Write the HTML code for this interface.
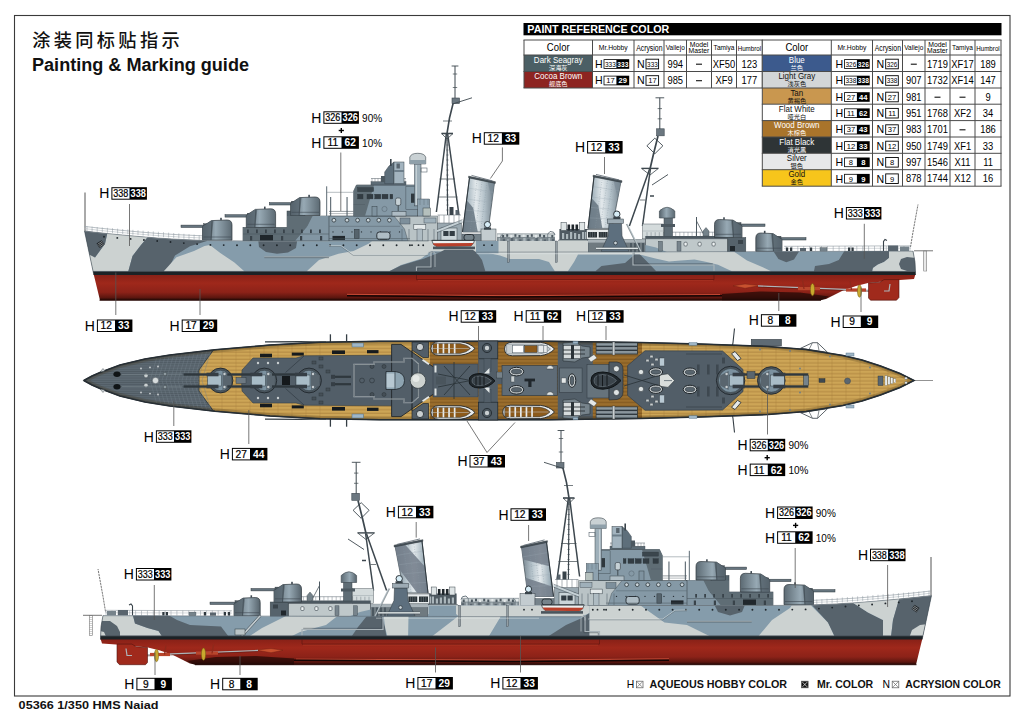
<!DOCTYPE html>
<html lang="zh"><head><meta charset="utf-8"><title>05366 1/350 HMS Naiad - Painting &amp; Marking guide</title>
<style>html,body{margin:0;padding:0;background:#fff;}svg{display:block;}</style></head>
<body>
<svg width="1024" height="719" viewBox="0 0 1024 719" font-family='"Liberation Sans", "Noto Sans CJK SC", sans-serif'>
<defs>
<linearGradient id="red" x1="0" y1="0" x2="0" y2="1"><stop offset="0" stop-color="#862017"/><stop offset="0.35" stop-color="#9f281b"/><stop offset="0.7" stop-color="#8c2218"/><stop offset="0.9" stop-color="#5c160f"/><stop offset="1" stop-color="#1f0805"/></linearGradient>
<linearGradient id="tur" x1="0" y1="0" x2="1" y2="0"><stop offset="0" stop-color="#56636c"/><stop offset="0.45" stop-color="#97a9b4"/><stop offset="1" stop-color="#5c6a73"/></linearGradient>
<linearGradient id="fun" x1="0" y1="0" x2="1" y2="0"><stop offset="0" stop-color="#5f6d77"/><stop offset="0.12" stop-color="#9fb0ba"/><stop offset="0.42" stop-color="#e3e9ec"/><stop offset="0.68" stop-color="#b4c2ca"/><stop offset="1" stop-color="#717f89"/></linearGradient>
<pattern id="plank" width="6" height="3.6" patternUnits="userSpaceOnUse"><rect width="6" height="3.6" fill="#cda556"/><rect y="2.3" width="6" height="1.3" fill="#b88f47"/></pattern>
<pattern id="plank2" width="6" height="3.6" patternUnits="userSpaceOnUse"><rect width="6" height="3.6" fill="#9b6e2d"/><rect y="2.3" width="6" height="1.3" fill="#845b22"/></pattern>
<pattern id="gplank" width="6" height="2.2" patternUnits="userSpaceOnUse"><rect width="6" height="2.2" fill="#5c6871"/><rect y="1.6" width="6" height="0.6" fill="#4d5860"/></pattern>
</defs>
<rect x="0.0" y="0.0" width="1024.0" height="719.0" fill="#fff" />
<rect x="14.5" y="15.5" width="995.5" height="680.5" fill="none" stroke="#3a3a3a" stroke-width="1.1" />
<text x="32.20" y="46.60" font-size="18.20" fill="#111" font-weight="500" text-anchor="start" letter-spacing="3.35">涂装同标贴指示</text>
<text x="32.00" y="70.60" font-size="18.90" fill="#111" font-weight="bold" text-anchor="start" textLength="217" lengthAdjust="spacingAndGlyphs">Painting &amp; Marking guide</text>
<text x="18.60" y="708.50" font-size="11.60" fill="#111" font-weight="bold" text-anchor="start" textLength="140" lengthAdjust="spacingAndGlyphs">05366 1/350 HMS Naiad</text>
<rect x="523.5" y="23.0" width="478.0" height="12.3" fill="#000" />
<text x="527.30" y="33.10" font-size="10.60" fill="#fff" font-weight="bold" text-anchor="start" textLength="142" lengthAdjust="spacingAndGlyphs">PAINT  REFERENCE COLOR</text>
<rect x="524.0" y="40.0" width="238.3" height="48.0" fill="#fff" />
<rect x="524.0" y="55.0" width="68.5" height="16.5" fill="#4b5f65" />
<rect x="524.0" y="71.5" width="68.5" height="16.5" fill="#8d2421" />
<line x1="524.0" y1="40.0" x2="524.0" y2="88.0" stroke="#4a4a4a" stroke-width="1" />
<line x1="592.5" y1="40.0" x2="592.5" y2="88.0" stroke="#4a4a4a" stroke-width="1" />
<line x1="634.0" y1="40.0" x2="634.0" y2="88.0" stroke="#4a4a4a" stroke-width="1" />
<line x1="664.0" y1="40.0" x2="664.0" y2="88.0" stroke="#4a4a4a" stroke-width="1" />
<line x1="686.5" y1="40.0" x2="686.5" y2="88.0" stroke="#4a4a4a" stroke-width="1" />
<line x1="711.5" y1="40.0" x2="711.5" y2="88.0" stroke="#4a4a4a" stroke-width="1" />
<line x1="736.5" y1="40.0" x2="736.5" y2="88.0" stroke="#4a4a4a" stroke-width="1" />
<line x1="762.3" y1="40.0" x2="762.3" y2="88.0" stroke="#4a4a4a" stroke-width="1" />
<line x1="523.5" y1="40.0" x2="762.8" y2="40.0" stroke="#4a4a4a" stroke-width="1" />
<line x1="523.5" y1="55.0" x2="762.8" y2="55.0" stroke="#4a4a4a" stroke-width="1" />
<line x1="523.5" y1="71.5" x2="762.8" y2="71.5" stroke="#4a4a4a" stroke-width="1" />
<line x1="523.5" y1="88.0" x2="762.8" y2="88.0" stroke="#4a4a4a" stroke-width="1" />
<text transform="translate(558.25,51.30) scale(0.900,1)" font-size="10.60" fill="#000" font-weight="normal" text-anchor="middle">Color</text>
<text transform="translate(613.25,50.00) scale(0.970,1)" font-size="7.00" fill="#000" font-weight="normal" text-anchor="middle">Mr.Hobby</text>
<text transform="translate(649.30,51.20) scale(0.800,1)" font-size="8.60" fill="#000" font-weight="normal" text-anchor="middle">Acrysion</text>
<text transform="translate(675.25,50.20) scale(0.970,1)" font-size="6.70" fill="#000" font-weight="normal" text-anchor="middle">Vallejo</text>
<text transform="translate(699.00,46.90) scale(1.000,1)" font-size="6.80" fill="#000" font-weight="normal" text-anchor="middle">Model</text>
<text transform="translate(699.00,52.90) scale(1.000,1)" font-size="6.80" fill="#000" font-weight="normal" text-anchor="middle">Master</text>
<text transform="translate(724.00,50.00) scale(0.980,1)" font-size="6.70" fill="#000" font-weight="normal" text-anchor="middle">Tamiya</text>
<text transform="translate(749.40,50.50) scale(0.900,1)" font-size="6.90" fill="#000" font-weight="normal" text-anchor="middle">Humbrol</text>
<text transform="translate(558.25,62.60) scale(0.950,1)" font-size="8.40" fill="#fff" font-weight="normal" text-anchor="middle">Dark Seagray</text>
<text transform="translate(558.25,69.60) scale(1.000,1)" font-size="6.20" fill="#fff" font-weight="normal" text-anchor="middle">深海灰</text>
<text x="594.90" y="67.80" font-size="10.60" fill="#000" font-weight="normal" text-anchor="start" >H</text>
<rect x="603.6" y="59.2" width="25.6" height="9.6" fill="#000" />
<rect x="604.4" y="60.0" width="12.0" height="8.0" fill="#fff" />
<text x="610.40" y="66.80" font-size="7.60" fill="#000" font-weight="normal" text-anchor="middle" textLength="10.8" lengthAdjust="spacingAndGlyphs">333</text>
<text x="622.80" y="66.80" font-size="7.60" fill="#fff" font-weight="bold" text-anchor="middle" textLength="11.0" lengthAdjust="spacingAndGlyphs">333</text>
<text x="636.90" y="67.80" font-size="10.60" fill="#000" font-weight="normal" text-anchor="start" >N</text>
<rect x="646.0" y="59.2" width="12.6" height="9.6" fill="#fff" stroke="#000" stroke-width="0.9" />
<text x="652.40" y="66.80" font-size="7.60" fill="#000" font-weight="normal" text-anchor="middle" textLength="10.6" lengthAdjust="spacingAndGlyphs">333</text>
<text transform="translate(675.25,67.60) scale(0.920,1)" font-size="10.20" fill="#000" font-weight="normal" text-anchor="middle">994</text>
<line x1="696.0" y1="64.2" x2="702.0" y2="64.2" stroke="#111" stroke-width="1.1" />
<text transform="translate(724.00,67.60) scale(0.920,1)" font-size="10.20" fill="#000" font-weight="normal" text-anchor="middle">XF50</text>
<text transform="translate(749.40,67.60) scale(0.920,1)" font-size="10.20" fill="#000" font-weight="normal" text-anchor="middle">123</text>
<text transform="translate(558.25,79.10) scale(0.950,1)" font-size="8.40" fill="#fff" font-weight="normal" text-anchor="middle">Cocoa Brown</text>
<text transform="translate(558.25,86.10) scale(1.000,1)" font-size="6.20" fill="#fff" font-weight="normal" text-anchor="middle">舰底色</text>
<text x="594.90" y="84.30" font-size="10.60" fill="#000" font-weight="normal" text-anchor="start" >H</text>
<rect x="603.6" y="75.7" width="25.6" height="9.6" fill="#000" />
<rect x="604.4" y="76.5" width="12.0" height="8.0" fill="#fff" />
<text x="610.40" y="83.30" font-size="7.60" fill="#000" font-weight="normal" text-anchor="middle" >17</text>
<text x="622.80" y="83.30" font-size="7.60" fill="#fff" font-weight="bold" text-anchor="middle" >29</text>
<text x="636.90" y="84.30" font-size="10.60" fill="#000" font-weight="normal" text-anchor="start" >N</text>
<rect x="646.0" y="75.7" width="12.6" height="9.6" fill="#fff" stroke="#000" stroke-width="0.9" />
<text x="652.40" y="83.30" font-size="7.60" fill="#000" font-weight="normal" text-anchor="middle" >17</text>
<text transform="translate(675.25,84.10) scale(0.920,1)" font-size="10.20" fill="#000" font-weight="normal" text-anchor="middle">985</text>
<line x1="696.0" y1="80.7" x2="702.0" y2="80.7" stroke="#111" stroke-width="1.1" />
<text transform="translate(724.00,84.10) scale(0.920,1)" font-size="10.20" fill="#000" font-weight="normal" text-anchor="middle">XF9</text>
<text transform="translate(749.40,84.10) scale(0.920,1)" font-size="10.20" fill="#000" font-weight="normal" text-anchor="middle">177</text>
<rect x="762.3" y="40.0" width="238.7" height="146.2" fill="#fff" />
<rect x="762.3" y="55.0" width="69.0" height="16.5" fill="#3c5a8d" />
<rect x="762.3" y="71.5" width="69.0" height="16.5" fill="#d3d6d8" />
<rect x="762.3" y="88.0" width="69.0" height="16.2" fill="#c9974f" />
<rect x="762.3" y="104.2" width="69.0" height="16.4" fill="#ffffff" />
<rect x="762.3" y="120.6" width="69.0" height="16.4" fill="#a9742b" />
<rect x="762.3" y="137.0" width="69.0" height="16.3" fill="#2e3436" />
<rect x="762.3" y="153.3" width="69.0" height="16.4" fill="#e7e8e9" />
<rect x="762.3" y="169.7" width="69.0" height="16.5" fill="#f7c51b" />
<line x1="762.3" y1="40.0" x2="762.3" y2="186.2" stroke="#4a4a4a" stroke-width="1" />
<line x1="831.3" y1="40.0" x2="831.3" y2="186.2" stroke="#4a4a4a" stroke-width="1" />
<line x1="872.5" y1="40.0" x2="872.5" y2="186.2" stroke="#4a4a4a" stroke-width="1" />
<line x1="902.5" y1="40.0" x2="902.5" y2="186.2" stroke="#4a4a4a" stroke-width="1" />
<line x1="925.0" y1="40.0" x2="925.0" y2="186.2" stroke="#4a4a4a" stroke-width="1" />
<line x1="950.0" y1="40.0" x2="950.0" y2="186.2" stroke="#4a4a4a" stroke-width="1" />
<line x1="975.0" y1="40.0" x2="975.0" y2="186.2" stroke="#4a4a4a" stroke-width="1" />
<line x1="1001.0" y1="40.0" x2="1001.0" y2="186.2" stroke="#4a4a4a" stroke-width="1" />
<line x1="761.8" y1="40.0" x2="1001.5" y2="40.0" stroke="#4a4a4a" stroke-width="1" />
<line x1="761.8" y1="55.0" x2="1001.5" y2="55.0" stroke="#4a4a4a" stroke-width="1" />
<line x1="761.8" y1="71.5" x2="1001.5" y2="71.5" stroke="#4a4a4a" stroke-width="1" />
<line x1="761.8" y1="88.0" x2="1001.5" y2="88.0" stroke="#4a4a4a" stroke-width="1" />
<line x1="761.8" y1="104.2" x2="1001.5" y2="104.2" stroke="#4a4a4a" stroke-width="1" />
<line x1="761.8" y1="120.6" x2="1001.5" y2="120.6" stroke="#4a4a4a" stroke-width="1" />
<line x1="761.8" y1="137.0" x2="1001.5" y2="137.0" stroke="#4a4a4a" stroke-width="1" />
<line x1="761.8" y1="153.3" x2="1001.5" y2="153.3" stroke="#4a4a4a" stroke-width="1" />
<line x1="761.8" y1="169.7" x2="1001.5" y2="169.7" stroke="#4a4a4a" stroke-width="1" />
<line x1="761.8" y1="186.2" x2="1001.5" y2="186.2" stroke="#4a4a4a" stroke-width="1" />
<text transform="translate(796.80,51.30) scale(0.900,1)" font-size="10.60" fill="#000" font-weight="normal" text-anchor="middle">Color</text>
<text transform="translate(851.90,50.00) scale(0.970,1)" font-size="7.00" fill="#000" font-weight="normal" text-anchor="middle">Mr.Hobby</text>
<text transform="translate(887.80,51.20) scale(0.800,1)" font-size="8.60" fill="#000" font-weight="normal" text-anchor="middle">Acrysion</text>
<text transform="translate(913.75,50.20) scale(0.970,1)" font-size="6.70" fill="#000" font-weight="normal" text-anchor="middle">Vallejo</text>
<text transform="translate(937.50,46.90) scale(1.000,1)" font-size="6.80" fill="#000" font-weight="normal" text-anchor="middle">Model</text>
<text transform="translate(937.50,52.90) scale(1.000,1)" font-size="6.80" fill="#000" font-weight="normal" text-anchor="middle">Master</text>
<text transform="translate(962.50,50.00) scale(0.980,1)" font-size="6.70" fill="#000" font-weight="normal" text-anchor="middle">Tamiya</text>
<text transform="translate(988.00,50.50) scale(0.900,1)" font-size="6.90" fill="#000" font-weight="normal" text-anchor="middle">Humbrol</text>
<text transform="translate(796.80,62.60) scale(0.950,1)" font-size="8.40" fill="#fff" font-weight="normal" text-anchor="middle">Blue</text>
<text transform="translate(796.80,69.60) scale(1.000,1)" font-size="6.20" fill="#fff" font-weight="normal" text-anchor="middle">兰色</text>
<text x="835.40" y="67.80" font-size="10.60" fill="#000" font-weight="normal" text-anchor="start" >H</text>
<rect x="844.1" y="59.2" width="25.6" height="9.6" fill="#000" />
<rect x="844.9" y="60.0" width="12.0" height="8.0" fill="#fff" />
<text x="850.90" y="66.80" font-size="7.60" fill="#000" font-weight="normal" text-anchor="middle" textLength="10.8" lengthAdjust="spacingAndGlyphs">326</text>
<text x="863.30" y="66.80" font-size="7.60" fill="#fff" font-weight="bold" text-anchor="middle" textLength="11.0" lengthAdjust="spacingAndGlyphs">326</text>
<text x="876.60" y="67.80" font-size="10.60" fill="#000" font-weight="normal" text-anchor="start" >N</text>
<rect x="885.7" y="59.2" width="12.6" height="9.6" fill="#fff" stroke="#000" stroke-width="0.9" />
<text x="892.10" y="66.80" font-size="7.60" fill="#000" font-weight="normal" text-anchor="middle" textLength="10.6" lengthAdjust="spacingAndGlyphs">326</text>
<line x1="910.8" y1="64.2" x2="916.8" y2="64.2" stroke="#111" stroke-width="1.1" />
<text transform="translate(937.50,67.60) scale(0.920,1)" font-size="10.20" fill="#000" font-weight="normal" text-anchor="middle">1719</text>
<text transform="translate(962.50,67.60) scale(0.920,1)" font-size="10.20" fill="#000" font-weight="normal" text-anchor="middle">XF17</text>
<text transform="translate(988.00,67.60) scale(0.920,1)" font-size="10.20" fill="#000" font-weight="normal" text-anchor="middle">189</text>
<text transform="translate(796.80,79.10) scale(0.950,1)" font-size="8.40" fill="#111" font-weight="normal" text-anchor="middle">Light Gray</text>
<text transform="translate(796.80,86.10) scale(1.000,1)" font-size="6.20" fill="#111" font-weight="normal" text-anchor="middle">浅灰色</text>
<text x="835.40" y="84.30" font-size="10.60" fill="#000" font-weight="normal" text-anchor="start" >H</text>
<rect x="844.1" y="75.7" width="25.6" height="9.6" fill="#000" />
<rect x="844.9" y="76.5" width="12.0" height="8.0" fill="#fff" />
<text x="850.90" y="83.30" font-size="7.60" fill="#000" font-weight="normal" text-anchor="middle" textLength="10.8" lengthAdjust="spacingAndGlyphs">338</text>
<text x="863.30" y="83.30" font-size="7.60" fill="#fff" font-weight="bold" text-anchor="middle" textLength="11.0" lengthAdjust="spacingAndGlyphs">338</text>
<text x="876.60" y="84.30" font-size="10.60" fill="#000" font-weight="normal" text-anchor="start" >N</text>
<rect x="885.7" y="75.7" width="12.6" height="9.6" fill="#fff" stroke="#000" stroke-width="0.9" />
<text x="892.10" y="83.30" font-size="7.60" fill="#000" font-weight="normal" text-anchor="middle" textLength="10.6" lengthAdjust="spacingAndGlyphs">338</text>
<text transform="translate(913.75,84.10) scale(0.920,1)" font-size="10.20" fill="#000" font-weight="normal" text-anchor="middle">907</text>
<text transform="translate(937.50,84.10) scale(0.920,1)" font-size="10.20" fill="#000" font-weight="normal" text-anchor="middle">1732</text>
<text transform="translate(962.50,84.10) scale(0.920,1)" font-size="10.20" fill="#000" font-weight="normal" text-anchor="middle">XF14</text>
<text transform="translate(988.00,84.10) scale(0.920,1)" font-size="10.20" fill="#000" font-weight="normal" text-anchor="middle">147</text>
<text transform="translate(796.80,95.60) scale(0.950,1)" font-size="8.40" fill="#111" font-weight="normal" text-anchor="middle">Tan</text>
<text transform="translate(796.80,102.60) scale(1.000,1)" font-size="6.20" fill="#111" font-weight="normal" text-anchor="middle">黄褐色</text>
<text x="835.40" y="100.80" font-size="10.60" fill="#000" font-weight="normal" text-anchor="start" >H</text>
<rect x="844.1" y="92.2" width="25.6" height="9.6" fill="#000" />
<rect x="844.9" y="93.0" width="12.0" height="8.0" fill="#fff" />
<text x="850.90" y="99.80" font-size="7.60" fill="#000" font-weight="normal" text-anchor="middle" >27</text>
<text x="863.30" y="99.80" font-size="7.60" fill="#fff" font-weight="bold" text-anchor="middle" >44</text>
<text x="876.60" y="100.80" font-size="10.60" fill="#000" font-weight="normal" text-anchor="start" >N</text>
<rect x="885.7" y="92.2" width="12.6" height="9.6" fill="#fff" stroke="#000" stroke-width="0.9" />
<text x="892.10" y="99.80" font-size="7.60" fill="#000" font-weight="normal" text-anchor="middle" >27</text>
<text transform="translate(913.75,100.60) scale(0.920,1)" font-size="10.20" fill="#000" font-weight="normal" text-anchor="middle">981</text>
<line x1="934.5" y1="97.2" x2="940.5" y2="97.2" stroke="#111" stroke-width="1.1" />
<line x1="959.5" y1="97.2" x2="965.5" y2="97.2" stroke="#111" stroke-width="1.1" />
<text transform="translate(988.00,100.60) scale(0.920,1)" font-size="10.20" fill="#000" font-weight="normal" text-anchor="middle">9</text>
<text transform="translate(796.80,111.80) scale(0.950,1)" font-size="8.40" fill="#111" font-weight="normal" text-anchor="middle">Flat White</text>
<text transform="translate(796.80,118.80) scale(1.000,1)" font-size="6.20" fill="#111" font-weight="normal" text-anchor="middle">哑光白</text>
<text x="835.40" y="117.00" font-size="10.60" fill="#000" font-weight="normal" text-anchor="start" >H</text>
<rect x="844.1" y="108.4" width="25.6" height="9.6" fill="#000" />
<rect x="844.9" y="109.2" width="12.0" height="8.0" fill="#fff" />
<text x="850.90" y="116.00" font-size="7.60" fill="#000" font-weight="normal" text-anchor="middle" >11</text>
<text x="863.30" y="116.00" font-size="7.60" fill="#fff" font-weight="bold" text-anchor="middle" >62</text>
<text x="876.60" y="117.00" font-size="10.60" fill="#000" font-weight="normal" text-anchor="start" >N</text>
<rect x="885.7" y="108.4" width="12.6" height="9.6" fill="#fff" stroke="#000" stroke-width="0.9" />
<text x="892.10" y="116.00" font-size="7.60" fill="#000" font-weight="normal" text-anchor="middle" >11</text>
<text transform="translate(913.75,116.80) scale(0.920,1)" font-size="10.20" fill="#000" font-weight="normal" text-anchor="middle">951</text>
<text transform="translate(937.50,116.80) scale(0.920,1)" font-size="10.20" fill="#000" font-weight="normal" text-anchor="middle">1768</text>
<text transform="translate(962.50,116.80) scale(0.920,1)" font-size="10.20" fill="#000" font-weight="normal" text-anchor="middle">XF2</text>
<text transform="translate(988.00,116.80) scale(0.920,1)" font-size="10.20" fill="#000" font-weight="normal" text-anchor="middle">34</text>
<text transform="translate(796.80,128.20) scale(0.950,1)" font-size="8.40" fill="#fff" font-weight="normal" text-anchor="middle">Wood Brown</text>
<text transform="translate(796.80,135.20) scale(1.000,1)" font-size="6.20" fill="#fff" font-weight="normal" text-anchor="middle">木棕色</text>
<text x="835.40" y="133.40" font-size="10.60" fill="#000" font-weight="normal" text-anchor="start" >H</text>
<rect x="844.1" y="124.8" width="25.6" height="9.6" fill="#000" />
<rect x="844.9" y="125.6" width="12.0" height="8.0" fill="#fff" />
<text x="850.90" y="132.40" font-size="7.60" fill="#000" font-weight="normal" text-anchor="middle" >37</text>
<text x="863.30" y="132.40" font-size="7.60" fill="#fff" font-weight="bold" text-anchor="middle" >43</text>
<text x="876.60" y="133.40" font-size="10.60" fill="#000" font-weight="normal" text-anchor="start" >N</text>
<rect x="885.7" y="124.8" width="12.6" height="9.6" fill="#fff" stroke="#000" stroke-width="0.9" />
<text x="892.10" y="132.40" font-size="7.60" fill="#000" font-weight="normal" text-anchor="middle" >37</text>
<text transform="translate(913.75,133.20) scale(0.920,1)" font-size="10.20" fill="#000" font-weight="normal" text-anchor="middle">983</text>
<text transform="translate(937.50,133.20) scale(0.920,1)" font-size="10.20" fill="#000" font-weight="normal" text-anchor="middle">1701</text>
<line x1="959.5" y1="129.8" x2="965.5" y2="129.8" stroke="#111" stroke-width="1.1" />
<text transform="translate(988.00,133.20) scale(0.920,1)" font-size="10.20" fill="#000" font-weight="normal" text-anchor="middle">186</text>
<text transform="translate(796.80,144.60) scale(0.950,1)" font-size="8.40" fill="#fff" font-weight="normal" text-anchor="middle">Flat Black</text>
<text transform="translate(796.80,151.60) scale(1.000,1)" font-size="6.20" fill="#fff" font-weight="normal" text-anchor="middle">消光黑</text>
<text x="835.40" y="149.80" font-size="10.60" fill="#000" font-weight="normal" text-anchor="start" >H</text>
<rect x="844.1" y="141.2" width="25.6" height="9.6" fill="#000" />
<rect x="844.9" y="142.0" width="12.0" height="8.0" fill="#fff" />
<text x="850.90" y="148.80" font-size="7.60" fill="#000" font-weight="normal" text-anchor="middle" >12</text>
<text x="863.30" y="148.80" font-size="7.60" fill="#fff" font-weight="bold" text-anchor="middle" >33</text>
<text x="876.60" y="149.80" font-size="10.60" fill="#000" font-weight="normal" text-anchor="start" >N</text>
<rect x="885.7" y="141.2" width="12.6" height="9.6" fill="#fff" stroke="#000" stroke-width="0.9" />
<text x="892.10" y="148.80" font-size="7.60" fill="#000" font-weight="normal" text-anchor="middle" >12</text>
<text transform="translate(913.75,149.60) scale(0.920,1)" font-size="10.20" fill="#000" font-weight="normal" text-anchor="middle">950</text>
<text transform="translate(937.50,149.60) scale(0.920,1)" font-size="10.20" fill="#000" font-weight="normal" text-anchor="middle">1749</text>
<text transform="translate(962.50,149.60) scale(0.920,1)" font-size="10.20" fill="#000" font-weight="normal" text-anchor="middle">XF1</text>
<text transform="translate(988.00,149.60) scale(0.920,1)" font-size="10.20" fill="#000" font-weight="normal" text-anchor="middle">33</text>
<text transform="translate(796.80,160.90) scale(0.950,1)" font-size="8.40" fill="#111" font-weight="normal" text-anchor="middle">Silver</text>
<text transform="translate(796.80,167.90) scale(1.000,1)" font-size="6.20" fill="#111" font-weight="normal" text-anchor="middle">银色</text>
<text x="835.40" y="166.10" font-size="10.60" fill="#000" font-weight="normal" text-anchor="start" >H</text>
<rect x="844.1" y="157.5" width="25.6" height="9.6" fill="#000" />
<rect x="844.9" y="158.3" width="12.0" height="8.0" fill="#fff" />
<text x="850.90" y="165.10" font-size="7.60" fill="#000" font-weight="normal" text-anchor="middle" >8</text>
<text x="863.30" y="165.10" font-size="7.60" fill="#fff" font-weight="bold" text-anchor="middle" >8</text>
<text x="876.60" y="166.10" font-size="10.60" fill="#000" font-weight="normal" text-anchor="start" >N</text>
<rect x="885.7" y="157.5" width="12.6" height="9.6" fill="#fff" stroke="#000" stroke-width="0.9" />
<text x="892.10" y="165.10" font-size="7.60" fill="#000" font-weight="normal" text-anchor="middle" >8</text>
<text transform="translate(913.75,165.90) scale(0.920,1)" font-size="10.20" fill="#000" font-weight="normal" text-anchor="middle">997</text>
<text transform="translate(937.50,165.90) scale(0.920,1)" font-size="10.20" fill="#000" font-weight="normal" text-anchor="middle">1546</text>
<text transform="translate(962.50,165.90) scale(0.920,1)" font-size="10.20" fill="#000" font-weight="normal" text-anchor="middle">X11</text>
<text transform="translate(988.00,165.90) scale(0.920,1)" font-size="10.20" fill="#000" font-weight="normal" text-anchor="middle">11</text>
<text transform="translate(796.80,177.30) scale(0.950,1)" font-size="8.40" fill="#111" font-weight="normal" text-anchor="middle">Gold</text>
<text transform="translate(796.80,184.30) scale(1.000,1)" font-size="6.20" fill="#111" font-weight="normal" text-anchor="middle">金色</text>
<text x="835.40" y="182.50" font-size="10.60" fill="#000" font-weight="normal" text-anchor="start" >H</text>
<rect x="844.1" y="173.9" width="25.6" height="9.6" fill="#000" />
<rect x="844.9" y="174.7" width="12.0" height="8.0" fill="#fff" />
<text x="850.90" y="181.50" font-size="7.60" fill="#000" font-weight="normal" text-anchor="middle" >9</text>
<text x="863.30" y="181.50" font-size="7.60" fill="#fff" font-weight="bold" text-anchor="middle" >9</text>
<text x="876.60" y="182.50" font-size="10.60" fill="#000" font-weight="normal" text-anchor="start" >N</text>
<rect x="885.7" y="173.9" width="12.6" height="9.6" fill="#fff" stroke="#000" stroke-width="0.9" />
<text x="892.10" y="181.50" font-size="7.60" fill="#000" font-weight="normal" text-anchor="middle" >9</text>
<text transform="translate(913.75,182.30) scale(0.920,1)" font-size="10.20" fill="#000" font-weight="normal" text-anchor="middle">878</text>
<text transform="translate(937.50,182.30) scale(0.920,1)" font-size="10.20" fill="#000" font-weight="normal" text-anchor="middle">1744</text>
<text transform="translate(962.50,182.30) scale(0.920,1)" font-size="10.20" fill="#000" font-weight="normal" text-anchor="middle">X12</text>
<text transform="translate(988.00,182.30) scale(0.920,1)" font-size="10.20" fill="#000" font-weight="normal" text-anchor="middle">16</text>
<g>
<line x1="85.0" y1="192.5" x2="85.0" y2="231.0" stroke="#555" stroke-width="1" />
<polyline points="910.5,247.0 913.0,232.0 918.0,204.5" fill="none" stroke="#666" stroke-width="0.9" stroke-dasharray="2.2 0.8"/>
<line x1="914.0" y1="250.8" x2="933.0" y2="250.8" stroke="#666" stroke-width="0.9" />
<rect x="923.7" y="251.0" width="3.0" height="20.0" fill="none" stroke="#777" stroke-width="0.6" />
<line x1="923.7" y1="253.0" x2="926.7" y2="253.0" stroke="#888" stroke-width="0.4" />
<line x1="923.7" y1="255.0" x2="926.7" y2="255.0" stroke="#888" stroke-width="0.4" />
<line x1="923.7" y1="257.0" x2="926.7" y2="257.0" stroke="#888" stroke-width="0.4" />
<line x1="923.7" y1="259.0" x2="926.7" y2="259.0" stroke="#888" stroke-width="0.4" />
<line x1="923.7" y1="261.0" x2="926.7" y2="261.0" stroke="#888" stroke-width="0.4" />
<line x1="923.7" y1="263.0" x2="926.7" y2="263.0" stroke="#888" stroke-width="0.4" />
<line x1="923.7" y1="265.0" x2="926.7" y2="265.0" stroke="#888" stroke-width="0.4" />
<line x1="923.7" y1="267.0" x2="926.7" y2="267.0" stroke="#888" stroke-width="0.4" />
<line x1="923.7" y1="269.0" x2="926.7" y2="269.0" stroke="#888" stroke-width="0.4" />
<polyline points="84.5,226.4 100.0,228.2 120.0,230.2 140.0,232.0 160.0,233.6 180.0,234.8 207.0,236.0" fill="none" stroke="#9aa4ab" stroke-width="0.7" />
<polyline points="84.5,228.6 100.0,230.4 120.0,232.4 140.0,234.2 160.0,235.8 180.0,237.0 207.0,238.2" fill="none" stroke="#b4bcc1" stroke-width="0.6" />
<line x1="87.0" y1="226.2" x2="87.0" y2="231.2" stroke="#8d979e" stroke-width="0.5" />
<line x1="92.1" y1="226.6" x2="92.1" y2="231.6" stroke="#8d979e" stroke-width="0.5" />
<line x1="97.2" y1="227.0" x2="97.2" y2="232.0" stroke="#8d979e" stroke-width="0.5" />
<line x1="102.3" y1="227.4" x2="102.3" y2="232.4" stroke="#8d979e" stroke-width="0.5" />
<line x1="107.4" y1="227.8" x2="107.4" y2="232.8" stroke="#8d979e" stroke-width="0.5" />
<line x1="112.5" y1="228.2" x2="112.5" y2="233.2" stroke="#8d979e" stroke-width="0.5" />
<line x1="117.6" y1="228.6" x2="117.6" y2="233.6" stroke="#8d979e" stroke-width="0.5" />
<line x1="122.7" y1="229.0" x2="122.7" y2="234.0" stroke="#8d979e" stroke-width="0.5" />
<line x1="127.8" y1="229.4" x2="127.8" y2="234.4" stroke="#8d979e" stroke-width="0.5" />
<line x1="132.9" y1="229.8" x2="132.9" y2="234.8" stroke="#8d979e" stroke-width="0.5" />
<line x1="138.0" y1="230.2" x2="138.0" y2="235.2" stroke="#8d979e" stroke-width="0.5" />
<line x1="143.1" y1="230.6" x2="143.1" y2="235.6" stroke="#8d979e" stroke-width="0.5" />
<line x1="148.2" y1="231.0" x2="148.2" y2="236.0" stroke="#8d979e" stroke-width="0.5" />
<line x1="153.3" y1="231.4" x2="153.3" y2="236.4" stroke="#8d979e" stroke-width="0.5" />
<line x1="158.4" y1="231.8" x2="158.4" y2="236.8" stroke="#8d979e" stroke-width="0.5" />
<line x1="163.5" y1="232.2" x2="163.5" y2="237.2" stroke="#8d979e" stroke-width="0.5" />
<line x1="168.6" y1="232.6" x2="168.6" y2="237.6" stroke="#8d979e" stroke-width="0.5" />
<line x1="173.7" y1="233.0" x2="173.7" y2="238.0" stroke="#8d979e" stroke-width="0.5" />
<line x1="178.8" y1="233.4" x2="178.8" y2="238.4" stroke="#8d979e" stroke-width="0.5" />
<line x1="183.9" y1="233.8" x2="183.9" y2="238.8" stroke="#8d979e" stroke-width="0.5" />
<line x1="189.0" y1="234.2" x2="189.0" y2="239.2" stroke="#8d979e" stroke-width="0.5" />
<line x1="194.1" y1="234.6" x2="194.1" y2="239.6" stroke="#8d979e" stroke-width="0.5" />
<line x1="199.2" y1="235.0" x2="199.2" y2="240.0" stroke="#8d979e" stroke-width="0.5" />
<line x1="204.3" y1="235.4" x2="204.3" y2="240.4" stroke="#8d979e" stroke-width="0.5" />
<line x1="784.0" y1="246.3" x2="911.0" y2="245.8" stroke="#8d979e" stroke-width="0.6" />
<line x1="784.0" y1="248.6" x2="911.0" y2="248.2" stroke="#aab3b9" stroke-width="0.5" />
<line x1="786.0" y1="246.0" x2="786.0" y2="251.0" stroke="#8d979e" stroke-width="0.5" />
<line x1="791.9" y1="246.0" x2="791.9" y2="251.0" stroke="#8d979e" stroke-width="0.5" />
<line x1="797.8" y1="246.0" x2="797.8" y2="251.0" stroke="#8d979e" stroke-width="0.5" />
<line x1="803.7" y1="246.0" x2="803.7" y2="251.0" stroke="#8d979e" stroke-width="0.5" />
<line x1="809.6" y1="246.0" x2="809.6" y2="251.0" stroke="#8d979e" stroke-width="0.5" />
<line x1="815.5" y1="246.0" x2="815.5" y2="251.0" stroke="#8d979e" stroke-width="0.5" />
<line x1="821.4" y1="246.0" x2="821.4" y2="251.0" stroke="#8d979e" stroke-width="0.5" />
<line x1="827.3" y1="246.0" x2="827.3" y2="251.0" stroke="#8d979e" stroke-width="0.5" />
<line x1="833.2" y1="246.0" x2="833.2" y2="251.0" stroke="#8d979e" stroke-width="0.5" />
<line x1="839.1" y1="246.0" x2="839.1" y2="251.0" stroke="#8d979e" stroke-width="0.5" />
<line x1="845.0" y1="246.0" x2="845.0" y2="251.0" stroke="#8d979e" stroke-width="0.5" />
<line x1="850.9" y1="246.0" x2="850.9" y2="251.0" stroke="#8d979e" stroke-width="0.5" />
<line x1="856.8" y1="246.0" x2="856.8" y2="251.0" stroke="#8d979e" stroke-width="0.5" />
<line x1="862.7" y1="246.0" x2="862.7" y2="251.0" stroke="#8d979e" stroke-width="0.5" />
<line x1="868.6" y1="246.0" x2="868.6" y2="251.0" stroke="#8d979e" stroke-width="0.5" />
<line x1="874.5" y1="246.0" x2="874.5" y2="251.0" stroke="#8d979e" stroke-width="0.5" />
<line x1="880.4" y1="246.0" x2="880.4" y2="251.0" stroke="#8d979e" stroke-width="0.5" />
<line x1="886.3" y1="246.0" x2="886.3" y2="251.0" stroke="#8d979e" stroke-width="0.5" />
<line x1="892.2" y1="246.0" x2="892.2" y2="251.0" stroke="#8d979e" stroke-width="0.5" />
<line x1="898.1" y1="246.0" x2="898.1" y2="251.0" stroke="#8d979e" stroke-width="0.5" />
<line x1="904.0" y1="246.0" x2="904.0" y2="251.0" stroke="#8d979e" stroke-width="0.5" />
<line x1="909.9" y1="246.0" x2="909.9" y2="251.0" stroke="#8d979e" stroke-width="0.5" />
<line x1="436.4" y1="212.0" x2="446.4" y2="133.5" stroke="#3d474e" stroke-width="1.5" />
<line x1="459.0" y1="215.0" x2="447.6" y2="133.5" stroke="#3d474e" stroke-width="1.5" />
<line x1="447.0" y1="133.5" x2="447.6" y2="215.0" stroke="#3d474e" stroke-width="1.2" />
<line x1="446.2" y1="140.0" x2="448.6" y2="140.0" stroke="#3d474e" stroke-width="0.5" />
<line x1="446.2" y1="145.0" x2="448.6" y2="145.0" stroke="#3d474e" stroke-width="0.5" />
<line x1="446.2" y1="150.0" x2="448.6" y2="150.0" stroke="#3d474e" stroke-width="0.5" />
<line x1="446.2" y1="155.0" x2="448.6" y2="155.0" stroke="#3d474e" stroke-width="0.5" />
<line x1="446.2" y1="160.0" x2="448.6" y2="160.0" stroke="#3d474e" stroke-width="0.5" />
<line x1="446.2" y1="165.0" x2="448.6" y2="165.0" stroke="#3d474e" stroke-width="0.5" />
<line x1="446.2" y1="170.0" x2="448.6" y2="170.0" stroke="#3d474e" stroke-width="0.5" />
<line x1="446.2" y1="175.0" x2="448.6" y2="175.0" stroke="#3d474e" stroke-width="0.5" />
<line x1="446.2" y1="180.0" x2="448.6" y2="180.0" stroke="#3d474e" stroke-width="0.5" />
<line x1="446.2" y1="185.0" x2="448.6" y2="185.0" stroke="#3d474e" stroke-width="0.5" />
<line x1="446.2" y1="190.0" x2="448.6" y2="190.0" stroke="#3d474e" stroke-width="0.5" />
<line x1="446.2" y1="195.0" x2="448.6" y2="195.0" stroke="#3d474e" stroke-width="0.5" />
<line x1="446.2" y1="200.0" x2="448.6" y2="200.0" stroke="#3d474e" stroke-width="0.5" />
<line x1="446.2" y1="205.0" x2="448.6" y2="205.0" stroke="#3d474e" stroke-width="0.5" />
<line x1="446.2" y1="210.0" x2="448.6" y2="210.0" stroke="#3d474e" stroke-width="0.5" />
<line x1="441.5" y1="133.5" x2="453.0" y2="133.5" stroke="#3d474e" stroke-width="1.6" />
<polyline points="441.5,133.5 447.0,139.0 453.0,133.5" fill="none" stroke="#3d474e" stroke-width="0.8" />
<line x1="439.5" y1="179.0" x2="455.0" y2="179.0" stroke="#3d474e" stroke-width="0.7" />
<line x1="438.0" y1="197.0" x2="457.5" y2="197.0" stroke="#3d474e" stroke-width="0.7" />
<polyline points="447.0,133.5 449.5,118.0 453.2,103.0" fill="none" stroke="#3d474e" stroke-width="1.6" />
<rect x="452.0" y="98.0" width="7.5" height="5.5" fill="#6b7780" stroke="#3d474e" stroke-width="0.6" />
<line x1="455.0" y1="66.0" x2="455.0" y2="98.0" stroke="#3d474e" stroke-width="1.0" />
<line x1="451.6" y1="66.0" x2="458.4" y2="66.0" stroke="#3d474e" stroke-width="0.9" />
<line x1="452.8" y1="74.0" x2="457.2" y2="74.0" stroke="#3d474e" stroke-width="0.7" />
<line x1="452.8" y1="87.5" x2="457.2" y2="87.5" stroke="#3d474e" stroke-width="0.7" />
<line x1="452.5" y1="104.0" x2="472.0" y2="97.8" stroke="#3d474e" stroke-width="0.9" />
<line x1="443.0" y1="121.0" x2="452.0" y2="121.0" stroke="#3d474e" stroke-width="0.7" />
<line x1="629.4" y1="226.0" x2="649.6" y2="169.0" stroke="#3d474e" stroke-width="1.5" />
<line x1="642.5" y1="226.0" x2="650.4" y2="169.0" stroke="#3d474e" stroke-width="1.5" />
<line x1="640.0" y1="200.0" x2="645.5" y2="200.0" stroke="#3d474e" stroke-width="0.7" />
<line x1="641.5" y1="168.4" x2="658.4" y2="168.4" stroke="#3d474e" stroke-width="1.4" />
<polyline points="641.5,168.4 650.0,175.0 658.4,168.4" fill="none" stroke="#3d474e" stroke-width="0.8" />
<polyline points="650.0,169.0 653.5,154.0 658.0,136.0" fill="none" stroke="#3d474e" stroke-width="1.7" />
<line x1="652.0" y1="185.0" x2="668.0" y2="174.5" stroke="#3d474e" stroke-width="0.9" />
<line x1="650.0" y1="196.0" x2="654.0" y2="196.0" stroke="#3d474e" stroke-width="1.5" />
<polygon points="654.8,138.2 662.9,145.8 654.8,153.8 646.9,145.8" fill="none" stroke="#3d474e" stroke-width="0.9" />
<rect x="656.6" y="128.8" width="7.6" height="7.0" fill="#6b7780" stroke="#3d474e" stroke-width="0.6" />
<line x1="659.8" y1="97.8" x2="659.8" y2="129.0" stroke="#3d474e" stroke-width="1.0" />
<line x1="655.5" y1="97.8" x2="664.2" y2="97.8" stroke="#3d474e" stroke-width="0.9" />
<line x1="657.6" y1="108.6" x2="662.0" y2="108.6" stroke="#3d474e" stroke-width="0.7" />
<line x1="657.6" y1="118.8" x2="662.0" y2="118.8" stroke="#3d474e" stroke-width="0.7" />
<polygon points="469.5,177.0 494.5,182.5 488.0,232.0 462.5,232.0" fill="url(#fun)" stroke="#3f4a52" stroke-width="0.7" />
<polygon points="466.6,200.1 473.2,208.0 477.8,232.0 462.5,232.0" fill="#6a7984" opacity="0.9"/>
<polygon points="487.5,181.0 494.5,182.5 492.2,200.3" fill="#7b8a95" opacity="0.7"/>
<line x1="477.0" y1="180.7" x2="470.1" y2="232.0" stroke="#8796a0" stroke-width="0.5" stroke-dasharray="0.8 1.6"/>
<line x1="482.0" y1="181.8" x2="475.2" y2="232.0" stroke="#8796a0" stroke-width="0.5" stroke-dasharray="0.8 1.6"/>
<line x1="487.0" y1="182.8" x2="480.4" y2="232.0" stroke="#8796a0" stroke-width="0.5" stroke-dasharray="0.8 1.6"/>
<line x1="468.1" y1="188.0" x2="493.2" y2="192.4" stroke="#9aa8b1" stroke-width="0.3" />
<line x1="466.7" y1="199.0" x2="491.9" y2="202.3" stroke="#9aa8b1" stroke-width="0.3" />
<line x1="465.3" y1="210.0" x2="490.6" y2="212.2" stroke="#9aa8b1" stroke-width="0.3" />
<line x1="463.9" y1="221.0" x2="489.3" y2="222.1" stroke="#9aa8b1" stroke-width="0.3" />
<polygon points="468.6,176.2 495.4,181.7 495.3,183.4 468.7,177.9" fill="#4a555d" stroke="#2a3237" stroke-width="0.5" />
<line x1="471.5" y1="175.4" x2="492.5" y2="180.9" stroke="#59656e" stroke-width="0.8" />
<line x1="469.5" y1="178.0" x2="462.5" y2="232.0" stroke="#2f383e" stroke-width="1.0" />
<polygon points="594.0,176.0 621.0,181.5 612.0,228.4 588.0,228.4" fill="url(#fun)" stroke="#3f4a52" stroke-width="0.7" />
<polygon points="591.5,198.0 598.3,205.6 602.4,228.4 588.0,228.4" fill="#6a7984" opacity="0.9"/>
<polygon points="613.4,180.0 621.0,181.5 617.8,198.4" fill="#7b8a95" opacity="0.7"/>
<line x1="602.1" y1="179.7" x2="595.2" y2="228.4" stroke="#8796a0" stroke-width="0.5" stroke-dasharray="0.8 1.6"/>
<line x1="607.5" y1="180.8" x2="600.0" y2="228.4" stroke="#8796a0" stroke-width="0.5" stroke-dasharray="0.8 1.6"/>
<line x1="612.9" y1="181.8" x2="604.8" y2="228.4" stroke="#8796a0" stroke-width="0.5" stroke-dasharray="0.8 1.6"/>
<line x1="592.8" y1="186.5" x2="619.2" y2="190.9" stroke="#9aa8b1" stroke-width="0.3" />
<line x1="591.6" y1="197.0" x2="617.4" y2="200.3" stroke="#9aa8b1" stroke-width="0.3" />
<line x1="590.4" y1="207.4" x2="615.6" y2="209.6" stroke="#9aa8b1" stroke-width="0.3" />
<line x1="589.2" y1="217.9" x2="613.8" y2="219.0" stroke="#9aa8b1" stroke-width="0.3" />
<polygon points="593.1,175.2 621.9,180.7 621.8,182.4 593.2,176.9" fill="#4a555d" stroke="#2a3237" stroke-width="0.5" />
<line x1="596.0" y1="174.4" x2="619.0" y2="179.9" stroke="#59656e" stroke-width="0.8" />
<line x1="594.0" y1="177.0" x2="588.0" y2="228.4" stroke="#2f383e" stroke-width="1.0" />
<rect x="243.0" y="227.5" width="86.0" height="13.3" fill="#637480" stroke="#39434a" stroke-width="0.6" />
<rect x="287.0" y="211.0" width="18.0" height="16.5" fill="#55636c" stroke="#39434a" stroke-width="0.5" />
<rect x="305.0" y="216.0" width="24.5" height="11.7" fill="#8296a3" stroke="#39434a" stroke-width="0.5" />
<polygon points="295.0,240.8 307.5,226.0 312.5,216.0 329.0,216.0 329.0,240.8" fill="#8296a3" />
<rect x="329.0" y="216.0" width="93.0" height="25.0" fill="#8599a6" stroke="#39434a" stroke-width="0.6" />
<polygon points="243.0,240.8 243.0,228.0 287.0,228.0 287.0,216.0 300.0,216.0 312.5,216.0 307.5,226.0 295.0,240.8" fill="#5f6d75" />
<polygon points="394.0,216.0 404.5,229.0 408.0,241.0 437.5,241.0 437.5,216.0" fill="#b9c3c6" stroke="#39434a" stroke-width="0.4" />
<line x1="243.0" y1="234.0" x2="329.0" y2="234.0" stroke="#46525a" stroke-width="0.5" />
<rect x="260.0" y="235.0" width="13.0" height="5.4" fill="#20272c" />
<rect x="247.0" y="229.5" width="1.8" height="3.6" fill="#39434a" />
<rect x="256.0" y="229.5" width="1.8" height="3.6" fill="#39434a" />
<rect x="265.0" y="229.5" width="1.8" height="3.6" fill="#39434a" />
<rect x="274.0" y="229.5" width="1.8" height="3.6" fill="#39434a" />
<rect x="283.0" y="229.5" width="1.8" height="3.6" fill="#39434a" />
<rect x="292.0" y="229.5" width="1.8" height="3.6" fill="#39434a" />
<rect x="301.0" y="229.5" width="1.8" height="3.6" fill="#39434a" />
<rect x="310.0" y="229.5" width="1.8" height="3.6" fill="#39434a" />
<rect x="319.0" y="229.5" width="1.8" height="3.6" fill="#39434a" />
<rect x="250.0" y="236.0" width="2.2" height="4.5" fill="#39434a" />
<rect x="281.0" y="236.0" width="2.2" height="4.5" fill="#39434a" />
<rect x="300.0" y="236.0" width="2.2" height="4.5" fill="#39434a" />
<rect x="320.0" y="236.0" width="2.2" height="4.5" fill="#39434a" />
<circle cx="333.9" cy="220.2" r="1.9" fill="#c9d3d8" stroke="#2f383e" stroke-width="0.8"/>
<circle cx="347.0" cy="220.2" r="1.9" fill="#c9d3d8" stroke="#2f383e" stroke-width="0.8"/>
<circle cx="357.6" cy="220.2" r="1.9" fill="#c9d3d8" stroke="#2f383e" stroke-width="0.8"/>
<circle cx="368.2" cy="220.2" r="1.9" fill="#c9d3d8" stroke="#2f383e" stroke-width="0.8"/>
<circle cx="378.8" cy="220.2" r="1.9" fill="#c9d3d8" stroke="#2f383e" stroke-width="0.8"/>
<circle cx="389.4" cy="220.2" r="1.9" fill="#c9d3d8" stroke="#2f383e" stroke-width="0.8"/>
<circle cx="333.0" cy="231.9" r="0.7" fill="#2b3339"/>
<circle cx="342.5" cy="231.9" r="0.7" fill="#2b3339"/>
<circle cx="352.0" cy="231.9" r="0.7" fill="#2b3339"/>
<circle cx="361.5" cy="231.9" r="0.7" fill="#2b3339"/>
<circle cx="371.0" cy="231.9" r="0.7" fill="#2b3339"/>
<circle cx="380.5" cy="231.9" r="0.7" fill="#2b3339"/>
<circle cx="390.0" cy="231.9" r="0.7" fill="#2b3339"/>
<circle cx="399.5" cy="231.9" r="0.7" fill="#2b3339"/>
<line x1="329.0" y1="226.3" x2="400.0" y2="226.3" stroke="#5d6c76" stroke-width="0.6" />
<rect x="354.3" y="229.3" width="4.8" height="9.4" fill="#55636c" stroke="#2f383e" stroke-width="0.5" />
<rect x="332.5" y="235.9" width="12.5" height="4.0" fill="#20272c" />
<rect x="376.8" y="232" width="13.2" height="7.6" rx="2.5" fill="#aebcc4" stroke="#20272c" stroke-width="0.9"/>
<line x1="329.0" y1="238.6" x2="410.0" y2="238.6" stroke="#46525a" stroke-width="0.5" />
<rect x="413.8" y="224.6" width="12.0" height="4.7" fill="#e4e9ea" stroke="#39434a" stroke-width="0.5" />
<rect x="417.0" y="229.0" width="5.5" height="12.0" fill="#aebbc2" stroke="#39434a" stroke-width="0.4" />
<rect x="400.0" y="218.0" width="10.0" height="6.0" fill="#7d8f9b" stroke="#39434a" stroke-width="0.4" />
<rect x="424.0" y="218.0" width="12.0" height="5.0" fill="#9fb0ba" stroke="#39434a" stroke-width="0.4" />
<line x1="402.0" y1="229.0" x2="402.0" y2="241.0" stroke="#59656e" stroke-width="0.6" />
<line x1="409.0" y1="229.0" x2="409.0" y2="241.0" stroke="#59656e" stroke-width="0.6" />
<line x1="428.0" y1="229.0" x2="428.0" y2="241.0" stroke="#59656e" stroke-width="0.6" />
<line x1="434.0" y1="229.0" x2="434.0" y2="241.0" stroke="#59656e" stroke-width="0.6" />
<polygon points="353.7,216.0 353.7,191.0 356.5,185.0 417.8,185.0 417.8,216.0" fill="#8599a6" stroke="#39434a" stroke-width="0.6" />
<polygon points="353.7,216.0 353.7,191.0 356.5,185.0 374.0,185.0 365.0,216.0" fill="#5f6d75" />
<rect x="405.9" y="186.3" width="12.5" height="23.0" fill="#8499a6" stroke="#39434a" stroke-width="0.4" />
<rect x="411.0" y="193.6" width="4.8" height="9.2" fill="#2f383e" />
<rect x="357.6" y="187.6" width="16.0" height="4.0" fill="#3b464d" stroke="#2f383e" stroke-width="0.4" />
<rect x="357.6" y="194.2" width="5.4" height="4.7" fill="#323c43" stroke="#2f383e" stroke-width="0.4" />
<rect x="367.0" y="194.2" width="6.0" height="4.7" fill="#323c43" stroke="#2f383e" stroke-width="0.4" />
<rect x="374.8" y="194.2" width="6.0" height="4.7" fill="#323c43" stroke="#2f383e" stroke-width="0.4" />
<rect x="382.0" y="194.2" width="6.0" height="4.7" fill="#323c43" stroke="#2f383e" stroke-width="0.4" />
<rect x="390.0" y="194.2" width="2.8" height="4.7" fill="#323c43" stroke="#2f383e" stroke-width="0.4" />
<rect x="372.0" y="206.5" width="5.0" height="9.5" fill="#7f93a0" stroke="#39434a" stroke-width="0.5" />
<circle cx="384.5" cy="209" r="2.6" fill="none" stroke="#5d6c76" stroke-width="0.6"/>
<rect x="395.6" y="198" width="5.2" height="7.4" rx="1.6" fill="#c5d0d5" stroke="#2f383e" stroke-width="0.6"/>
<line x1="398.2" y1="205.4" x2="398.2" y2="211.0" stroke="#2f383e" stroke-width="0.8" />
<rect x="392.0" y="211.5" width="14.0" height="4.5" fill="#aebcc4" stroke="#39434a" stroke-width="0.5" />
<line x1="353.7" y1="204.5" x2="365.0" y2="204.5" stroke="#4c5860" stroke-width="0.4" />
<rect x="371.0" y="181.7" width="35.0" height="3.3" fill="#5d6c76" stroke="#39434a" stroke-width="0.4" />
<line x1="372.0" y1="178.5" x2="372.0" y2="181.7" stroke="#4c5860" stroke-width="0.4" />
<line x1="375.0" y1="178.5" x2="375.0" y2="181.7" stroke="#4c5860" stroke-width="0.4" />
<line x1="378.0" y1="178.5" x2="378.0" y2="181.7" stroke="#4c5860" stroke-width="0.4" />
<line x1="381.0" y1="178.5" x2="381.0" y2="181.7" stroke="#4c5860" stroke-width="0.4" />
<line x1="384.0" y1="178.5" x2="384.0" y2="181.7" stroke="#4c5860" stroke-width="0.4" />
<line x1="387.0" y1="178.5" x2="387.0" y2="181.7" stroke="#4c5860" stroke-width="0.4" />
<line x1="390.0" y1="178.5" x2="390.0" y2="181.7" stroke="#4c5860" stroke-width="0.4" />
<line x1="393.0" y1="178.5" x2="393.0" y2="181.7" stroke="#4c5860" stroke-width="0.4" />
<line x1="396.0" y1="178.5" x2="396.0" y2="181.7" stroke="#4c5860" stroke-width="0.4" />
<line x1="399.0" y1="178.5" x2="399.0" y2="181.7" stroke="#4c5860" stroke-width="0.4" />
<line x1="402.0" y1="178.5" x2="402.0" y2="181.7" stroke="#4c5860" stroke-width="0.4" />
<line x1="405.0" y1="178.5" x2="405.0" y2="181.7" stroke="#4c5860" stroke-width="0.4" />
<line x1="371.0" y1="178.5" x2="406.0" y2="178.5" stroke="#4c5860" stroke-width="0.5" />
<polygon points="384.7,183.7 384.7,172.0 389.0,166.0 394.0,162.0 394.0,183.7" fill="#5e6f7b" stroke="#39434a" stroke-width="0.5" />
<rect x="394.0" y="162.0" width="10.0" height="21.7" fill="#a3b4bf" stroke="#39434a" stroke-width="0.5" />
<rect x="394.0" y="170.0" width="10.0" height="2.0" fill="#6d7e8a" />
<rect x="396.5" y="163.5" width="3.4" height="5.0" fill="#59656e" />
<rect x="390.0" y="159.0" width="1.6" height="7.0" fill="#39434a" />
<rect x="381.0" y="176.0" width="4.0" height="6.0" fill="#4c5860" />
<rect x="414.5" y="163.9" width="6.5" height="42.0" fill="#9fb0ba" stroke="#39434a" stroke-width="0.5" />
<line x1="416.3" y1="165.0" x2="416.3" y2="205.0" stroke="#d5dde0" stroke-width="0.9" />
<path d="M409.8,163.9 L409.8,157.2 Q411,153.3 417.7,153.3 Q424.5,153.3 425.7,157.2 L425.7,163.9 Z" fill="#c9d1d4" stroke="#39434a" stroke-width="0.6"/>
<rect x="409.8" y="160.0" width="15.9" height="3.9" fill="#8fa0aa" />
<rect x="421.0" y="168.0" width="6.0" height="4.0" fill="none" stroke="#59656e" stroke-width="0.6" />
<rect x="417.8" y="199.0" width="12.0" height="17.0" fill="#8ea2af" stroke="#39434a" stroke-width="0.4" />
<rect x="423.0" y="208.0" width="7.3" height="8.0" fill="#b5c0bd" stroke="#39434a" stroke-width="0.5" />
<line x1="420.0" y1="199.0" x2="420.0" y2="205.0" stroke="#59656e" stroke-width="0.4" />
<line x1="424.0" y1="199.0" x2="424.0" y2="205.0" stroke="#59656e" stroke-width="0.4" />
<line x1="428.0" y1="199.0" x2="428.0" y2="205.0" stroke="#59656e" stroke-width="0.4" />
<rect x="326.1" y="186.3" width="1.1" height="29.7" fill="#6c7880" />
<rect x="330.1" y="197.0" width="1.1" height="19.0" fill="#59656e" />
<rect x="346.5" y="197.0" width="1.1" height="19.0" fill="#59656e" />
<line x1="326.6" y1="192.3" x2="353.5" y2="192.3" stroke="#6c7880" stroke-width="0.5" />
<line x1="329.0" y1="211.4" x2="353.5" y2="211.4" stroke="#4c5860" stroke-width="0.6" />
<line x1="329.0" y1="213.6" x2="353.5" y2="213.6" stroke="#4c5860" stroke-width="0.4" />
<rect x="437.5" y="223.0" width="24.0" height="18.0" fill="#9aa8b0" stroke="#39434a" stroke-width="0.4" />
<rect x="441.0" y="228.0" width="16.0" height="12.4" fill="#cbd5d9" stroke="#39434a" stroke-width="0.5" />
<rect x="443.3" y="231.0" width="5.2" height="5.0" fill="#323c43" />
<rect x="449.6" y="231.0" width="5.2" height="5.0" fill="#323c43" />
<line x1="437.0" y1="231.0" x2="462.5" y2="221.0" stroke="#c5d0d5" stroke-width="2.0" />
<line x1="437.0" y1="232.6" x2="462.5" y2="222.6" stroke="#4c5860" stroke-width="0.5" />
<line x1="437.0" y1="229.6" x2="462.5" y2="219.6" stroke="#4c5860" stroke-width="0.5" />
<line x1="439.0" y1="215.0" x2="439.0" y2="223.0" stroke="#59656e" stroke-width="0.5" />
<line x1="444.0" y1="215.0" x2="444.0" y2="223.0" stroke="#59656e" stroke-width="0.5" />
<line x1="449.0" y1="215.0" x2="449.0" y2="223.0" stroke="#59656e" stroke-width="0.5" />
<line x1="454.0" y1="215.0" x2="454.0" y2="223.0" stroke="#59656e" stroke-width="0.5" />
<line x1="459.0" y1="215.0" x2="459.0" y2="223.0" stroke="#59656e" stroke-width="0.5" />
<line x1="437.5" y1="215.0" x2="461.0" y2="215.0" stroke="#59656e" stroke-width="0.5" />
<rect x="449.5" y="207.0" width="4.0" height="8.0" fill="#39434a" />
<rect x="455.5" y="210.0" width="3.0" height="5.0" fill="#59656e" />
<rect x="481.0" y="229.0" width="15.0" height="12.0" fill="#c3ccd0" stroke="#39434a" stroke-width="0.5" />
<circle cx="487.5" cy="224.6" r="3.1" fill="#d6ecf6" stroke="#20272c" stroke-width="0.9"/>
<rect x="484.0" y="227.5" width="7.0" height="2.2" fill="#39434a" />
<rect x="462.0" y="234.0" width="19.0" height="7.0" fill="#76838b" stroke="#39434a" stroke-width="0.4" />
<rect x="464" y="234.5" width="10" height="6" rx="2.4" fill="none" stroke="#20272c" stroke-width="0.9"/>
<rect x="497.0" y="233.8" width="58.0" height="3.4" fill="#c9d1d3" />
<rect x="497.0" y="237.0" width="58.0" height="8.0" fill="#7f8a90" />
<rect x="498.0" y="234.2" width="2.0" height="2.6" fill="#e4e9ea" />
<rect x="498.6" y="238.0" width="2.4" height="5.0" fill="#aab5ba" />
<rect x="502.1" y="235.0" width="2.0" height="2.6" fill="#4c5860" />
<rect x="502.7" y="238.7" width="2.4" height="5.0" fill="#59656e" />
<rect x="506.2" y="234.2" width="2.0" height="2.6" fill="#4c5860" />
<rect x="506.8" y="239.4" width="2.4" height="5.0" fill="#aab5ba" />
<rect x="510.3" y="235.0" width="2.0" height="2.6" fill="#e4e9ea" />
<rect x="510.9" y="238.0" width="2.4" height="5.0" fill="#59656e" />
<rect x="514.4" y="234.2" width="2.0" height="2.6" fill="#4c5860" />
<rect x="515.0" y="238.7" width="2.4" height="5.0" fill="#aab5ba" />
<rect x="518.5" y="235.0" width="2.0" height="2.6" fill="#4c5860" />
<rect x="519.1" y="239.4" width="2.4" height="5.0" fill="#59656e" />
<rect x="522.6" y="234.2" width="2.0" height="2.6" fill="#e4e9ea" />
<rect x="523.2" y="238.0" width="2.4" height="5.0" fill="#aab5ba" />
<rect x="526.7" y="235.0" width="2.0" height="2.6" fill="#4c5860" />
<rect x="527.3" y="238.7" width="2.4" height="5.0" fill="#59656e" />
<rect x="530.8" y="234.2" width="2.0" height="2.6" fill="#4c5860" />
<rect x="531.4" y="239.4" width="2.4" height="5.0" fill="#aab5ba" />
<rect x="534.9" y="235.0" width="2.0" height="2.6" fill="#e4e9ea" />
<rect x="535.5" y="238.0" width="2.4" height="5.0" fill="#59656e" />
<rect x="539.0" y="234.2" width="2.0" height="2.6" fill="#4c5860" />
<rect x="539.6" y="238.7" width="2.4" height="5.0" fill="#aab5ba" />
<rect x="543.1" y="235.0" width="2.0" height="2.6" fill="#4c5860" />
<rect x="543.7" y="239.4" width="2.4" height="5.0" fill="#59656e" />
<rect x="547.2" y="234.2" width="2.0" height="2.6" fill="#e4e9ea" />
<rect x="547.8" y="238.0" width="2.4" height="5.0" fill="#aab5ba" />
<rect x="551.3" y="235.0" width="2.0" height="2.6" fill="#4c5860" />
<rect x="551.9" y="238.7" width="2.4" height="5.0" fill="#59656e" />
<line x1="497.0" y1="233.8" x2="555.0" y2="233.8" stroke="#59656e" stroke-width="0.5" />
<line x1="497.0" y1="245.0" x2="586.0" y2="245.0" stroke="#6c7880" stroke-width="0.6" />
<polyline points="547.8,245.0 547.8,234.0 550.0,231.5 553.5,232.2 555.0,235.0" fill="none" stroke="#6c7880" stroke-width="1.0" />
<polyline points="500.8,245.0 500.8,236.0 503.0,233.6" fill="none" stroke="#6c7880" stroke-width="0.9" />
<rect x="558.8" y="240.0" width="29.4" height="12.2" fill="#bfc8ca" stroke="#39434a" stroke-width="0.5" />
<rect x="559.4" y="229.0" width="29.0" height="11.0" fill="#4f5a62" />
<rect x="561.0" y="222.5" width="5.4" height="8.0" fill="#dfe5e6" stroke="#39434a" stroke-width="0.5" />
<rect x="579.4" y="222.5" width="5.4" height="8.0" fill="#dfe5e6" stroke="#39434a" stroke-width="0.5" />
<rect x="567.5" y="224.5" width="2.6" height="6.0" fill="#20272c" />
<rect x="571.5" y="224.5" width="2.6" height="6.0" fill="#20272c" />
<rect x="575.5" y="224.5" width="2.6" height="6.0" fill="#20272c" />
<rect x="562.0" y="233.0" width="2.2" height="6.0" fill="#aab5ba" />
<rect x="566.0" y="234.0" width="2.2" height="5.0" fill="#aab5ba" />
<rect x="570.0" y="232.0" width="2.2" height="7.0" fill="#aab5ba" />
<rect x="574.0" y="233.0" width="2.2" height="6.0" fill="#aab5ba" />
<rect x="578.0" y="234.0" width="2.2" height="5.0" fill="#aab5ba" />
<rect x="582.0" y="232.0" width="2.2" height="7.0" fill="#aab5ba" />
<rect x="585.0" y="232.0" width="2.2" height="7.0" fill="#aab5ba" />
<rect x="586.3" y="229.4" width="23.2" height="10.0" fill="#e6eaeb" stroke="#39434a" stroke-width="0.6" />
<rect x="588.0" y="232.0" width="9.0" height="5.5" fill="#2a3237" />
<rect x="598.8" y="232.0" width="8.8" height="5.5" fill="#2a3237" />
<line x1="590.2" y1="232.0" x2="590.2" y2="237.5" stroke="#8d999f" stroke-width="0.4" />
<line x1="592.5" y1="232.0" x2="592.5" y2="237.5" stroke="#8d999f" stroke-width="0.4" />
<line x1="594.8" y1="232.0" x2="594.8" y2="237.5" stroke="#8d999f" stroke-width="0.4" />
<line x1="601.0" y1="232.0" x2="601.0" y2="237.5" stroke="#8d999f" stroke-width="0.4" />
<line x1="603.3" y1="232.0" x2="603.3" y2="237.5" stroke="#8d999f" stroke-width="0.4" />
<line x1="605.6" y1="232.0" x2="605.6" y2="237.5" stroke="#8d999f" stroke-width="0.4" />
<rect x="588.0" y="239.6" width="57.3" height="12.8" fill="#6f7a80" stroke="#39434a" stroke-width="0.4" />
<rect x="588.0" y="239.6" width="57.3" height="3.0" fill="#a9b3b8" />
<rect x="630.0" y="243.0" width="2.0" height="9.0" fill="#4c5860" />
<rect x="634.0" y="243.0" width="2.0" height="9.0" fill="#4c5860" />
<rect x="638.0" y="243.0" width="2.0" height="9.0" fill="#4c5860" />
<rect x="642.0" y="243.0" width="2.0" height="9.0" fill="#4c5860" />
<polygon points="601.0,251.5 608.0,236.0 609.0,223.5 621.5,223.5 622.0,236.0 629.0,251.5" fill="#5d6f7e" stroke="#39434a" stroke-width="0.6" />
<rect x="607.5" y="219.0" width="16.0" height="4.5" fill="#9dabb4" stroke="#39434a" stroke-width="0.5" />
<circle cx="616.8" cy="214.2" r="3.2" fill="#d6ecf6" stroke="#20272c" stroke-width="0.9"/>
<rect x="613.5" y="216.8" width="7.0" height="2.2" fill="#39434a" />
<circle cx="615.5" cy="243" r="1.8" fill="#c9d3d8" stroke="#20272c" stroke-width="0.6"/>
<line x1="596.0" y1="248.4" x2="638.0" y2="248.4" stroke="#dfe5e6" stroke-width="1.8" />
<line x1="596.0" y1="249.5" x2="638.0" y2="249.5" stroke="#39434a" stroke-width="0.5" />
<line x1="596.0" y1="247.3" x2="638.0" y2="247.3" stroke="#39434a" stroke-width="0.4" />
<line x1="627.0" y1="224.0" x2="641.0" y2="252.0" stroke="#b4bfc5" stroke-width="1.6" />
<line x1="626.2" y1="224.0" x2="640.2" y2="252.0" stroke="#39434a" stroke-width="0.4" />
<rect x="645.3" y="238.8" width="82.5" height="13.6" fill="#bfc8ca" stroke="#39434a" stroke-width="0.6" />
<polygon points="645.3,252.4 645.3,245.0 656.0,247.5 668.0,252.4" fill="#859cab" />
<rect x="658.5" y="241.3" width="4.0" height="9.8" fill="#77848c" stroke="#39434a" stroke-width="0.4" />
<rect x="677.0" y="241.3" width="4.0" height="9.8" fill="#77848c" stroke="#39434a" stroke-width="0.4" />
<rect x="684.0" y="242.2" width="3.2" height="3.8" rx="1" fill="#eef2f3" stroke="#39434a" stroke-width="0.6"/>
<rect x="698.0" y="242.2" width="3.2" height="3.8" rx="1" fill="#eef2f3" stroke="#39434a" stroke-width="0.6"/>
<rect x="712.0" y="242.2" width="3.2" height="3.8" rx="1" fill="#eef2f3" stroke="#39434a" stroke-width="0.6"/>
<rect x="642.5" y="224.0" width="21.0" height="14.8" fill="#d4dbdc" stroke="#39434a" stroke-width="0.4" />
<line x1="642.5" y1="231.0" x2="663.5" y2="231.0" stroke="#8d999f" stroke-width="0.4" />
<rect x="645.3" y="236.0" width="82.5" height="2.8" fill="#4c5860" />
<line x1="647.0" y1="232.2" x2="647.0" y2="236.0" stroke="#59656e" stroke-width="0.4" />
<line x1="651.1" y1="232.2" x2="651.1" y2="236.0" stroke="#59656e" stroke-width="0.4" />
<line x1="655.2" y1="232.2" x2="655.2" y2="236.0" stroke="#59656e" stroke-width="0.4" />
<line x1="659.3" y1="232.2" x2="659.3" y2="236.0" stroke="#59656e" stroke-width="0.4" />
<line x1="663.4" y1="232.2" x2="663.4" y2="236.0" stroke="#59656e" stroke-width="0.4" />
<line x1="667.5" y1="232.2" x2="667.5" y2="236.0" stroke="#59656e" stroke-width="0.4" />
<line x1="671.6" y1="232.2" x2="671.6" y2="236.0" stroke="#59656e" stroke-width="0.4" />
<line x1="675.7" y1="232.2" x2="675.7" y2="236.0" stroke="#59656e" stroke-width="0.4" />
<line x1="679.8" y1="232.2" x2="679.8" y2="236.0" stroke="#59656e" stroke-width="0.4" />
<line x1="683.9" y1="232.2" x2="683.9" y2="236.0" stroke="#59656e" stroke-width="0.4" />
<line x1="688.0" y1="232.2" x2="688.0" y2="236.0" stroke="#59656e" stroke-width="0.4" />
<line x1="692.1" y1="232.2" x2="692.1" y2="236.0" stroke="#59656e" stroke-width="0.4" />
<line x1="696.2" y1="232.2" x2="696.2" y2="236.0" stroke="#59656e" stroke-width="0.4" />
<line x1="700.3" y1="232.2" x2="700.3" y2="236.0" stroke="#59656e" stroke-width="0.4" />
<line x1="704.4" y1="232.2" x2="704.4" y2="236.0" stroke="#59656e" stroke-width="0.4" />
<line x1="708.5" y1="232.2" x2="708.5" y2="236.0" stroke="#59656e" stroke-width="0.4" />
<line x1="712.6" y1="232.2" x2="712.6" y2="236.0" stroke="#59656e" stroke-width="0.4" />
<line x1="716.7" y1="232.2" x2="716.7" y2="236.0" stroke="#59656e" stroke-width="0.4" />
<line x1="720.8" y1="232.2" x2="720.8" y2="236.0" stroke="#59656e" stroke-width="0.4" />
<line x1="724.9" y1="232.2" x2="724.9" y2="236.0" stroke="#59656e" stroke-width="0.4" />
<line x1="663.5" y1="232.2" x2="727.8" y2="232.2" stroke="#59656e" stroke-width="0.5" />
<rect x="664.0" y="217.0" width="8.5" height="19.5" fill="#5f6d76" stroke="#39434a" stroke-width="0.5" />
<rect x="661.0" y="224.0" width="14.0" height="3.0" fill="#4c5860" />
<path d="M659.4,218 L659.4,211 Q667,203.5 674.8,211 L674.8,218 Z" fill="url(#tur)" stroke="#39434a" stroke-width="0.6"/>
<polyline points="696.5,217.0 696.5,236.0" fill="none" stroke="#4c5860" stroke-width="1.0" />
<polyline points="696.5,221.0 704.5,236.0" fill="none" stroke="#4c5860" stroke-width="0.8" />
<polygon points="703.0,236.0 703.0,231.0 706.0,227.5 709.0,231.0 709.0,236.0" fill="#74828a" stroke="#39434a" stroke-width="0.4" />
<rect x="727.8" y="237.5" width="18.0" height="15.0" fill="#56636c" stroke="#39434a" stroke-width="0.5" />
<rect x="730.0" y="246.0" width="5.0" height="5.0" fill="#20272c" />
<rect x="738.0" y="240.0" width="5.0" height="4.0" fill="#39434a" />
<rect x="786.0" y="247.5" width="2.2" height="3.6" fill="#2f383e" />
<rect x="790.0" y="247.5" width="2.2" height="3.6" fill="#2f383e" />
<rect x="810.0" y="247.5" width="2.2" height="3.6" fill="#2f383e" />
<rect x="848.0" y="247.5" width="2.2" height="3.6" fill="#2f383e" />
<rect x="851.5" y="247.5" width="2.2" height="3.6" fill="#2f383e" />
<rect x="800.0" y="248.0" width="6.0" height="3.2" fill="#59656e" />
<rect x="820.0" y="247.6" width="7.0" height="3.6" fill="#76838b" stroke="#39434a" stroke-width="0.3" />
<polyline points="883.5,251.0 883.5,241.5 885.0,239.5 887.0,240.5" fill="none" stroke="#39434a" stroke-width="1.1" />
<rect x="888.0" y="245.5" width="10.0" height="5.5" fill="#59656e" />
<rect x="900.0" y="246.5" width="9.0" height="4.5" fill="#76838b" />
<polyline points="789.0,252.0 797.0,268.0" fill="none" stroke="#46525a" stroke-width="0.8" />
<polyline points="814.0,252.0 812.0,268.0" fill="none" stroke="#46525a" stroke-width="0.8" />
<polyline points="838.0,252.0 829.0,268.0" fill="none" stroke="#46525a" stroke-width="0.8" />
<line x1="800.0" y1="268.3" x2="828.0" y2="268.3" stroke="#39434a" stroke-width="1.2" />
<rect x="181.0" y="225.1" width="27.5" height="2.4" fill="#66757f" stroke="#2f383e" stroke-width="0.5" />
<rect x="203.5" y="223.7" width="8.0" height="5.2" fill="#4f5b63" stroke="#2f383e" stroke-width="0.4" />
<path d="M202.5,240.2 L202.5,226.5 L211.5,220.6 L227.0,220.0 Q232.0,220.0 232.0,225.0 L232.0,240.2 Z" fill="url(#tur)" stroke="#2f383e" stroke-width="0.7"/>
<polygon points="202.5,240.2 202.5,226.5 211.5,220.6 213.5,220.6 211.5,240.2" fill="#56636c" opacity="0.75"/>
<line x1="212.0" y1="221.0" x2="211.0" y2="240.2" stroke="#2f383e" stroke-width="0.5" />
<line x1="203.5" y1="237.0" x2="231.0" y2="237.0" stroke="#3e4850" stroke-width="0.6" />
<rect x="220.2" y="217.8" width="1.6" height="2.4" fill="#3e4850" />
<rect x="225.0" y="214.7" width="27.3" height="2.4" fill="#66757f" stroke="#2f383e" stroke-width="0.5" />
<rect x="247.3" y="213.3" width="8.0" height="5.2" fill="#4f5b63" stroke="#2f383e" stroke-width="0.4" />
<path d="M246.3,227.5 L246.3,215.3 L255.3,209.4 L270.6,208.8 Q275.6,208.8 275.6,213.8 L275.6,227.5 Z" fill="url(#tur)" stroke="#2f383e" stroke-width="0.7"/>
<polygon points="246.3,227.5 246.3,215.3 255.3,209.4 257.3,209.4 255.3,227.5" fill="#56636c" opacity="0.75"/>
<line x1="255.8" y1="209.8" x2="254.8" y2="227.5" stroke="#2f383e" stroke-width="0.5" />
<line x1="247.3" y1="224.3" x2="274.6" y2="224.3" stroke="#3e4850" stroke-width="0.6" />
<rect x="264.0" y="206.6" width="1.6" height="2.4" fill="#3e4850" />
<rect x="269.4" y="202.6" width="27.2" height="2.4" fill="#66757f" stroke="#2f383e" stroke-width="0.5" />
<rect x="291.6" y="201.2" width="8.0" height="5.2" fill="#4f5b63" stroke="#2f383e" stroke-width="0.4" />
<path d="M290.6,215.5 L290.6,203.5 L299.6,197.6 L315.0,197.0 Q320.0,197.0 320.0,202.0 L320.0,215.5 Z" fill="url(#tur)" stroke="#2f383e" stroke-width="0.7"/>
<polygon points="290.6,215.5 290.6,203.5 299.6,197.6 301.6,197.6 299.6,215.5" fill="#56636c" opacity="0.75"/>
<line x1="300.1" y1="198.0" x2="299.1" y2="215.5" stroke="#2f383e" stroke-width="0.5" />
<line x1="291.6" y1="212.3" x2="319.0" y2="212.3" stroke="#3e4850" stroke-width="0.6" />
<rect x="308.3" y="194.8" width="1.6" height="2.4" fill="#3e4850" />
<rect x="736.0" y="224.0" width="29.0" height="2.4" fill="#66757f" stroke="#2f383e" stroke-width="0.5" />
<rect x="733.0" y="222.6" width="8.0" height="5.2" fill="#4f5b63" stroke="#2f383e" stroke-width="0.4" />
<path d="M742.0,237.5 L742.0,226.0 L733.0,220.1 L719.5,219.5 Q714.5,219.5 714.5,224.5 L714.5,237.5 Z" fill="url(#tur)" stroke="#2f383e" stroke-width="0.7"/>
<polygon points="742.0,237.5 742.0,226.0 733.0,220.1 731.0,220.1 733.0,237.5" fill="#56636c" opacity="0.75"/>
<line x1="732.5" y1="220.5" x2="733.5" y2="237.5" stroke="#2f383e" stroke-width="0.5" />
<line x1="715.5" y1="234.3" x2="741.0" y2="234.3" stroke="#3e4850" stroke-width="0.6" />
<rect x="723.2" y="217.3" width="1.6" height="2.4" fill="#3e4850" />
<rect x="776.0" y="237.6" width="30.0" height="2.4" fill="#66757f" stroke="#2f383e" stroke-width="0.5" />
<rect x="773.0" y="236.2" width="8.0" height="5.2" fill="#4f5b63" stroke="#2f383e" stroke-width="0.4" />
<path d="M782.0,251.4 L782.0,239.5 L773.0,233.6 L760.8,233.0 Q755.8,233.0 755.8,238.0 L755.8,251.4 Z" fill="url(#tur)" stroke="#2f383e" stroke-width="0.7"/>
<polygon points="782.0,251.4 782.0,239.5 773.0,233.6 771.0,233.6 773.0,251.4" fill="#56636c" opacity="0.75"/>
<line x1="772.5" y1="234.0" x2="773.5" y2="251.4" stroke="#2f383e" stroke-width="0.5" />
<line x1="756.8" y1="248.2" x2="781.0" y2="248.2" stroke="#3e4850" stroke-width="0.6" />
<rect x="763.9" y="230.8" width="1.6" height="2.4" fill="#3e4850" />
<clipPath id="hc1"><polygon points="84.5,231.0 100.0,232.8 120.0,234.8 140.0,236.6 160.0,238.2 180.0,239.4 207.0,240.6 250.0,241.0 428.5,241.0 428.5,252.2 640.0,252.3 800.0,251.6 913.0,251.0 915.0,262.0 915.5,275.0 93.9,275.0 93.0,271.0"/><polygon points="428.5,241.0 588.0,241.0 588.0,253.0 428.5,253.0"/></clipPath>
<g clip-path="url(#hc1)">
<rect x="80.0" y="225.0" width="840.0" height="52.0" fill="#859cab" />
<polygon points="84.0,250.0 89.0,252.0 95.0,257.5 105.0,243.8 108.0,230.0 152.0,232.0 141.0,245.0 132.5,256.0 127.0,276.0 92.0,276.0" fill="#ccd2d1" />
<polygon points="84.0,228.0 108.0,230.0 105.0,243.8 95.0,257.5 88.0,254.0" fill="#57636c" />
<polygon points="152.0,232.0 207.0,236.0 207.0,241.0 190.0,246.3 175.0,255.5 165.0,276.0 127.0,276.0 132.5,256.0 141.0,245.0" fill="#57636c" />
<polygon points="164.0,276.0 164.0,271.0 176.4,257.3 194.0,251.0 204.5,246.0 209.8,245.0 220.3,253.0 234.4,262.6 244.0,271.0 244.0,276.0" fill="#ccd2d1" />
<polygon points="258.0,238.0 297.6,238.0 296.0,248.0 288.0,252.6 277.0,253.8 266.0,252.0 259.0,247.0" fill="#57636c" />
<polygon points="307.0,276.0 307.0,271.0 319.0,260.0 338.5,253.8 353.5,251.0 368.5,243.8 376.0,238.0 428.5,238.0 645.0,238.0 645.0,254.4 578.0,254.4 574.0,262.0 568.0,271.0 568.0,276.0 554.7,276.0 554.7,271.0 549.0,262.0 539.0,259.0 510.0,259.0 500.0,255.5 486.0,252.5 431.0,251.3 421.0,258.8 401.0,265.0 389.8,271.0 389.8,276.0" fill="#ccd2d1" />
<polygon points="389.8,276.0 389.8,271.0 401.0,265.5 424.3,258.4 440.0,252.2 444.6,249.8 472.8,249.8 477.0,253.0 482.0,260.0 485.3,271.0 485.3,276.0" fill="#57636c" />
<polygon points="476.0,238.0 498.5,238.0 498.5,253.5 476.0,253.5" fill="#859cab" />
<polygon points="595.7,276.0 595.7,271.0 601.5,266.0 625.0,263.0 634.8,254.4 640.0,254.5 648.4,263.0 656.0,271.0 656.0,276.0" fill="#57636c" />
<polygon points="640.0,250.0 731.5,250.0 747.0,260.4 762.8,267.2 770.6,271.0 770.6,276.0 731.5,276.0 731.5,271.0 727.6,269.2 718.0,264.7 708.0,262.3 694.5,259.4 680.8,260.4 669.0,261.4 655.4,258.4 639.8,254.5" fill="#ccd2d1" />
<polygon points="772.6,250.0 800.0,250.0 794.0,259.4 786.3,262.3 778.4,259.0" fill="#57636c" />
<polygon points="813.0,276.0 815.0,266.0 829.0,264.0 838.8,260.0 845.0,250.0 889.0,250.0 889.0,258.0 884.0,262.0 878.0,264.5 873.0,268.0 871.5,276.0" fill="#57636c" />
<polygon points="889.0,249.0 916.0,249.0 916.0,276.0 871.5,276.0 873.0,268.0 878.0,264.5 884.0,262.0 889.0,258.0" fill="#ccd2d1" />
<polygon points="899.0,264.0 901.0,259.0 907.0,257.0 916.0,258.0 916.0,271.0 907.0,271.0 901.0,269.0" fill="#57636c" />
<polyline points="84.5,231.0 100.0,232.8 120.0,234.8 140.0,236.6 160.0,238.2 180.0,239.4 207.0,240.6 250.0,241.0 428.5,241.0" fill="none" stroke="#dfe5e6" stroke-width="0.5" />
<circle cx="104.0" cy="236.8" r="0.95" fill="#1f262b"/>
<circle cx="117.3" cy="237.9" r="0.95" fill="#1f262b"/>
<circle cx="130.6" cy="238.9" r="0.95" fill="#1f262b"/>
<circle cx="143.9" cy="240.0" r="0.95" fill="#1f262b"/>
<circle cx="157.2" cy="241.0" r="0.95" fill="#1f262b"/>
<circle cx="170.5" cy="242.0" r="0.95" fill="#1f262b"/>
<circle cx="183.8" cy="243.1" r="0.95" fill="#1f262b"/>
<circle cx="197.1" cy="244.1" r="0.95" fill="#1f262b"/>
<circle cx="210.4" cy="244.9" r="0.95" fill="#1f262b"/>
<circle cx="223.7" cy="245.1" r="0.95" fill="#1f262b"/>
<circle cx="237.0" cy="245.2" r="0.95" fill="#1f262b"/>
<circle cx="250.3" cy="245.3" r="0.95" fill="#1f262b"/>
<circle cx="263.6" cy="245.3" r="0.95" fill="#1f262b"/>
<circle cx="276.9" cy="245.3" r="0.95" fill="#1f262b"/>
<circle cx="290.2" cy="245.3" r="0.95" fill="#1f262b"/>
<circle cx="303.5" cy="245.3" r="0.95" fill="#1f262b"/>
<circle cx="316.8" cy="245.3" r="0.95" fill="#1f262b"/>
<circle cx="330.1" cy="245.3" r="0.95" fill="#1f262b"/>
<circle cx="343.4" cy="245.3" r="0.95" fill="#1f262b"/>
<circle cx="356.7" cy="245.3" r="0.95" fill="#1f262b"/>
<circle cx="370.0" cy="245.3" r="0.95" fill="#1f262b"/>
<circle cx="383.3" cy="245.3" r="0.95" fill="#1f262b"/>
<circle cx="396.6" cy="245.3" r="0.95" fill="#1f262b"/>
<circle cx="409.9" cy="245.3" r="0.95" fill="#1f262b"/>
<circle cx="423.2" cy="245.3" r="0.95" fill="#1f262b"/>
<circle cx="412.0" cy="245.2" r="0.9" fill="#1f262b"/>
<circle cx="418.5" cy="245.2" r="0.9" fill="#1f262b"/>
<circle cx="484.0" cy="245.2" r="0.9" fill="#1f262b"/>
<circle cx="492.0" cy="245.2" r="0.9" fill="#1f262b"/>
<circle cx="440.0" cy="245.2" r="0.9" fill="#1f262b"/>
</g>
<polygon points="431.8,240.4 474.5,240.4 473.5,243.2 471.0,246.0 437.0,246.8 433.5,244.5" fill="#edf0f0" stroke="#2f383e" stroke-width="0.7" />
<polygon points="432.8,243.2 473.6,243.0 471.0,246.0 437.0,246.8 433.5,244.5" fill="#b8402b" />
<line x1="431.8" y1="240.4" x2="474.5" y2="240.4" stroke="#2f383e" stroke-width="0.8" />
<rect x="433.0" y="246.6" width="42.0" height="2.6" fill="#4a555d" />
<rect x="507.5" y="241.0" width="1.8" height="21.3" fill="#939da2" stroke="#3e4850" stroke-width="0.4" />
<rect x="555.4" y="241.0" width="1.8" height="21.3" fill="#939da2" stroke="#3e4850" stroke-width="0.4" />
<line x1="264.3" y1="256.9" x2="329.0" y2="256.9" stroke="#9aa4aa" stroke-width="1.3" />
<line x1="264.3" y1="257.7" x2="329.0" y2="257.7" stroke="#4a555c" stroke-width="0.5" />
<polyline points="329.0,245.6 341.0,245.8 353.4,254.6 428.0,254.6" fill="none" stroke="#dfe5e6" stroke-width="0.6" />
<polyline points="329.0,246.3 341.0,246.5 353.2,255.3 428.0,255.3" fill="none" stroke="#5d6b73" stroke-width="0.5" />
<line x1="477.0" y1="253.7" x2="640.0" y2="253.7" stroke="#e4e9ea" stroke-width="0.5" />
<polyline points="84.5,231.0 100.0,232.8 120.0,234.8 140.0,236.6 160.0,238.2 180.0,239.4 207.0,240.6 250.0,241.0 428.5,241.0 428.5,241.0" fill="none" stroke="#4a555c" stroke-width="0.5" />
<line x1="428.5" y1="252.3" x2="913.0" y2="251.2" stroke="#59656e" stroke-width="0.5" />
<polyline points="84.5,231.0 93.0,271.0 93.9,275.0" fill="none" stroke="#3d474e" stroke-width="0.6" />
<polyline points="913.0,251.0 915.0,262.0 915.5,275.0" fill="none" stroke="#3d474e" stroke-width="0.6" />
<polygon points="96.5,243.5 101.5,240.2 104.5,244.6 99.5,248.0" fill="#1b2024" />
<line x1="97.6" y1="244.3" x2="102.0" y2="241.4" stroke="#e9eded" stroke-width="0.5" />
<line x1="98.5" y1="245.6" x2="102.9" y2="242.7" stroke="#e9eded" stroke-width="0.5" />
<line x1="99.4" y1="246.9" x2="103.8" y2="244.0" stroke="#e9eded" stroke-width="0.5" />
<polyline points="431.0,251.0 431.0,267.0 416.5,267.0 416.5,271.0" fill="none" stroke="#a9b3b8" stroke-width="1.2" />
<polyline points="432.2,251.0 432.2,268.2 417.7,268.2 417.7,271.0" fill="none" stroke="#3e4850" stroke-width="0.5" />
<path d="M431,256 L431,253 Q433,250.5 435,253 L435,267" fill="none" stroke="#a9b3b8" stroke-width="0.9"/>
<polyline points="633.0,252.5 633.0,265.0 714.0,265.0 714.0,271.0" fill="none" stroke="#a9b3b8" stroke-width="1.2" />
<polyline points="634.2,252.5 634.2,263.8 712.8,263.8" fill="none" stroke="#3e4850" stroke-width="0.5" />
<polygon points="93.6,274.0 915.5,274.0 914.0,279.0 893.0,280.6 868.0,283.0 856.0,286.0 843.0,290.5 833.0,295.5 826.0,299.0 820.0,300.2 100.0,300.2" fill="url(#red)" />
<polyline points="416.5,275.0 416.5,279.6 714.0,279.6 714.0,275.0" fill="none" stroke="#5e1711" stroke-width="0.7" />
<line x1="418.0" y1="280.6" x2="713.0" y2="280.6" stroke="#c3442e" stroke-width="0.4" />
<polygon points="93.0,271.2 915.4,271.2 915.5,275.0 93.9,275.0" fill="#1c2226" />
<line x1="93.2" y1="271.4" x2="915.4" y2="271.4" stroke="#56636b" stroke-width="0.6" />
<line x1="99.5" y1="300.2" x2="821.0" y2="300.2" stroke="#2a0b08" stroke-width="1.0" />
<polyline points="347.0,294.3 500.0,295.6 720.0,294.6" fill="none" stroke="#d0503a" stroke-width="0.9" />
<polyline points="347.0,295.7 500.0,297.0 722.0,295.8" fill="none" stroke="#120504" stroke-width="1.5" />
<polygon points="722.0,294.0 760.0,291.5 800.0,292.5 829.0,296.5 821.0,300.2 722.0,300.2" fill="#1f0805" opacity="0.7"/>
<polygon points="733.0,285.8 745.0,284.0 760.0,285.6 745.0,288.2" fill="#c8512f" stroke="#6a1b12" stroke-width="0.4" />
<line x1="758.0" y1="286.0" x2="884.0" y2="291.0" stroke="#aeb5b9" stroke-width="1.3" />
<line x1="758.0" y1="287.0" x2="884.0" y2="292.0" stroke="#4e120d" stroke-width="0.5" />
<rect x="798.0" y="287.0" width="22.0" height="3.2" fill="#b8452c" />
<rect x="846.0" y="288.4" width="20.0" height="3.2" fill="#b8452c" />
<line x1="802.5" y1="280.0" x2="804.0" y2="289.0" stroke="#8e2a1c" stroke-width="1.3" />
<line x1="850.0" y1="281.0" x2="851.5" y2="290.0" stroke="#8e2a1c" stroke-width="1.3" />
<ellipse cx="812.5" cy="289.6" rx="2.1" ry="6.2" fill="#c9a92e" stroke="#6d5a12" stroke-width="0.5"/>
<ellipse cx="859.5" cy="291.0" rx="2.1" ry="6.2" fill="#c9a92e" stroke="#6d5a12" stroke-width="0.5"/>
<polygon points="868.5,283.0 880.0,282.2 884.0,279.6 899.0,279.6 899.0,297.5 896.5,300.2 870.5,300.2 868.5,298.0" fill="#a02a1c" stroke="#4e120d" stroke-width="0.6" />
<polyline points="884.0,291.0 889.0,291.0 890.0,284.0" fill="none" stroke="#aeb5b9" stroke-width="1.2" />
</g>
<g transform="translate(1016,364.5) scale(-1,1)">
<line x1="85.0" y1="192.5" x2="85.0" y2="231.0" stroke="#555" stroke-width="1" />
<polyline points="910.5,247.0 913.0,232.0 918.0,204.5" fill="none" stroke="#666" stroke-width="0.9" stroke-dasharray="2.2 0.8"/>
<line x1="914.0" y1="250.8" x2="933.0" y2="250.8" stroke="#666" stroke-width="0.9" />
<rect x="923.7" y="251.0" width="3.0" height="20.0" fill="none" stroke="#777" stroke-width="0.6" />
<line x1="923.7" y1="253.0" x2="926.7" y2="253.0" stroke="#888" stroke-width="0.4" />
<line x1="923.7" y1="255.0" x2="926.7" y2="255.0" stroke="#888" stroke-width="0.4" />
<line x1="923.7" y1="257.0" x2="926.7" y2="257.0" stroke="#888" stroke-width="0.4" />
<line x1="923.7" y1="259.0" x2="926.7" y2="259.0" stroke="#888" stroke-width="0.4" />
<line x1="923.7" y1="261.0" x2="926.7" y2="261.0" stroke="#888" stroke-width="0.4" />
<line x1="923.7" y1="263.0" x2="926.7" y2="263.0" stroke="#888" stroke-width="0.4" />
<line x1="923.7" y1="265.0" x2="926.7" y2="265.0" stroke="#888" stroke-width="0.4" />
<line x1="923.7" y1="267.0" x2="926.7" y2="267.0" stroke="#888" stroke-width="0.4" />
<line x1="923.7" y1="269.0" x2="926.7" y2="269.0" stroke="#888" stroke-width="0.4" />
<polyline points="84.5,226.4 100.0,228.2 120.0,230.2 140.0,232.0 160.0,233.6 180.0,234.8 207.0,236.0" fill="none" stroke="#9aa4ab" stroke-width="0.7" />
<polyline points="84.5,228.6 100.0,230.4 120.0,232.4 140.0,234.2 160.0,235.8 180.0,237.0 207.0,238.2" fill="none" stroke="#b4bcc1" stroke-width="0.6" />
<line x1="87.0" y1="226.2" x2="87.0" y2="231.2" stroke="#8d979e" stroke-width="0.5" />
<line x1="92.1" y1="226.6" x2="92.1" y2="231.6" stroke="#8d979e" stroke-width="0.5" />
<line x1="97.2" y1="227.0" x2="97.2" y2="232.0" stroke="#8d979e" stroke-width="0.5" />
<line x1="102.3" y1="227.4" x2="102.3" y2="232.4" stroke="#8d979e" stroke-width="0.5" />
<line x1="107.4" y1="227.8" x2="107.4" y2="232.8" stroke="#8d979e" stroke-width="0.5" />
<line x1="112.5" y1="228.2" x2="112.5" y2="233.2" stroke="#8d979e" stroke-width="0.5" />
<line x1="117.6" y1="228.6" x2="117.6" y2="233.6" stroke="#8d979e" stroke-width="0.5" />
<line x1="122.7" y1="229.0" x2="122.7" y2="234.0" stroke="#8d979e" stroke-width="0.5" />
<line x1="127.8" y1="229.4" x2="127.8" y2="234.4" stroke="#8d979e" stroke-width="0.5" />
<line x1="132.9" y1="229.8" x2="132.9" y2="234.8" stroke="#8d979e" stroke-width="0.5" />
<line x1="138.0" y1="230.2" x2="138.0" y2="235.2" stroke="#8d979e" stroke-width="0.5" />
<line x1="143.1" y1="230.6" x2="143.1" y2="235.6" stroke="#8d979e" stroke-width="0.5" />
<line x1="148.2" y1="231.0" x2="148.2" y2="236.0" stroke="#8d979e" stroke-width="0.5" />
<line x1="153.3" y1="231.4" x2="153.3" y2="236.4" stroke="#8d979e" stroke-width="0.5" />
<line x1="158.4" y1="231.8" x2="158.4" y2="236.8" stroke="#8d979e" stroke-width="0.5" />
<line x1="163.5" y1="232.2" x2="163.5" y2="237.2" stroke="#8d979e" stroke-width="0.5" />
<line x1="168.6" y1="232.6" x2="168.6" y2="237.6" stroke="#8d979e" stroke-width="0.5" />
<line x1="173.7" y1="233.0" x2="173.7" y2="238.0" stroke="#8d979e" stroke-width="0.5" />
<line x1="178.8" y1="233.4" x2="178.8" y2="238.4" stroke="#8d979e" stroke-width="0.5" />
<line x1="183.9" y1="233.8" x2="183.9" y2="238.8" stroke="#8d979e" stroke-width="0.5" />
<line x1="189.0" y1="234.2" x2="189.0" y2="239.2" stroke="#8d979e" stroke-width="0.5" />
<line x1="194.1" y1="234.6" x2="194.1" y2="239.6" stroke="#8d979e" stroke-width="0.5" />
<line x1="199.2" y1="235.0" x2="199.2" y2="240.0" stroke="#8d979e" stroke-width="0.5" />
<line x1="204.3" y1="235.4" x2="204.3" y2="240.4" stroke="#8d979e" stroke-width="0.5" />
<line x1="784.0" y1="246.3" x2="911.0" y2="245.8" stroke="#8d979e" stroke-width="0.6" />
<line x1="784.0" y1="248.6" x2="911.0" y2="248.2" stroke="#aab3b9" stroke-width="0.5" />
<line x1="786.0" y1="246.0" x2="786.0" y2="251.0" stroke="#8d979e" stroke-width="0.5" />
<line x1="791.9" y1="246.0" x2="791.9" y2="251.0" stroke="#8d979e" stroke-width="0.5" />
<line x1="797.8" y1="246.0" x2="797.8" y2="251.0" stroke="#8d979e" stroke-width="0.5" />
<line x1="803.7" y1="246.0" x2="803.7" y2="251.0" stroke="#8d979e" stroke-width="0.5" />
<line x1="809.6" y1="246.0" x2="809.6" y2="251.0" stroke="#8d979e" stroke-width="0.5" />
<line x1="815.5" y1="246.0" x2="815.5" y2="251.0" stroke="#8d979e" stroke-width="0.5" />
<line x1="821.4" y1="246.0" x2="821.4" y2="251.0" stroke="#8d979e" stroke-width="0.5" />
<line x1="827.3" y1="246.0" x2="827.3" y2="251.0" stroke="#8d979e" stroke-width="0.5" />
<line x1="833.2" y1="246.0" x2="833.2" y2="251.0" stroke="#8d979e" stroke-width="0.5" />
<line x1="839.1" y1="246.0" x2="839.1" y2="251.0" stroke="#8d979e" stroke-width="0.5" />
<line x1="845.0" y1="246.0" x2="845.0" y2="251.0" stroke="#8d979e" stroke-width="0.5" />
<line x1="850.9" y1="246.0" x2="850.9" y2="251.0" stroke="#8d979e" stroke-width="0.5" />
<line x1="856.8" y1="246.0" x2="856.8" y2="251.0" stroke="#8d979e" stroke-width="0.5" />
<line x1="862.7" y1="246.0" x2="862.7" y2="251.0" stroke="#8d979e" stroke-width="0.5" />
<line x1="868.6" y1="246.0" x2="868.6" y2="251.0" stroke="#8d979e" stroke-width="0.5" />
<line x1="874.5" y1="246.0" x2="874.5" y2="251.0" stroke="#8d979e" stroke-width="0.5" />
<line x1="880.4" y1="246.0" x2="880.4" y2="251.0" stroke="#8d979e" stroke-width="0.5" />
<line x1="886.3" y1="246.0" x2="886.3" y2="251.0" stroke="#8d979e" stroke-width="0.5" />
<line x1="892.2" y1="246.0" x2="892.2" y2="251.0" stroke="#8d979e" stroke-width="0.5" />
<line x1="898.1" y1="246.0" x2="898.1" y2="251.0" stroke="#8d979e" stroke-width="0.5" />
<line x1="904.0" y1="246.0" x2="904.0" y2="251.0" stroke="#8d979e" stroke-width="0.5" />
<line x1="909.9" y1="246.0" x2="909.9" y2="251.0" stroke="#8d979e" stroke-width="0.5" />
<line x1="436.4" y1="212.0" x2="446.4" y2="133.5" stroke="#3d474e" stroke-width="1.5" />
<line x1="459.0" y1="215.0" x2="447.6" y2="133.5" stroke="#3d474e" stroke-width="1.5" />
<line x1="447.0" y1="133.5" x2="447.6" y2="215.0" stroke="#3d474e" stroke-width="1.2" />
<line x1="446.2" y1="140.0" x2="448.6" y2="140.0" stroke="#3d474e" stroke-width="0.5" />
<line x1="446.2" y1="145.0" x2="448.6" y2="145.0" stroke="#3d474e" stroke-width="0.5" />
<line x1="446.2" y1="150.0" x2="448.6" y2="150.0" stroke="#3d474e" stroke-width="0.5" />
<line x1="446.2" y1="155.0" x2="448.6" y2="155.0" stroke="#3d474e" stroke-width="0.5" />
<line x1="446.2" y1="160.0" x2="448.6" y2="160.0" stroke="#3d474e" stroke-width="0.5" />
<line x1="446.2" y1="165.0" x2="448.6" y2="165.0" stroke="#3d474e" stroke-width="0.5" />
<line x1="446.2" y1="170.0" x2="448.6" y2="170.0" stroke="#3d474e" stroke-width="0.5" />
<line x1="446.2" y1="175.0" x2="448.6" y2="175.0" stroke="#3d474e" stroke-width="0.5" />
<line x1="446.2" y1="180.0" x2="448.6" y2="180.0" stroke="#3d474e" stroke-width="0.5" />
<line x1="446.2" y1="185.0" x2="448.6" y2="185.0" stroke="#3d474e" stroke-width="0.5" />
<line x1="446.2" y1="190.0" x2="448.6" y2="190.0" stroke="#3d474e" stroke-width="0.5" />
<line x1="446.2" y1="195.0" x2="448.6" y2="195.0" stroke="#3d474e" stroke-width="0.5" />
<line x1="446.2" y1="200.0" x2="448.6" y2="200.0" stroke="#3d474e" stroke-width="0.5" />
<line x1="446.2" y1="205.0" x2="448.6" y2="205.0" stroke="#3d474e" stroke-width="0.5" />
<line x1="446.2" y1="210.0" x2="448.6" y2="210.0" stroke="#3d474e" stroke-width="0.5" />
<line x1="441.5" y1="133.5" x2="453.0" y2="133.5" stroke="#3d474e" stroke-width="1.6" />
<polyline points="441.5,133.5 447.0,139.0 453.0,133.5" fill="none" stroke="#3d474e" stroke-width="0.8" />
<line x1="439.5" y1="179.0" x2="455.0" y2="179.0" stroke="#3d474e" stroke-width="0.7" />
<line x1="438.0" y1="197.0" x2="457.5" y2="197.0" stroke="#3d474e" stroke-width="0.7" />
<polyline points="447.0,133.5 449.5,118.0 453.2,103.0" fill="none" stroke="#3d474e" stroke-width="1.6" />
<rect x="452.0" y="98.0" width="7.5" height="5.5" fill="#6b7780" stroke="#3d474e" stroke-width="0.6" />
<line x1="455.0" y1="66.0" x2="455.0" y2="98.0" stroke="#3d474e" stroke-width="1.0" />
<line x1="451.6" y1="66.0" x2="458.4" y2="66.0" stroke="#3d474e" stroke-width="0.9" />
<line x1="452.8" y1="74.0" x2="457.2" y2="74.0" stroke="#3d474e" stroke-width="0.7" />
<line x1="452.8" y1="87.5" x2="457.2" y2="87.5" stroke="#3d474e" stroke-width="0.7" />
<line x1="452.5" y1="104.0" x2="472.0" y2="97.8" stroke="#3d474e" stroke-width="0.9" />
<line x1="443.0" y1="121.0" x2="452.0" y2="121.0" stroke="#3d474e" stroke-width="0.7" />
<line x1="629.4" y1="226.0" x2="649.6" y2="169.0" stroke="#3d474e" stroke-width="1.5" />
<line x1="642.5" y1="226.0" x2="650.4" y2="169.0" stroke="#3d474e" stroke-width="1.5" />
<line x1="640.0" y1="200.0" x2="645.5" y2="200.0" stroke="#3d474e" stroke-width="0.7" />
<line x1="641.5" y1="168.4" x2="658.4" y2="168.4" stroke="#3d474e" stroke-width="1.4" />
<polyline points="641.5,168.4 650.0,175.0 658.4,168.4" fill="none" stroke="#3d474e" stroke-width="0.8" />
<polyline points="650.0,169.0 653.5,154.0 658.0,136.0" fill="none" stroke="#3d474e" stroke-width="1.7" />
<line x1="652.0" y1="185.0" x2="668.0" y2="174.5" stroke="#3d474e" stroke-width="0.9" />
<line x1="650.0" y1="196.0" x2="654.0" y2="196.0" stroke="#3d474e" stroke-width="1.5" />
<polygon points="654.8,138.2 662.9,145.8 654.8,153.8 646.9,145.8" fill="none" stroke="#3d474e" stroke-width="0.9" />
<rect x="656.6" y="128.8" width="7.6" height="7.0" fill="#6b7780" stroke="#3d474e" stroke-width="0.6" />
<line x1="659.8" y1="97.8" x2="659.8" y2="129.0" stroke="#3d474e" stroke-width="1.0" />
<line x1="655.5" y1="97.8" x2="664.2" y2="97.8" stroke="#3d474e" stroke-width="0.9" />
<line x1="657.6" y1="108.6" x2="662.0" y2="108.6" stroke="#3d474e" stroke-width="0.7" />
<line x1="657.6" y1="118.8" x2="662.0" y2="118.8" stroke="#3d474e" stroke-width="0.7" />
<polygon points="469.5,177.0 494.5,182.5 488.0,232.0 462.5,232.0" fill="url(#fun)" stroke="#3f4a52" stroke-width="0.7" />
<polygon points="469.5,177.0 494.5,182.5 492.9,194.9 466.4,201.8" fill="#737d8a" opacity="0.88"/>
<polygon points="463.8,222.1 490.5,213.2 488.0,232.0 462.5,232.0" fill="#737d8a" opacity="0.88"/>
<line x1="477.0" y1="180.7" x2="470.1" y2="232.0" stroke="#8796a0" stroke-width="0.5" stroke-dasharray="0.8 1.6"/>
<line x1="482.0" y1="181.8" x2="475.2" y2="232.0" stroke="#8796a0" stroke-width="0.5" stroke-dasharray="0.8 1.6"/>
<line x1="487.0" y1="182.8" x2="480.4" y2="232.0" stroke="#8796a0" stroke-width="0.5" stroke-dasharray="0.8 1.6"/>
<line x1="468.1" y1="188.0" x2="493.2" y2="192.4" stroke="#9aa8b1" stroke-width="0.3" />
<line x1="466.7" y1="199.0" x2="491.9" y2="202.3" stroke="#9aa8b1" stroke-width="0.3" />
<line x1="465.3" y1="210.0" x2="490.6" y2="212.2" stroke="#9aa8b1" stroke-width="0.3" />
<line x1="463.9" y1="221.0" x2="489.3" y2="222.1" stroke="#9aa8b1" stroke-width="0.3" />
<polygon points="468.6,176.2 495.4,181.7 495.3,183.4 468.7,177.9" fill="#4a555d" stroke="#2a3237" stroke-width="0.5" />
<line x1="471.5" y1="175.4" x2="492.5" y2="180.9" stroke="#59656e" stroke-width="0.8" />
<line x1="469.5" y1="178.0" x2="462.5" y2="232.0" stroke="#2f383e" stroke-width="1.0" />
<polygon points="594.0,176.0 621.0,181.5 612.0,228.4 588.0,228.4" fill="url(#fun)" stroke="#3f4a52" stroke-width="0.7" />
<polygon points="611.5,179.6 621.0,181.5 616.5,204.9 598.8,228.4 588.0,228.4 591.0,202.2" fill="#737d8a" opacity="0.88"/>
<line x1="602.1" y1="179.7" x2="595.2" y2="228.4" stroke="#8796a0" stroke-width="0.5" stroke-dasharray="0.8 1.6"/>
<line x1="607.5" y1="180.8" x2="600.0" y2="228.4" stroke="#8796a0" stroke-width="0.5" stroke-dasharray="0.8 1.6"/>
<line x1="612.9" y1="181.8" x2="604.8" y2="228.4" stroke="#8796a0" stroke-width="0.5" stroke-dasharray="0.8 1.6"/>
<line x1="592.8" y1="186.5" x2="619.2" y2="190.9" stroke="#9aa8b1" stroke-width="0.3" />
<line x1="591.6" y1="197.0" x2="617.4" y2="200.3" stroke="#9aa8b1" stroke-width="0.3" />
<line x1="590.4" y1="207.4" x2="615.6" y2="209.6" stroke="#9aa8b1" stroke-width="0.3" />
<line x1="589.2" y1="217.9" x2="613.8" y2="219.0" stroke="#9aa8b1" stroke-width="0.3" />
<polygon points="593.1,175.2 621.9,180.7 621.8,182.4 593.2,176.9" fill="#4a555d" stroke="#2a3237" stroke-width="0.5" />
<line x1="596.0" y1="174.4" x2="619.0" y2="179.9" stroke="#59656e" stroke-width="0.8" />
<line x1="594.0" y1="177.0" x2="588.0" y2="228.4" stroke="#2f383e" stroke-width="1.0" />
<rect x="243.0" y="227.5" width="86.0" height="13.3" fill="#637480" stroke="#39434a" stroke-width="0.6" />
<rect x="287.0" y="211.0" width="18.0" height="16.5" fill="#55636c" stroke="#39434a" stroke-width="0.5" />
<rect x="305.0" y="216.0" width="24.5" height="11.7" fill="#8296a3" stroke="#39434a" stroke-width="0.5" />
<polygon points="295.0,240.8 307.5,226.0 312.5,216.0 329.0,216.0 329.0,240.8" fill="#8296a3" />
<rect x="329.0" y="216.0" width="93.0" height="25.0" fill="#8599a6" stroke="#39434a" stroke-width="0.6" />
<polygon points="243.0,240.8 243.0,228.0 287.0,228.0 287.0,216.0 300.0,216.0 312.5,216.0 307.5,226.0 295.0,240.8" fill="#5f6d75" />
<polygon points="394.0,216.0 404.5,229.0 408.0,241.0 437.5,241.0 437.5,216.0" fill="#b9c3c6" stroke="#39434a" stroke-width="0.4" />
<line x1="243.0" y1="234.0" x2="329.0" y2="234.0" stroke="#46525a" stroke-width="0.5" />
<rect x="260.0" y="235.0" width="13.0" height="5.4" fill="#20272c" />
<rect x="247.0" y="229.5" width="1.8" height="3.6" fill="#39434a" />
<rect x="256.0" y="229.5" width="1.8" height="3.6" fill="#39434a" />
<rect x="265.0" y="229.5" width="1.8" height="3.6" fill="#39434a" />
<rect x="274.0" y="229.5" width="1.8" height="3.6" fill="#39434a" />
<rect x="283.0" y="229.5" width="1.8" height="3.6" fill="#39434a" />
<rect x="292.0" y="229.5" width="1.8" height="3.6" fill="#39434a" />
<rect x="301.0" y="229.5" width="1.8" height="3.6" fill="#39434a" />
<rect x="310.0" y="229.5" width="1.8" height="3.6" fill="#39434a" />
<rect x="319.0" y="229.5" width="1.8" height="3.6" fill="#39434a" />
<rect x="250.0" y="236.0" width="2.2" height="4.5" fill="#39434a" />
<rect x="281.0" y="236.0" width="2.2" height="4.5" fill="#39434a" />
<rect x="300.0" y="236.0" width="2.2" height="4.5" fill="#39434a" />
<rect x="320.0" y="236.0" width="2.2" height="4.5" fill="#39434a" />
<circle cx="333.9" cy="220.2" r="1.9" fill="#c9d3d8" stroke="#2f383e" stroke-width="0.8"/>
<circle cx="347.0" cy="220.2" r="1.9" fill="#c9d3d8" stroke="#2f383e" stroke-width="0.8"/>
<circle cx="357.6" cy="220.2" r="1.9" fill="#c9d3d8" stroke="#2f383e" stroke-width="0.8"/>
<circle cx="368.2" cy="220.2" r="1.9" fill="#c9d3d8" stroke="#2f383e" stroke-width="0.8"/>
<circle cx="378.8" cy="220.2" r="1.9" fill="#c9d3d8" stroke="#2f383e" stroke-width="0.8"/>
<circle cx="389.4" cy="220.2" r="1.9" fill="#c9d3d8" stroke="#2f383e" stroke-width="0.8"/>
<circle cx="333.0" cy="231.9" r="0.7" fill="#2b3339"/>
<circle cx="342.5" cy="231.9" r="0.7" fill="#2b3339"/>
<circle cx="352.0" cy="231.9" r="0.7" fill="#2b3339"/>
<circle cx="361.5" cy="231.9" r="0.7" fill="#2b3339"/>
<circle cx="371.0" cy="231.9" r="0.7" fill="#2b3339"/>
<circle cx="380.5" cy="231.9" r="0.7" fill="#2b3339"/>
<circle cx="390.0" cy="231.9" r="0.7" fill="#2b3339"/>
<circle cx="399.5" cy="231.9" r="0.7" fill="#2b3339"/>
<line x1="329.0" y1="226.3" x2="400.0" y2="226.3" stroke="#5d6c76" stroke-width="0.6" />
<rect x="354.3" y="229.3" width="4.8" height="9.4" fill="#55636c" stroke="#2f383e" stroke-width="0.5" />
<rect x="332.5" y="235.9" width="12.5" height="4.0" fill="#20272c" />
<rect x="376.8" y="232" width="13.2" height="7.6" rx="2.5" fill="#aebcc4" stroke="#20272c" stroke-width="0.9"/>
<line x1="329.0" y1="238.6" x2="410.0" y2="238.6" stroke="#46525a" stroke-width="0.5" />
<rect x="413.8" y="224.6" width="12.0" height="4.7" fill="#e4e9ea" stroke="#39434a" stroke-width="0.5" />
<rect x="417.0" y="229.0" width="5.5" height="12.0" fill="#aebbc2" stroke="#39434a" stroke-width="0.4" />
<rect x="400.0" y="218.0" width="10.0" height="6.0" fill="#7d8f9b" stroke="#39434a" stroke-width="0.4" />
<rect x="424.0" y="218.0" width="12.0" height="5.0" fill="#9fb0ba" stroke="#39434a" stroke-width="0.4" />
<line x1="402.0" y1="229.0" x2="402.0" y2="241.0" stroke="#59656e" stroke-width="0.6" />
<line x1="409.0" y1="229.0" x2="409.0" y2="241.0" stroke="#59656e" stroke-width="0.6" />
<line x1="428.0" y1="229.0" x2="428.0" y2="241.0" stroke="#59656e" stroke-width="0.6" />
<line x1="434.0" y1="229.0" x2="434.0" y2="241.0" stroke="#59656e" stroke-width="0.6" />
<polygon points="353.7,216.0 353.7,191.0 356.5,185.0 417.8,185.0 417.8,216.0" fill="#8599a6" stroke="#39434a" stroke-width="0.6" />
<polygon points="353.7,216.0 353.7,191.0 356.5,185.0 374.0,185.0 365.0,216.0" fill="#5f6d75" />
<rect x="405.9" y="186.3" width="12.5" height="23.0" fill="#8499a6" stroke="#39434a" stroke-width="0.4" />
<rect x="411.0" y="193.6" width="4.8" height="9.2" fill="#2f383e" />
<rect x="357.6" y="187.6" width="16.0" height="4.0" fill="#3b464d" stroke="#2f383e" stroke-width="0.4" />
<rect x="357.6" y="194.2" width="5.4" height="4.7" fill="#323c43" stroke="#2f383e" stroke-width="0.4" />
<rect x="367.0" y="194.2" width="6.0" height="4.7" fill="#323c43" stroke="#2f383e" stroke-width="0.4" />
<rect x="374.8" y="194.2" width="6.0" height="4.7" fill="#323c43" stroke="#2f383e" stroke-width="0.4" />
<rect x="382.0" y="194.2" width="6.0" height="4.7" fill="#323c43" stroke="#2f383e" stroke-width="0.4" />
<rect x="390.0" y="194.2" width="2.8" height="4.7" fill="#323c43" stroke="#2f383e" stroke-width="0.4" />
<rect x="372.0" y="206.5" width="5.0" height="9.5" fill="#7f93a0" stroke="#39434a" stroke-width="0.5" />
<circle cx="384.5" cy="209" r="2.6" fill="none" stroke="#5d6c76" stroke-width="0.6"/>
<rect x="395.6" y="198" width="5.2" height="7.4" rx="1.6" fill="#c5d0d5" stroke="#2f383e" stroke-width="0.6"/>
<line x1="398.2" y1="205.4" x2="398.2" y2="211.0" stroke="#2f383e" stroke-width="0.8" />
<rect x="392.0" y="211.5" width="14.0" height="4.5" fill="#aebcc4" stroke="#39434a" stroke-width="0.5" />
<line x1="353.7" y1="204.5" x2="365.0" y2="204.5" stroke="#4c5860" stroke-width="0.4" />
<rect x="371.0" y="181.7" width="35.0" height="3.3" fill="#5d6c76" stroke="#39434a" stroke-width="0.4" />
<line x1="372.0" y1="178.5" x2="372.0" y2="181.7" stroke="#4c5860" stroke-width="0.4" />
<line x1="375.0" y1="178.5" x2="375.0" y2="181.7" stroke="#4c5860" stroke-width="0.4" />
<line x1="378.0" y1="178.5" x2="378.0" y2="181.7" stroke="#4c5860" stroke-width="0.4" />
<line x1="381.0" y1="178.5" x2="381.0" y2="181.7" stroke="#4c5860" stroke-width="0.4" />
<line x1="384.0" y1="178.5" x2="384.0" y2="181.7" stroke="#4c5860" stroke-width="0.4" />
<line x1="387.0" y1="178.5" x2="387.0" y2="181.7" stroke="#4c5860" stroke-width="0.4" />
<line x1="390.0" y1="178.5" x2="390.0" y2="181.7" stroke="#4c5860" stroke-width="0.4" />
<line x1="393.0" y1="178.5" x2="393.0" y2="181.7" stroke="#4c5860" stroke-width="0.4" />
<line x1="396.0" y1="178.5" x2="396.0" y2="181.7" stroke="#4c5860" stroke-width="0.4" />
<line x1="399.0" y1="178.5" x2="399.0" y2="181.7" stroke="#4c5860" stroke-width="0.4" />
<line x1="402.0" y1="178.5" x2="402.0" y2="181.7" stroke="#4c5860" stroke-width="0.4" />
<line x1="405.0" y1="178.5" x2="405.0" y2="181.7" stroke="#4c5860" stroke-width="0.4" />
<line x1="371.0" y1="178.5" x2="406.0" y2="178.5" stroke="#4c5860" stroke-width="0.5" />
<polygon points="384.7,183.7 384.7,172.0 389.0,166.0 394.0,162.0 394.0,183.7" fill="#5e6f7b" stroke="#39434a" stroke-width="0.5" />
<rect x="394.0" y="162.0" width="10.0" height="21.7" fill="#a3b4bf" stroke="#39434a" stroke-width="0.5" />
<rect x="394.0" y="170.0" width="10.0" height="2.0" fill="#6d7e8a" />
<rect x="396.5" y="163.5" width="3.4" height="5.0" fill="#59656e" />
<rect x="390.0" y="159.0" width="1.6" height="7.0" fill="#39434a" />
<rect x="381.0" y="176.0" width="4.0" height="6.0" fill="#4c5860" />
<rect x="414.5" y="163.9" width="6.5" height="42.0" fill="#9fb0ba" stroke="#39434a" stroke-width="0.5" />
<line x1="416.3" y1="165.0" x2="416.3" y2="205.0" stroke="#d5dde0" stroke-width="0.9" />
<path d="M409.8,163.9 L409.8,157.2 Q411,153.3 417.7,153.3 Q424.5,153.3 425.7,157.2 L425.7,163.9 Z" fill="#c9d1d4" stroke="#39434a" stroke-width="0.6"/>
<rect x="409.8" y="160.0" width="15.9" height="3.9" fill="#8fa0aa" />
<rect x="421.0" y="168.0" width="6.0" height="4.0" fill="none" stroke="#59656e" stroke-width="0.6" />
<rect x="417.8" y="199.0" width="12.0" height="17.0" fill="#8ea2af" stroke="#39434a" stroke-width="0.4" />
<rect x="423.0" y="208.0" width="7.3" height="8.0" fill="#b5c0bd" stroke="#39434a" stroke-width="0.5" />
<line x1="420.0" y1="199.0" x2="420.0" y2="205.0" stroke="#59656e" stroke-width="0.4" />
<line x1="424.0" y1="199.0" x2="424.0" y2="205.0" stroke="#59656e" stroke-width="0.4" />
<line x1="428.0" y1="199.0" x2="428.0" y2="205.0" stroke="#59656e" stroke-width="0.4" />
<rect x="326.1" y="186.3" width="1.1" height="29.7" fill="#6c7880" />
<rect x="330.1" y="197.0" width="1.1" height="19.0" fill="#59656e" />
<rect x="346.5" y="197.0" width="1.1" height="19.0" fill="#59656e" />
<line x1="326.6" y1="192.3" x2="353.5" y2="192.3" stroke="#6c7880" stroke-width="0.5" />
<line x1="329.0" y1="211.4" x2="353.5" y2="211.4" stroke="#4c5860" stroke-width="0.6" />
<line x1="329.0" y1="213.6" x2="353.5" y2="213.6" stroke="#4c5860" stroke-width="0.4" />
<rect x="437.5" y="223.0" width="24.0" height="18.0" fill="#9aa8b0" stroke="#39434a" stroke-width="0.4" />
<rect x="441.0" y="228.0" width="16.0" height="12.4" fill="#cbd5d9" stroke="#39434a" stroke-width="0.5" />
<rect x="443.3" y="231.0" width="5.2" height="5.0" fill="#323c43" />
<rect x="449.6" y="231.0" width="5.2" height="5.0" fill="#323c43" />
<line x1="437.0" y1="231.0" x2="462.5" y2="221.0" stroke="#c5d0d5" stroke-width="2.0" />
<line x1="437.0" y1="232.6" x2="462.5" y2="222.6" stroke="#4c5860" stroke-width="0.5" />
<line x1="437.0" y1="229.6" x2="462.5" y2="219.6" stroke="#4c5860" stroke-width="0.5" />
<line x1="439.0" y1="215.0" x2="439.0" y2="223.0" stroke="#59656e" stroke-width="0.5" />
<line x1="444.0" y1="215.0" x2="444.0" y2="223.0" stroke="#59656e" stroke-width="0.5" />
<line x1="449.0" y1="215.0" x2="449.0" y2="223.0" stroke="#59656e" stroke-width="0.5" />
<line x1="454.0" y1="215.0" x2="454.0" y2="223.0" stroke="#59656e" stroke-width="0.5" />
<line x1="459.0" y1="215.0" x2="459.0" y2="223.0" stroke="#59656e" stroke-width="0.5" />
<line x1="437.5" y1="215.0" x2="461.0" y2="215.0" stroke="#59656e" stroke-width="0.5" />
<rect x="449.5" y="207.0" width="4.0" height="8.0" fill="#39434a" />
<rect x="455.5" y="210.0" width="3.0" height="5.0" fill="#59656e" />
<rect x="481.0" y="229.0" width="15.0" height="12.0" fill="#c3ccd0" stroke="#39434a" stroke-width="0.5" />
<circle cx="487.5" cy="224.6" r="3.1" fill="#d6ecf6" stroke="#20272c" stroke-width="0.9"/>
<rect x="484.0" y="227.5" width="7.0" height="2.2" fill="#39434a" />
<rect x="462.0" y="234.0" width="19.0" height="7.0" fill="#76838b" stroke="#39434a" stroke-width="0.4" />
<rect x="464" y="234.5" width="10" height="6" rx="2.4" fill="none" stroke="#20272c" stroke-width="0.9"/>
<rect x="497.0" y="233.8" width="58.0" height="3.4" fill="#c9d1d3" />
<rect x="497.0" y="237.0" width="58.0" height="8.0" fill="#7f8a90" />
<rect x="498.0" y="234.2" width="2.0" height="2.6" fill="#e4e9ea" />
<rect x="498.6" y="238.0" width="2.4" height="5.0" fill="#aab5ba" />
<rect x="502.1" y="235.0" width="2.0" height="2.6" fill="#4c5860" />
<rect x="502.7" y="238.7" width="2.4" height="5.0" fill="#59656e" />
<rect x="506.2" y="234.2" width="2.0" height="2.6" fill="#4c5860" />
<rect x="506.8" y="239.4" width="2.4" height="5.0" fill="#aab5ba" />
<rect x="510.3" y="235.0" width="2.0" height="2.6" fill="#e4e9ea" />
<rect x="510.9" y="238.0" width="2.4" height="5.0" fill="#59656e" />
<rect x="514.4" y="234.2" width="2.0" height="2.6" fill="#4c5860" />
<rect x="515.0" y="238.7" width="2.4" height="5.0" fill="#aab5ba" />
<rect x="518.5" y="235.0" width="2.0" height="2.6" fill="#4c5860" />
<rect x="519.1" y="239.4" width="2.4" height="5.0" fill="#59656e" />
<rect x="522.6" y="234.2" width="2.0" height="2.6" fill="#e4e9ea" />
<rect x="523.2" y="238.0" width="2.4" height="5.0" fill="#aab5ba" />
<rect x="526.7" y="235.0" width="2.0" height="2.6" fill="#4c5860" />
<rect x="527.3" y="238.7" width="2.4" height="5.0" fill="#59656e" />
<rect x="530.8" y="234.2" width="2.0" height="2.6" fill="#4c5860" />
<rect x="531.4" y="239.4" width="2.4" height="5.0" fill="#aab5ba" />
<rect x="534.9" y="235.0" width="2.0" height="2.6" fill="#e4e9ea" />
<rect x="535.5" y="238.0" width="2.4" height="5.0" fill="#59656e" />
<rect x="539.0" y="234.2" width="2.0" height="2.6" fill="#4c5860" />
<rect x="539.6" y="238.7" width="2.4" height="5.0" fill="#aab5ba" />
<rect x="543.1" y="235.0" width="2.0" height="2.6" fill="#4c5860" />
<rect x="543.7" y="239.4" width="2.4" height="5.0" fill="#59656e" />
<rect x="547.2" y="234.2" width="2.0" height="2.6" fill="#e4e9ea" />
<rect x="547.8" y="238.0" width="2.4" height="5.0" fill="#aab5ba" />
<rect x="551.3" y="235.0" width="2.0" height="2.6" fill="#4c5860" />
<rect x="551.9" y="238.7" width="2.4" height="5.0" fill="#59656e" />
<line x1="497.0" y1="233.8" x2="555.0" y2="233.8" stroke="#59656e" stroke-width="0.5" />
<line x1="497.0" y1="245.0" x2="586.0" y2="245.0" stroke="#6c7880" stroke-width="0.6" />
<polyline points="547.8,245.0 547.8,234.0 550.0,231.5 553.5,232.2 555.0,235.0" fill="none" stroke="#6c7880" stroke-width="1.0" />
<polyline points="500.8,245.0 500.8,236.0 503.0,233.6" fill="none" stroke="#6c7880" stroke-width="0.9" />
<rect x="558.8" y="240.0" width="29.4" height="12.2" fill="#bfc8ca" stroke="#39434a" stroke-width="0.5" />
<rect x="559.4" y="229.0" width="29.0" height="11.0" fill="#4f5a62" />
<rect x="561.0" y="222.5" width="5.4" height="8.0" fill="#dfe5e6" stroke="#39434a" stroke-width="0.5" />
<rect x="579.4" y="222.5" width="5.4" height="8.0" fill="#dfe5e6" stroke="#39434a" stroke-width="0.5" />
<rect x="567.5" y="224.5" width="2.6" height="6.0" fill="#20272c" />
<rect x="571.5" y="224.5" width="2.6" height="6.0" fill="#20272c" />
<rect x="575.5" y="224.5" width="2.6" height="6.0" fill="#20272c" />
<rect x="562.0" y="233.0" width="2.2" height="6.0" fill="#aab5ba" />
<rect x="566.0" y="234.0" width="2.2" height="5.0" fill="#aab5ba" />
<rect x="570.0" y="232.0" width="2.2" height="7.0" fill="#aab5ba" />
<rect x="574.0" y="233.0" width="2.2" height="6.0" fill="#aab5ba" />
<rect x="578.0" y="234.0" width="2.2" height="5.0" fill="#aab5ba" />
<rect x="582.0" y="232.0" width="2.2" height="7.0" fill="#aab5ba" />
<rect x="585.0" y="232.0" width="2.2" height="7.0" fill="#aab5ba" />
<rect x="586.3" y="229.4" width="23.2" height="10.0" fill="#e6eaeb" stroke="#39434a" stroke-width="0.6" />
<rect x="588.0" y="232.0" width="9.0" height="5.5" fill="#2a3237" />
<rect x="598.8" y="232.0" width="8.8" height="5.5" fill="#2a3237" />
<line x1="590.2" y1="232.0" x2="590.2" y2="237.5" stroke="#8d999f" stroke-width="0.4" />
<line x1="592.5" y1="232.0" x2="592.5" y2="237.5" stroke="#8d999f" stroke-width="0.4" />
<line x1="594.8" y1="232.0" x2="594.8" y2="237.5" stroke="#8d999f" stroke-width="0.4" />
<line x1="601.0" y1="232.0" x2="601.0" y2="237.5" stroke="#8d999f" stroke-width="0.4" />
<line x1="603.3" y1="232.0" x2="603.3" y2="237.5" stroke="#8d999f" stroke-width="0.4" />
<line x1="605.6" y1="232.0" x2="605.6" y2="237.5" stroke="#8d999f" stroke-width="0.4" />
<rect x="588.0" y="239.6" width="57.3" height="12.8" fill="#6f7a80" stroke="#39434a" stroke-width="0.4" />
<rect x="588.0" y="239.6" width="57.3" height="3.0" fill="#a9b3b8" />
<rect x="630.0" y="243.0" width="2.0" height="9.0" fill="#4c5860" />
<rect x="634.0" y="243.0" width="2.0" height="9.0" fill="#4c5860" />
<rect x="638.0" y="243.0" width="2.0" height="9.0" fill="#4c5860" />
<rect x="642.0" y="243.0" width="2.0" height="9.0" fill="#4c5860" />
<polygon points="601.0,251.5 608.0,236.0 609.0,223.5 621.5,223.5 622.0,236.0 629.0,251.5" fill="#5d6f7e" stroke="#39434a" stroke-width="0.6" />
<rect x="607.5" y="219.0" width="16.0" height="4.5" fill="#9dabb4" stroke="#39434a" stroke-width="0.5" />
<circle cx="616.8" cy="214.2" r="3.2" fill="#d6ecf6" stroke="#20272c" stroke-width="0.9"/>
<rect x="613.5" y="216.8" width="7.0" height="2.2" fill="#39434a" />
<circle cx="615.5" cy="243" r="1.8" fill="#c9d3d8" stroke="#20272c" stroke-width="0.6"/>
<line x1="596.0" y1="248.4" x2="638.0" y2="248.4" stroke="#dfe5e6" stroke-width="1.8" />
<line x1="596.0" y1="249.5" x2="638.0" y2="249.5" stroke="#39434a" stroke-width="0.5" />
<line x1="596.0" y1="247.3" x2="638.0" y2="247.3" stroke="#39434a" stroke-width="0.4" />
<line x1="627.0" y1="224.0" x2="641.0" y2="252.0" stroke="#b4bfc5" stroke-width="1.6" />
<line x1="626.2" y1="224.0" x2="640.2" y2="252.0" stroke="#39434a" stroke-width="0.4" />
<rect x="645.3" y="238.8" width="82.5" height="13.6" fill="#bfc8ca" stroke="#39434a" stroke-width="0.6" />
<polygon points="645.3,252.4 645.3,245.0 656.0,247.5 668.0,252.4" fill="#859cab" />
<rect x="658.5" y="241.3" width="4.0" height="9.8" fill="#77848c" stroke="#39434a" stroke-width="0.4" />
<rect x="677.0" y="241.3" width="4.0" height="9.8" fill="#77848c" stroke="#39434a" stroke-width="0.4" />
<rect x="684.0" y="242.2" width="3.2" height="3.8" rx="1" fill="#eef2f3" stroke="#39434a" stroke-width="0.6"/>
<rect x="698.0" y="242.2" width="3.2" height="3.8" rx="1" fill="#eef2f3" stroke="#39434a" stroke-width="0.6"/>
<rect x="712.0" y="242.2" width="3.2" height="3.8" rx="1" fill="#eef2f3" stroke="#39434a" stroke-width="0.6"/>
<rect x="642.5" y="224.0" width="21.0" height="14.8" fill="#d4dbdc" stroke="#39434a" stroke-width="0.4" />
<line x1="642.5" y1="231.0" x2="663.5" y2="231.0" stroke="#8d999f" stroke-width="0.4" />
<rect x="645.3" y="236.0" width="82.5" height="2.8" fill="#4c5860" />
<line x1="647.0" y1="232.2" x2="647.0" y2="236.0" stroke="#59656e" stroke-width="0.4" />
<line x1="651.1" y1="232.2" x2="651.1" y2="236.0" stroke="#59656e" stroke-width="0.4" />
<line x1="655.2" y1="232.2" x2="655.2" y2="236.0" stroke="#59656e" stroke-width="0.4" />
<line x1="659.3" y1="232.2" x2="659.3" y2="236.0" stroke="#59656e" stroke-width="0.4" />
<line x1="663.4" y1="232.2" x2="663.4" y2="236.0" stroke="#59656e" stroke-width="0.4" />
<line x1="667.5" y1="232.2" x2="667.5" y2="236.0" stroke="#59656e" stroke-width="0.4" />
<line x1="671.6" y1="232.2" x2="671.6" y2="236.0" stroke="#59656e" stroke-width="0.4" />
<line x1="675.7" y1="232.2" x2="675.7" y2="236.0" stroke="#59656e" stroke-width="0.4" />
<line x1="679.8" y1="232.2" x2="679.8" y2="236.0" stroke="#59656e" stroke-width="0.4" />
<line x1="683.9" y1="232.2" x2="683.9" y2="236.0" stroke="#59656e" stroke-width="0.4" />
<line x1="688.0" y1="232.2" x2="688.0" y2="236.0" stroke="#59656e" stroke-width="0.4" />
<line x1="692.1" y1="232.2" x2="692.1" y2="236.0" stroke="#59656e" stroke-width="0.4" />
<line x1="696.2" y1="232.2" x2="696.2" y2="236.0" stroke="#59656e" stroke-width="0.4" />
<line x1="700.3" y1="232.2" x2="700.3" y2="236.0" stroke="#59656e" stroke-width="0.4" />
<line x1="704.4" y1="232.2" x2="704.4" y2="236.0" stroke="#59656e" stroke-width="0.4" />
<line x1="708.5" y1="232.2" x2="708.5" y2="236.0" stroke="#59656e" stroke-width="0.4" />
<line x1="712.6" y1="232.2" x2="712.6" y2="236.0" stroke="#59656e" stroke-width="0.4" />
<line x1="716.7" y1="232.2" x2="716.7" y2="236.0" stroke="#59656e" stroke-width="0.4" />
<line x1="720.8" y1="232.2" x2="720.8" y2="236.0" stroke="#59656e" stroke-width="0.4" />
<line x1="724.9" y1="232.2" x2="724.9" y2="236.0" stroke="#59656e" stroke-width="0.4" />
<line x1="663.5" y1="232.2" x2="727.8" y2="232.2" stroke="#59656e" stroke-width="0.5" />
<rect x="664.0" y="217.0" width="8.5" height="19.5" fill="#5f6d76" stroke="#39434a" stroke-width="0.5" />
<rect x="661.0" y="224.0" width="14.0" height="3.0" fill="#4c5860" />
<path d="M659.4,218 L659.4,211 Q667,203.5 674.8,211 L674.8,218 Z" fill="url(#tur)" stroke="#39434a" stroke-width="0.6"/>
<polyline points="696.5,217.0 696.5,236.0" fill="none" stroke="#4c5860" stroke-width="1.0" />
<polyline points="696.5,221.0 704.5,236.0" fill="none" stroke="#4c5860" stroke-width="0.8" />
<polygon points="703.0,236.0 703.0,231.0 706.0,227.5 709.0,231.0 709.0,236.0" fill="#74828a" stroke="#39434a" stroke-width="0.4" />
<rect x="727.8" y="237.5" width="18.0" height="15.0" fill="#56636c" stroke="#39434a" stroke-width="0.5" />
<rect x="730.0" y="246.0" width="5.0" height="5.0" fill="#20272c" />
<rect x="738.0" y="240.0" width="5.0" height="4.0" fill="#39434a" />
<rect x="786.0" y="247.5" width="2.2" height="3.6" fill="#2f383e" />
<rect x="790.0" y="247.5" width="2.2" height="3.6" fill="#2f383e" />
<rect x="810.0" y="247.5" width="2.2" height="3.6" fill="#2f383e" />
<rect x="848.0" y="247.5" width="2.2" height="3.6" fill="#2f383e" />
<rect x="851.5" y="247.5" width="2.2" height="3.6" fill="#2f383e" />
<rect x="800.0" y="248.0" width="6.0" height="3.2" fill="#59656e" />
<rect x="820.0" y="247.6" width="7.0" height="3.6" fill="#76838b" stroke="#39434a" stroke-width="0.3" />
<polyline points="883.5,251.0 883.5,241.5 885.0,239.5 887.0,240.5" fill="none" stroke="#39434a" stroke-width="1.1" />
<rect x="888.0" y="245.5" width="10.0" height="5.5" fill="#59656e" />
<rect x="900.0" y="246.5" width="9.0" height="4.5" fill="#76838b" />
<polyline points="789.0,252.0 797.0,268.0" fill="none" stroke="#46525a" stroke-width="0.8" />
<polyline points="814.0,252.0 812.0,268.0" fill="none" stroke="#46525a" stroke-width="0.8" />
<polyline points="838.0,252.0 829.0,268.0" fill="none" stroke="#46525a" stroke-width="0.8" />
<line x1="800.0" y1="268.3" x2="828.0" y2="268.3" stroke="#39434a" stroke-width="1.2" />
<rect x="181.0" y="225.1" width="27.5" height="2.4" fill="#66757f" stroke="#2f383e" stroke-width="0.5" />
<rect x="203.5" y="223.7" width="8.0" height="5.2" fill="#4f5b63" stroke="#2f383e" stroke-width="0.4" />
<path d="M202.5,240.2 L202.5,226.5 L211.5,220.6 L227.0,220.0 Q232.0,220.0 232.0,225.0 L232.0,240.2 Z" fill="url(#tur)" stroke="#2f383e" stroke-width="0.7"/>
<polygon points="202.5,240.2 202.5,226.5 211.5,220.6 213.5,220.6 211.5,240.2" fill="#56636c" opacity="0.75"/>
<line x1="212.0" y1="221.0" x2="211.0" y2="240.2" stroke="#2f383e" stroke-width="0.5" />
<line x1="203.5" y1="237.0" x2="231.0" y2="237.0" stroke="#3e4850" stroke-width="0.6" />
<rect x="220.2" y="217.8" width="1.6" height="2.4" fill="#3e4850" />
<rect x="225.0" y="214.7" width="27.3" height="2.4" fill="#66757f" stroke="#2f383e" stroke-width="0.5" />
<rect x="247.3" y="213.3" width="8.0" height="5.2" fill="#4f5b63" stroke="#2f383e" stroke-width="0.4" />
<path d="M246.3,227.5 L246.3,215.3 L255.3,209.4 L270.6,208.8 Q275.6,208.8 275.6,213.8 L275.6,227.5 Z" fill="url(#tur)" stroke="#2f383e" stroke-width="0.7"/>
<polygon points="246.3,227.5 246.3,215.3 255.3,209.4 257.3,209.4 255.3,227.5" fill="#56636c" opacity="0.75"/>
<line x1="255.8" y1="209.8" x2="254.8" y2="227.5" stroke="#2f383e" stroke-width="0.5" />
<line x1="247.3" y1="224.3" x2="274.6" y2="224.3" stroke="#3e4850" stroke-width="0.6" />
<rect x="264.0" y="206.6" width="1.6" height="2.4" fill="#3e4850" />
<rect x="269.4" y="202.6" width="27.2" height="2.4" fill="#66757f" stroke="#2f383e" stroke-width="0.5" />
<rect x="291.6" y="201.2" width="8.0" height="5.2" fill="#4f5b63" stroke="#2f383e" stroke-width="0.4" />
<path d="M290.6,215.5 L290.6,203.5 L299.6,197.6 L315.0,197.0 Q320.0,197.0 320.0,202.0 L320.0,215.5 Z" fill="url(#tur)" stroke="#2f383e" stroke-width="0.7"/>
<polygon points="290.6,215.5 290.6,203.5 299.6,197.6 301.6,197.6 299.6,215.5" fill="#56636c" opacity="0.75"/>
<line x1="300.1" y1="198.0" x2="299.1" y2="215.5" stroke="#2f383e" stroke-width="0.5" />
<line x1="291.6" y1="212.3" x2="319.0" y2="212.3" stroke="#3e4850" stroke-width="0.6" />
<rect x="308.3" y="194.8" width="1.6" height="2.4" fill="#3e4850" />
<rect x="736.0" y="224.0" width="29.0" height="2.4" fill="#66757f" stroke="#2f383e" stroke-width="0.5" />
<rect x="733.0" y="222.6" width="8.0" height="5.2" fill="#4f5b63" stroke="#2f383e" stroke-width="0.4" />
<path d="M742.0,237.5 L742.0,226.0 L733.0,220.1 L719.5,219.5 Q714.5,219.5 714.5,224.5 L714.5,237.5 Z" fill="url(#tur)" stroke="#2f383e" stroke-width="0.7"/>
<polygon points="742.0,237.5 742.0,226.0 733.0,220.1 731.0,220.1 733.0,237.5" fill="#56636c" opacity="0.75"/>
<line x1="732.5" y1="220.5" x2="733.5" y2="237.5" stroke="#2f383e" stroke-width="0.5" />
<line x1="715.5" y1="234.3" x2="741.0" y2="234.3" stroke="#3e4850" stroke-width="0.6" />
<rect x="723.2" y="217.3" width="1.6" height="2.4" fill="#3e4850" />
<rect x="776.0" y="237.6" width="30.0" height="2.4" fill="#66757f" stroke="#2f383e" stroke-width="0.5" />
<rect x="773.0" y="236.2" width="8.0" height="5.2" fill="#4f5b63" stroke="#2f383e" stroke-width="0.4" />
<path d="M782.0,251.4 L782.0,239.5 L773.0,233.6 L760.8,233.0 Q755.8,233.0 755.8,238.0 L755.8,251.4 Z" fill="url(#tur)" stroke="#2f383e" stroke-width="0.7"/>
<polygon points="782.0,251.4 782.0,239.5 773.0,233.6 771.0,233.6 773.0,251.4" fill="#56636c" opacity="0.75"/>
<line x1="772.5" y1="234.0" x2="773.5" y2="251.4" stroke="#2f383e" stroke-width="0.5" />
<line x1="756.8" y1="248.2" x2="781.0" y2="248.2" stroke="#3e4850" stroke-width="0.6" />
<rect x="763.9" y="230.8" width="1.6" height="2.4" fill="#3e4850" />
<clipPath id="hc3"><polygon points="84.5,231.0 100.0,232.8 120.0,234.8 140.0,236.6 160.0,238.2 180.0,239.4 207.0,240.6 250.0,241.0 428.5,241.0 428.5,252.2 640.0,252.3 800.0,251.6 913.0,251.0 915.0,262.0 915.5,275.0 93.9,275.0 93.0,271.0"/><polygon points="428.5,241.0 588.0,241.0 588.0,253.0 428.5,253.0"/></clipPath>
<g clip-path="url(#hc3)">
<rect x="80.0" y="225.0" width="840.0" height="52.0" fill="#859cab" />
<polygon points="916.0,247.5 884.0,247.5 881.0,258.9 868.5,263.5 857.5,266.5 851.0,276.5 916.0,276.5" fill="#ccd2d1" />
<polygon points="916.0,256.5 906.0,256.5 899.0,261.5 896.0,267.5 896.0,276.5 908.0,276.5 912.0,267.5 916.0,266.5" fill="#57636c" />
<polygon points="884.0,247.5 853.0,247.5 839.0,255.5 826.0,260.5 795.0,262.0 784.0,276.5 851.0,276.5 857.5,266.5 868.5,263.5 881.0,258.9" fill="#57636c" />
<polygon points="774.0,276.5 734.0,276.5 716.0,267.5 690.0,260.5 676.0,249.5 726.0,249.5 754.0,263.5" fill="#ccd2d1" />
<polygon points="667.5,276.5 658.0,262.5 647.5,249.5 635.0,249.5 631.0,262.5 629.0,276.5" fill="#57636c" />
<polygon points="632.5,249.5 632.5,235.5 587.5,235.5 587.5,249.5 607.5,251.5 608.0,276.5 627.5,276.5 631.0,262.5" fill="#ccd2d1" />
<polygon points="590.0,276.5 530.0,276.5 515.0,251.5 515.0,235.5 560.0,235.5 560.0,249.5 557.5,251.5" fill="#ccd2d1" />
<polygon points="515.0,235.5 426.5,235.5 426.5,248.5 434.0,252.0 515.0,252.0" fill="#ccd2d1" />
<polygon points="475.0,276.5 450.0,260.5 434.0,253.5 426.5,248.5 426.5,276.5" fill="#57636c" />
<polygon points="426.5,233.5 379.0,238.5 351.5,258.0 329.0,260.5 296.5,276.5 426.5,276.5" fill="#ccd2d1" />
<polygon points="304.0,235.5 269.0,235.5 274.0,247.5 286.0,251.0 298.0,247.5" fill="#57636c" />
<polygon points="261.5,276.5 244.0,255.5 226.0,243.5 221.0,235.5 210.5,235.5 188.0,258.0 179.2,276.5" fill="#ccd2d1" />
<polygon points="210.5,233.5 170.5,233.5 148.0,248.0 133.0,255.5 128.0,276.5 179.2,276.5 188.0,258.0" fill="#57636c" />
<polygon points="170.5,233.5 115.5,230.5 123.0,255.5 125.5,276.5 133.0,276.5 133.0,255.5 148.0,248.0" fill="#ccd2d1" />
<polygon points="115.5,229.5 82.0,227.5 90.0,276.5 125.5,276.5 123.0,255.5" fill="#57636c" />
<polygon points="108.0,276.5 104.0,265.5 96.0,260.5 88.0,259.5 90.0,276.5" fill="#ccd2d1" />
<polyline points="84.5,231.0 100.0,232.8 120.0,234.8 140.0,236.6 160.0,238.2 180.0,239.4 207.0,240.6 250.0,241.0 428.5,241.0" fill="none" stroke="#dfe5e6" stroke-width="0.5" />
<circle cx="104.0" cy="236.8" r="0.95" fill="#1f262b"/>
<circle cx="117.3" cy="237.9" r="0.95" fill="#1f262b"/>
<circle cx="130.6" cy="238.9" r="0.95" fill="#1f262b"/>
<circle cx="143.9" cy="240.0" r="0.95" fill="#1f262b"/>
<circle cx="157.2" cy="241.0" r="0.95" fill="#1f262b"/>
<circle cx="170.5" cy="242.0" r="0.95" fill="#1f262b"/>
<circle cx="183.8" cy="243.1" r="0.95" fill="#1f262b"/>
<circle cx="197.1" cy="244.1" r="0.95" fill="#1f262b"/>
<circle cx="210.4" cy="244.9" r="0.95" fill="#1f262b"/>
<circle cx="223.7" cy="245.1" r="0.95" fill="#1f262b"/>
<circle cx="237.0" cy="245.2" r="0.95" fill="#1f262b"/>
<circle cx="250.3" cy="245.3" r="0.95" fill="#1f262b"/>
<circle cx="263.6" cy="245.3" r="0.95" fill="#1f262b"/>
<circle cx="276.9" cy="245.3" r="0.95" fill="#1f262b"/>
<circle cx="290.2" cy="245.3" r="0.95" fill="#1f262b"/>
<circle cx="303.5" cy="245.3" r="0.95" fill="#1f262b"/>
<circle cx="316.8" cy="245.3" r="0.95" fill="#1f262b"/>
<circle cx="330.1" cy="245.3" r="0.95" fill="#1f262b"/>
<circle cx="343.4" cy="245.3" r="0.95" fill="#1f262b"/>
<circle cx="356.7" cy="245.3" r="0.95" fill="#1f262b"/>
<circle cx="370.0" cy="245.3" r="0.95" fill="#1f262b"/>
<circle cx="383.3" cy="245.3" r="0.95" fill="#1f262b"/>
<circle cx="396.6" cy="245.3" r="0.95" fill="#1f262b"/>
<circle cx="409.9" cy="245.3" r="0.95" fill="#1f262b"/>
<circle cx="423.2" cy="245.3" r="0.95" fill="#1f262b"/>
<circle cx="412.0" cy="245.2" r="0.9" fill="#1f262b"/>
<circle cx="418.5" cy="245.2" r="0.9" fill="#1f262b"/>
<circle cx="484.0" cy="245.2" r="0.9" fill="#1f262b"/>
<circle cx="492.0" cy="245.2" r="0.9" fill="#1f262b"/>
<circle cx="440.0" cy="245.2" r="0.9" fill="#1f262b"/>
</g>
<polygon points="431.8,240.4 474.5,240.4 473.5,243.2 471.0,246.0 437.0,246.8 433.5,244.5" fill="#edf0f0" stroke="#2f383e" stroke-width="0.7" />
<polygon points="432.8,243.2 473.6,243.0 471.0,246.0 437.0,246.8 433.5,244.5" fill="#b8402b" />
<line x1="431.8" y1="240.4" x2="474.5" y2="240.4" stroke="#2f383e" stroke-width="0.8" />
<rect x="433.0" y="246.6" width="42.0" height="2.6" fill="#4a555d" />
<rect x="507.5" y="241.0" width="1.8" height="21.3" fill="#939da2" stroke="#3e4850" stroke-width="0.4" />
<rect x="555.4" y="241.0" width="1.8" height="21.3" fill="#939da2" stroke="#3e4850" stroke-width="0.4" />
<line x1="264.3" y1="256.9" x2="329.0" y2="256.9" stroke="#9aa4aa" stroke-width="1.3" />
<line x1="264.3" y1="257.7" x2="329.0" y2="257.7" stroke="#4a555c" stroke-width="0.5" />
<polyline points="329.0,245.6 341.0,245.8 353.4,254.6 428.0,254.6" fill="none" stroke="#dfe5e6" stroke-width="0.6" />
<polyline points="329.0,246.3 341.0,246.5 353.2,255.3 428.0,255.3" fill="none" stroke="#5d6b73" stroke-width="0.5" />
<line x1="477.0" y1="253.7" x2="640.0" y2="253.7" stroke="#e4e9ea" stroke-width="0.5" />
<polyline points="84.5,231.0 100.0,232.8 120.0,234.8 140.0,236.6 160.0,238.2 180.0,239.4 207.0,240.6 250.0,241.0 428.5,241.0 428.5,241.0" fill="none" stroke="#4a555c" stroke-width="0.5" />
<line x1="428.5" y1="252.3" x2="913.0" y2="251.2" stroke="#59656e" stroke-width="0.5" />
<polyline points="84.5,231.0 93.0,271.0 93.9,275.0" fill="none" stroke="#3d474e" stroke-width="0.6" />
<polyline points="913.0,251.0 915.0,262.0 915.5,275.0" fill="none" stroke="#3d474e" stroke-width="0.6" />
<polygon points="96.5,243.5 101.5,240.2 104.5,244.6 99.5,248.0" fill="#1b2024" />
<line x1="97.6" y1="244.3" x2="102.0" y2="241.4" stroke="#e9eded" stroke-width="0.5" />
<line x1="98.5" y1="245.6" x2="102.9" y2="242.7" stroke="#e9eded" stroke-width="0.5" />
<line x1="99.4" y1="246.9" x2="103.8" y2="244.0" stroke="#e9eded" stroke-width="0.5" />
<line x1="756.0" y1="251.5" x2="780.0" y2="278.0" stroke="#c3ccd0" stroke-width="2.0" />
<line x1="755.2" y1="252.2" x2="779.2" y2="278.7" stroke="#2f383e" stroke-width="0.5" />
<line x1="756.8" y1="250.8" x2="780.8" y2="277.3" stroke="#2f383e" stroke-width="0.5" />
<rect x="771.0" y="264.5" width="10.0" height="6.0" fill="#b9c3c6" stroke="#2f383e" stroke-width="0.5" />
<polyline points="431.0,251.0 431.0,267.0 416.5,267.0 416.5,271.0" fill="none" stroke="#a9b3b8" stroke-width="1.2" />
<polyline points="432.2,251.0 432.2,268.2 417.7,268.2 417.7,271.0" fill="none" stroke="#3e4850" stroke-width="0.5" />
<path d="M431,256 L431,253 Q433,250.5 435,253 L435,267" fill="none" stroke="#a9b3b8" stroke-width="0.9"/>
<polyline points="633.0,252.5 633.0,265.0 714.0,265.0 714.0,271.0" fill="none" stroke="#a9b3b8" stroke-width="1.2" />
<polyline points="634.2,252.5 634.2,263.8 712.8,263.8" fill="none" stroke="#3e4850" stroke-width="0.5" />
<polygon points="93.6,274.0 915.5,274.0 914.0,279.0 893.0,280.6 868.0,283.0 856.0,286.0 843.0,290.5 833.0,295.5 826.0,299.0 820.0,300.2 100.0,300.2" fill="url(#red)" />
<polyline points="416.5,275.0 416.5,279.6 714.0,279.6 714.0,275.0" fill="none" stroke="#5e1711" stroke-width="0.7" />
<line x1="418.0" y1="280.6" x2="713.0" y2="280.6" stroke="#c3442e" stroke-width="0.4" />
<polygon points="93.0,271.2 915.4,271.2 915.5,275.0 93.9,275.0" fill="#1c2226" />
<line x1="93.2" y1="271.4" x2="915.4" y2="271.4" stroke="#56636b" stroke-width="0.6" />
<line x1="99.5" y1="300.2" x2="821.0" y2="300.2" stroke="#2a0b08" stroke-width="1.0" />
<polyline points="347.0,294.3 500.0,295.6 720.0,294.6" fill="none" stroke="#d0503a" stroke-width="0.9" />
<polyline points="347.0,295.7 500.0,297.0 722.0,295.8" fill="none" stroke="#120504" stroke-width="1.5" />
<polygon points="722.0,294.0 760.0,291.5 800.0,292.5 829.0,296.5 821.0,300.2 722.0,300.2" fill="#1f0805" opacity="0.7"/>
<polygon points="733.0,285.8 745.0,284.0 760.0,285.6 745.0,288.2" fill="#c8512f" stroke="#6a1b12" stroke-width="0.4" />
<line x1="758.0" y1="286.0" x2="884.0" y2="291.0" stroke="#aeb5b9" stroke-width="1.3" />
<line x1="758.0" y1="287.0" x2="884.0" y2="292.0" stroke="#4e120d" stroke-width="0.5" />
<rect x="798.0" y="287.0" width="22.0" height="3.2" fill="#b8452c" />
<rect x="846.0" y="288.4" width="20.0" height="3.2" fill="#b8452c" />
<line x1="802.5" y1="280.0" x2="804.0" y2="289.0" stroke="#8e2a1c" stroke-width="1.3" />
<line x1="850.0" y1="281.0" x2="851.5" y2="290.0" stroke="#8e2a1c" stroke-width="1.3" />
<ellipse cx="812.5" cy="289.6" rx="2.1" ry="6.2" fill="#c9a92e" stroke="#6d5a12" stroke-width="0.5"/>
<ellipse cx="859.5" cy="291.0" rx="2.1" ry="6.2" fill="#c9a92e" stroke="#6d5a12" stroke-width="0.5"/>
<polygon points="868.5,283.0 880.0,282.2 884.0,279.6 899.0,279.6 899.0,297.5 896.5,300.2 870.5,300.2 868.5,298.0" fill="#a02a1c" stroke="#4e120d" stroke-width="0.6" />
<polyline points="884.0,291.0 889.0,291.0 890.0,284.0" fill="none" stroke="#aeb5b9" stroke-width="1.2" />
</g>
<clipPath id="tc"><polygon points="83.8,380.5 92.0,376.0 100.0,372.5 120.0,365.0 145.0,359.0 170.0,355.0 215.0,349.8 270.0,345.0 320.0,342.3 380.0,341.3 550.0,341.3 640.0,342.5 700.0,344.0 768.0,346.5 806.0,349.5 843.0,355.5 862.0,360.0 880.5,366.0 900.0,373.5 914.0,380.5 900.0,387.5 880.5,395.0 862.0,401.0 843.0,405.5 806.0,411.5 768.0,414.5 700.0,417.0 640.0,418.5 550.0,419.7 380.0,419.7 320.0,418.7 270.0,416.0 215.0,411.2 170.0,406.0 145.0,402.0 120.0,396.0 100.0,388.5 92.0,385.0"/></clipPath>
<line x1="914.0" y1="380.5" x2="933.0" y2="380.5" stroke="#777" stroke-width="0.8" />
<line x1="330.4" y1="357.3" x2="330.4" y2="334.3" stroke="#353e45" stroke-width="1.3" />
<line x1="346.6" y1="357.3" x2="346.6" y2="334.3" stroke="#353e45" stroke-width="1.3" />
<polyline points="731.0,353.5 733.0,342.5 734.5,328.5" fill="none" stroke="#353e45" stroke-width="1.1" />
<polygon points="800.6,348.3 812.5,342.7 817.5,342.7 827.5,352.3" fill="#fff" stroke="#353e45" stroke-width="0.8" />
<line x1="812.5" y1="342.7" x2="809.0" y2="349.5" stroke="#353e45" stroke-width="0.6" />
<line x1="817.5" y1="342.7" x2="819.0" y2="350.5" stroke="#353e45" stroke-width="0.6" />
<polyline points="265.0,341.9 300.0,341.6 326.0,342.1" fill="none" stroke="#353e45" stroke-width="1.2" />
<line x1="330.4" y1="403.7" x2="330.4" y2="426.7" stroke="#353e45" stroke-width="1.3" />
<line x1="346.6" y1="403.7" x2="346.6" y2="426.7" stroke="#353e45" stroke-width="1.3" />
<polyline points="731.0,407.5 733.0,418.5 734.5,432.5" fill="none" stroke="#353e45" stroke-width="1.1" />
<polygon points="800.6,412.7 812.5,418.3 817.5,418.3 827.5,408.7" fill="#fff" stroke="#353e45" stroke-width="0.8" />
<line x1="812.5" y1="418.3" x2="809.0" y2="411.5" stroke="#353e45" stroke-width="0.6" />
<line x1="817.5" y1="418.3" x2="819.0" y2="410.5" stroke="#353e45" stroke-width="0.6" />
<polyline points="265.0,419.1 300.0,419.4 326.0,418.9" fill="none" stroke="#353e45" stroke-width="1.2" />
<rect x="751.3" y="339.4" width="30.0" height="6.5" fill="#5f6b74" stroke="#353e45" stroke-width="0.6" />
<polygon points="83.8,380.5 92.0,376.0 100.0,372.5 120.0,365.0 145.0,359.0 170.0,355.0 215.0,349.8 270.0,345.0 320.0,342.3 380.0,341.3 550.0,341.3 640.0,342.5 700.0,344.0 768.0,346.5 806.0,349.5 843.0,355.5 862.0,360.0 880.5,366.0 900.0,373.5 914.0,380.5 900.0,387.5 880.5,395.0 862.0,401.0 843.0,405.5 806.0,411.5 768.0,414.5 700.0,417.0 640.0,418.5 550.0,419.7 380.0,419.7 320.0,418.7 270.0,416.0 215.0,411.2 170.0,406.0 145.0,402.0 120.0,396.0 100.0,388.5 92.0,385.0" fill="url(#plank)" stroke="#2c343a" stroke-width="1.1" />
<g clip-path="url(#tc)">
<rect x="430.0" y="338.0" width="212.0" height="85.0" fill="url(#plank2)" />
<line x1="650.0" y1="340.0" x2="650.0" y2="421.0" stroke="#a8823f" stroke-width="0.4" />
<line x1="664.0" y1="340.0" x2="664.0" y2="421.0" stroke="#a8823f" stroke-width="0.4" />
<line x1="678.0" y1="340.0" x2="678.0" y2="421.0" stroke="#a8823f" stroke-width="0.4" />
<line x1="692.0" y1="340.0" x2="692.0" y2="421.0" stroke="#a8823f" stroke-width="0.4" />
<line x1="706.0" y1="340.0" x2="706.0" y2="421.0" stroke="#a8823f" stroke-width="0.4" />
<line x1="720.0" y1="340.0" x2="720.0" y2="421.0" stroke="#a8823f" stroke-width="0.4" />
<line x1="734.0" y1="340.0" x2="734.0" y2="421.0" stroke="#a8823f" stroke-width="0.4" />
<line x1="748.0" y1="340.0" x2="748.0" y2="421.0" stroke="#a8823f" stroke-width="0.4" />
<line x1="762.0" y1="340.0" x2="762.0" y2="421.0" stroke="#a8823f" stroke-width="0.4" />
<line x1="776.0" y1="340.0" x2="776.0" y2="421.0" stroke="#a8823f" stroke-width="0.4" />
<line x1="790.0" y1="340.0" x2="790.0" y2="421.0" stroke="#a8823f" stroke-width="0.4" />
<line x1="804.0" y1="340.0" x2="804.0" y2="421.0" stroke="#a8823f" stroke-width="0.4" />
<line x1="818.0" y1="340.0" x2="818.0" y2="421.0" stroke="#a8823f" stroke-width="0.4" />
<line x1="832.0" y1="340.0" x2="832.0" y2="421.0" stroke="#a8823f" stroke-width="0.4" />
<line x1="846.0" y1="340.0" x2="846.0" y2="421.0" stroke="#a8823f" stroke-width="0.4" />
<line x1="860.0" y1="340.0" x2="860.0" y2="421.0" stroke="#a8823f" stroke-width="0.4" />
<line x1="874.0" y1="340.0" x2="874.0" y2="421.0" stroke="#a8823f" stroke-width="0.4" />
<line x1="888.0" y1="340.0" x2="888.0" y2="421.0" stroke="#a8823f" stroke-width="0.4" />
<line x1="222.0" y1="340.0" x2="222.0" y2="421.0" stroke="#a8823f" stroke-width="0.35" />
<line x1="236.0" y1="340.0" x2="236.0" y2="421.0" stroke="#a8823f" stroke-width="0.35" />
<line x1="250.0" y1="340.0" x2="250.0" y2="421.0" stroke="#a8823f" stroke-width="0.35" />
<line x1="264.0" y1="340.0" x2="264.0" y2="421.0" stroke="#a8823f" stroke-width="0.35" />
<line x1="278.0" y1="340.0" x2="278.0" y2="421.0" stroke="#a8823f" stroke-width="0.35" />
<line x1="292.0" y1="340.0" x2="292.0" y2="421.0" stroke="#a8823f" stroke-width="0.35" />
<line x1="306.0" y1="340.0" x2="306.0" y2="421.0" stroke="#a8823f" stroke-width="0.35" />
<line x1="320.0" y1="340.0" x2="320.0" y2="421.0" stroke="#a8823f" stroke-width="0.35" />
<polygon points="80.0,300.0 214.0,300.0 214.0,350.0 199.0,370.0 199.0,391.0 214.0,411.0 214.0,460.0 80.0,460.0" fill="url(#gplank)" />
<polyline points="214.0,349.0 199.0,370.0 199.0,391.0 214.0,412.0" fill="none" stroke="#2f383e" stroke-width="0.8" />
<polyline points="159.0,350.0 150.0,380.5 159.0,411.0" fill="none" stroke="#74808a" stroke-width="0.4" />
<polyline points="163.0,350.0 154.0,380.5 163.0,411.0" fill="none" stroke="#74808a" stroke-width="0.4" />
<polyline points="167.0,350.0 158.0,380.5 167.0,411.0" fill="none" stroke="#74808a" stroke-width="0.4" />
<polyline points="171.0,350.0 162.0,380.5 171.0,411.0" fill="none" stroke="#74808a" stroke-width="0.4" />
<polyline points="175.0,350.0 166.0,380.5 175.0,411.0" fill="none" stroke="#74808a" stroke-width="0.4" />
<polyline points="179.0,350.0 170.0,380.5 179.0,411.0" fill="none" stroke="#74808a" stroke-width="0.4" />
<polyline points="183.0,350.0 174.0,380.5 183.0,411.0" fill="none" stroke="#74808a" stroke-width="0.4" />
<polyline points="187.0,350.0 178.0,380.5 187.0,411.0" fill="none" stroke="#74808a" stroke-width="0.4" />
<polyline points="191.0,350.0 182.0,380.5 191.0,411.0" fill="none" stroke="#74808a" stroke-width="0.4" />
<polyline points="195.0,350.0 186.0,380.5 195.0,411.0" fill="none" stroke="#74808a" stroke-width="0.4" />
<polyline points="199.0,350.0 190.0,380.5 199.0,411.0" fill="none" stroke="#74808a" stroke-width="0.4" />
<polyline points="203.0,350.0 194.0,380.5 203.0,411.0" fill="none" stroke="#74808a" stroke-width="0.4" />
<polyline points="207.0,350.0 198.0,380.5 207.0,411.0" fill="none" stroke="#74808a" stroke-width="0.4" />
<polyline points="211.0,350.0 202.0,380.5 211.0,411.0" fill="none" stroke="#74808a" stroke-width="0.4" />
<rect x="478.4" y="340.0" width="19.4" height="81.0" fill="#525e68" />
<rect x="557.8" y="340.0" width="35.0" height="81.0" fill="#525e68" />
<polygon points="83.8,380.5 92.0,376.0 100.0,372.5 120.0,365.0 145.0,359.0 170.0,355.0 215.0,349.8 270.0,345.0 320.0,342.3 380.0,341.3 550.0,341.3 640.0,342.5 700.0,344.0 768.0,346.5 806.0,349.5 843.0,355.5 862.0,360.0 880.5,366.0 900.0,373.5 914.0,380.5 900.0,387.5 880.5,395.0 862.0,401.0 843.0,405.5 806.0,411.5 768.0,414.5 700.0,417.0 640.0,418.5 550.0,419.7 380.0,419.7 320.0,418.7 270.0,416.0 215.0,411.2 170.0,406.0 145.0,402.0 120.0,396.0 100.0,388.5 92.0,385.0" fill="none" stroke="#3a2c12" stroke-width="6" opacity="0.22"/>
<polygon points="83.8,380.5 92.0,376.0 100.0,372.5 120.0,365.0 145.0,359.0 170.0,355.0 215.0,349.8 270.0,345.0 320.0,342.3 380.0,341.3 550.0,341.3 640.0,342.5 700.0,344.0 768.0,346.5 806.0,349.5 843.0,355.5 862.0,360.0 880.5,366.0 900.0,373.5 914.0,380.5 900.0,387.5 880.5,395.0 862.0,401.0 843.0,405.5 806.0,411.5 768.0,414.5 700.0,417.0 640.0,418.5 550.0,419.7 380.0,419.7 320.0,418.7 270.0,416.0 215.0,411.2 170.0,406.0 145.0,402.0 120.0,396.0 100.0,388.5 92.0,385.0" fill="none" stroke="#3a2c12" stroke-width="3" opacity="0.2"/>
</g>
<polyline points="83.8,380.5 92.0,376.0 100.0,372.5 120.0,365.0 145.0,359.0 170.0,355.0 215.0,349.8 270.0,345.0 320.0,342.3 380.0,341.3 550.0,341.3 640.0,342.5 700.0,344.0 768.0,346.5 806.0,349.5 843.0,355.5 862.0,360.0 880.5,366.0 900.0,373.5 914.0,380.5 900.0,387.5 880.5,395.0 862.0,401.0 843.0,405.5 806.0,411.5 768.0,414.5 700.0,417.0 640.0,418.5 550.0,419.7 380.0,419.7 320.0,418.7 270.0,416.0 215.0,411.2 170.0,406.0 145.0,402.0 120.0,396.0 100.0,388.5 92.0,385.0 83.8,380.5" fill="none" stroke="#262e34" stroke-width="1.5" />
<polygon points="241.5,380.5 242.0,370.0 253.0,358.0 296.0,358.0 304.0,355.8 391.6,355.2 391.6,405.8 304.0,405.2 296.0,403.0 253.0,403.0 242.0,391.0 241.5,380.5" fill="#525e68" stroke="#353f47" stroke-width="0.6" />
<polyline points="285.5,372.5 304.0,356.0" fill="none" stroke="#353f47" stroke-width="0.8" />
<polyline points="285.5,388.5 304.0,405.0" fill="none" stroke="#353f47" stroke-width="0.8" />
<polygon points="391.6,344.4 401.0,344.4 436.0,368.8 436.0,380.5 436.0,380.5 436.0,392.2 401.0,416.6 391.6,416.6" fill="#525e68" stroke="#20272c" stroke-width="0.9" />
<polygon points="412.0,342.0 428.5,342.0 428.5,357.5 423.0,357.5 412.0,350.0 412.0,411.0 423.0,403.5 428.5,403.5 428.5,419.0 412.0,419.0" fill="#525e68" stroke="#20272c" stroke-width="0.7" />
<rect x="433.0" y="364.0" width="45.0" height="33.0" fill="#525e68" stroke="#353f47" stroke-width="0.5" />
<ellipse cx="420.0" cy="347.0" rx="3.6" ry="3.6" fill="#c9cfd1" stroke="#20272c" stroke-width="0.8"/>
<rect x="367.0" y="350.1" width="11.5" height="3.2" fill="#161b1e" />
<rect x="332.0" y="407.0" width="13.0" height="3.6" fill="#161b1e" />
<rect x="291.8" y="352.6" width="12.0" height="3.0" fill="#161b1e" />
<rect x="260.0" y="403.7" width="12.0" height="3.6" fill="#161b1e" />
<rect x="352.0" y="343.0" width="11.5" height="4.0" fill="#9fb6c6" stroke="#4d6a80" stroke-width="0.5" />
<rect x="333.5" y="375.7" width="17.5" height="2.2" fill="#2f383e" />
<rect x="331.0" y="374.8" width="4.0" height="4.0" fill="#353e45" />
<ellipse cx="258.0" cy="363.0" rx="1.2" ry="1.2" fill="#c9cfd1"/>
<ellipse cx="268.0" cy="363.0" rx="1.2" ry="1.2" fill="#c9cfd1"/>
<ellipse cx="278.0" cy="363.0" rx="1.2" ry="1.2" fill="#c9cfd1"/>
<rect x="312.0" y="361.0" width="4.0" height="3.0" fill="#454f57" stroke="#2a3237" stroke-width="0.4" />
<rect x="319.0" y="365.0" width="4.0" height="3.0" fill="#454f57" stroke="#2a3237" stroke-width="0.4" />
<rect x="319.0" y="357.0" width="4.0" height="3.0" fill="#454f57" stroke="#2a3237" stroke-width="0.4" />
<rect x="326.0" y="370.0" width="4.0" height="3.0" fill="#454f57" stroke="#2a3237" stroke-width="0.4" />
<ellipse cx="372.0" cy="366.5" rx="2.0" ry="2.0" fill="#454f57" stroke="#2a3237" stroke-width="0.5"/>
<ellipse cx="384.0" cy="366.5" rx="2.0" ry="2.0" fill="#454f57" stroke="#2a3237" stroke-width="0.5"/>
<polygon points="423.0,359.0 429.5,363.5 428.5,365.0 422.0,360.5" fill="#e4e8e8" />
<rect x="434.5" y="365.5" width="2.0" height="7.0" fill="#dfe4e4" />
<ellipse cx="420.0" cy="414.0" rx="3.6" ry="3.6" fill="#c9cfd1" stroke="#20272c" stroke-width="0.8"/>
<rect x="367.0" y="407.7" width="11.5" height="3.2" fill="#161b1e" />
<rect x="332.0" y="350.4" width="13.0" height="3.6" fill="#161b1e" />
<rect x="291.8" y="405.4" width="12.0" height="3.0" fill="#161b1e" />
<rect x="260.0" y="353.7" width="12.0" height="3.6" fill="#161b1e" />
<rect x="352.0" y="414.0" width="11.5" height="4.0" fill="#9fb6c6" stroke="#4d6a80" stroke-width="0.5" />
<rect x="333.5" y="383.1" width="17.5" height="2.2" fill="#2f383e" />
<rect x="331.0" y="382.2" width="4.0" height="4.0" fill="#353e45" />
<ellipse cx="258.0" cy="398.0" rx="1.2" ry="1.2" fill="#c9cfd1"/>
<ellipse cx="268.0" cy="398.0" rx="1.2" ry="1.2" fill="#c9cfd1"/>
<ellipse cx="278.0" cy="398.0" rx="1.2" ry="1.2" fill="#c9cfd1"/>
<rect x="312.0" y="397.0" width="4.0" height="3.0" fill="#454f57" stroke="#2a3237" stroke-width="0.4" />
<rect x="319.0" y="393.0" width="4.0" height="3.0" fill="#454f57" stroke="#2a3237" stroke-width="0.4" />
<rect x="319.0" y="401.0" width="4.0" height="3.0" fill="#454f57" stroke="#2a3237" stroke-width="0.4" />
<rect x="326.0" y="388.0" width="4.0" height="3.0" fill="#454f57" stroke="#2a3237" stroke-width="0.4" />
<ellipse cx="372.0" cy="394.5" rx="2.0" ry="2.0" fill="#454f57" stroke="#2a3237" stroke-width="0.5"/>
<ellipse cx="384.0" cy="394.5" rx="2.0" ry="2.0" fill="#454f57" stroke="#2a3237" stroke-width="0.5"/>
<polygon points="423.0,402.0 429.5,397.5 428.5,396.0 422.0,400.5" fill="#e4e8e8" />
<rect x="434.5" y="388.5" width="2.0" height="7.0" fill="#dfe4e4" />
<polygon points="354.0,380.5 354.0,364.4 374.0,364.4 374.0,362.0 404.0,362.0 404.0,358.2 412.0,358.2 418.5,363.8 418.5,371.0 418.5,390.0 418.5,397.2 412.0,402.8 404.0,402.8 404.0,399.0 374.0,399.0 374.0,396.6 354.0,396.6 354.0,380.5" fill="none" stroke="#b4bdc2" stroke-width="1.1" />
<polygon points="354.0,380.5 354.0,364.4 374.0,364.4 374.0,362.0 404.0,362.0 404.0,358.2 412.0,358.2 418.5,363.8 418.5,371.0 418.5,390.0 418.5,397.2 412.0,402.8 404.0,402.8 404.0,399.0 374.0,399.0 374.0,396.6 354.0,396.6 354.0,380.5" fill="none" stroke="#2a3237" stroke-width="0.35" />
<ellipse cx="362.0" cy="380.5" rx="2.4" ry="2.4" fill="none" stroke="#2a3237" stroke-width="0.6"/>
<ellipse cx="372.0" cy="380.5" rx="2.4" ry="2.4" fill="none" stroke="#2a3237" stroke-width="0.6"/>
<path d="M386,371.5 L395,371.5 Q404.5,372.5 404.5,380.5 Q404.5,388.5 395,389.5 L386,389.5 Z" fill="#8ea4b1" stroke="#20272c" stroke-width="0.8"/>
<rect x="386.6" y="373.5" width="8.0" height="14.0" fill="#b7c8d2" />
<line x1="395.0" y1="371.5" x2="395.0" y2="389.5" stroke="#20272c" stroke-width="0.6" />
<ellipse cx="418.0" cy="380.6" rx="7.8" ry="7.8" fill="#cdd2cf" stroke="#2a3237" stroke-width="0.7"/>
<ellipse cx="416.0" cy="378.5" rx="3.5" ry="3.5" fill="#e6e9e6"/>
<path d="M431.0,348.5 Q431.0,341.9 439.0,341.7 L461.0,341.9 Q470.0,343.0 475.0,348.5 Q470.0,354.0 461.0,355.1 L439.0,355.3 Q431.0,355.1 431.0,348.5 Z" fill="#e9ecec" stroke="#20272c" stroke-width="0.9"/>
<path d="M433.0,343.6 L460.0,343.6 Q467.0,344.5 470.5,348.5 Q467.0,352.5 460.0,353.4 L433.0,353.4 Z" fill="#8c5a1b" stroke="#3e4850" stroke-width="0.6"/>
<rect x="437.0" y="343.6" width="1.7" height="9.8" fill="#e9ecec" />
<rect x="442.6" y="343.6" width="1.7" height="9.8" fill="#e9ecec" />
<rect x="448.2" y="343.6" width="1.7" height="9.8" fill="#e9ecec" />
<rect x="453.8" y="343.6" width="1.7" height="9.8" fill="#e9ecec" />
<line x1="433.0" y1="348.5" x2="469.0" y2="348.5" stroke="#c9cfd1" stroke-width="0.5" />
<path d="M431.0,412.5 Q431.0,405.9 439.0,405.7 L461.0,405.9 Q470.0,407.0 475.0,412.5 Q470.0,418.0 461.0,419.1 L439.0,419.3 Q431.0,419.1 431.0,412.5 Z" fill="#e9ecec" stroke="#20272c" stroke-width="0.9"/>
<path d="M433.0,407.6 L460.0,407.6 Q467.0,408.5 470.5,412.5 Q467.0,416.5 460.0,417.4 L433.0,417.4 Z" fill="#8c5a1b" stroke="#3e4850" stroke-width="0.6"/>
<rect x="437.0" y="407.6" width="1.7" height="9.8" fill="#e9ecec" />
<rect x="442.6" y="407.6" width="1.7" height="9.8" fill="#e9ecec" />
<rect x="448.2" y="407.6" width="1.7" height="9.8" fill="#e9ecec" />
<rect x="453.8" y="407.6" width="1.7" height="9.8" fill="#e9ecec" />
<line x1="433.0" y1="412.5" x2="469.0" y2="412.5" stroke="#c9cfd1" stroke-width="0.5" />
<path d="M504.6,349.0 Q504.6,342.4 512.6,342.2 L540.5,342.4 Q549.5,343.5 554.5,349.0 Q549.5,354.5 540.5,355.6 L512.6,355.8 Q504.6,355.6 504.6,349.0 Z" fill="#e9ecec" stroke="#20272c" stroke-width="0.9"/>
<path d="M506.6,344.0 L539.5,344.0 Q546.5,344.8 550.5,349.0 Q546.5,353.2 539.5,354.0 L506.6,354.0 Z" fill="#c9cfd1" stroke="#59656e" stroke-width="0.5"/>
<rect x="524.6" y="345.6" width="12.5" height="6.8" fill="#8c5a1b" stroke="#20272c" stroke-width="0.5" />
<rect x="512.6" y="345.2" width="11.0" height="7.6" fill="#fff" stroke="#59656e" stroke-width="0.6" />
<rect x="538.1" y="345.4" width="9.0" height="7.2" fill="#e9ecec" stroke="#59656e" stroke-width="0.5" />
<line x1="543.6" y1="345.4" x2="543.6" y2="352.6" stroke="#59656e" stroke-width="0.6" />
<path d="M502.8,412.0 Q502.8,405.4 510.8,405.2 L540.5,405.4 Q549.5,406.5 554.5,412.0 Q549.5,417.5 540.5,418.6 L510.8,418.8 Q502.8,418.6 502.8,412.0 Z" fill="#e9ecec" stroke="#20272c" stroke-width="0.9"/>
<path d="M504.8,407.1 L539.5,407.1 Q546.5,408.0 550.0,412.0 Q546.5,416.0 539.5,416.9 L504.8,416.9 Z" fill="#8c5a1b" stroke="#3e4850" stroke-width="0.6"/>
<rect x="508.8" y="407.1" width="1.7" height="9.8" fill="#e9ecec" />
<rect x="514.4" y="407.1" width="1.7" height="9.8" fill="#e9ecec" />
<rect x="520.0" y="407.1" width="1.7" height="9.8" fill="#e9ecec" />
<rect x="525.6" y="407.1" width="1.7" height="9.8" fill="#e9ecec" />
<rect x="531.2" y="407.1" width="1.7" height="9.8" fill="#e9ecec" />
<line x1="504.8" y1="412.0" x2="548.5" y2="412.0" stroke="#c9cfd1" stroke-width="0.5" />
<polyline points="454.0,362.0 454.0,399.0" fill="none" stroke="#2a3237" stroke-width="0.8" />
<polyline points="444.0,366.0 470.0,395.0" fill="none" stroke="#2a3237" stroke-width="0.8" />
<polyline points="444.0,395.0 470.0,366.0" fill="none" stroke="#2a3237" stroke-width="0.8" />
<polyline points="438.0,374.0 468.0,380.0" fill="none" stroke="#2a3237" stroke-width="0.8" />
<polyline points="438.0,387.0 468.0,381.0" fill="none" stroke="#2a3237" stroke-width="0.8" />
<rect x="436.0" y="376.5" width="10.0" height="8.0" fill="#4a555d" />
<rect x="478.4" y="341.0" width="19.4" height="17.8" fill="#525e68" stroke="#20272c" stroke-width="0.7" />
<ellipse cx="487.0" cy="348.0" rx="4.6" ry="4.6" fill="#4a555d" stroke="#20272c" stroke-width="0.8"/>
<ellipse cx="487.0" cy="348.0" rx="2.2" ry="2.2" fill="#c9cfd1"/>
<rect x="484.0" y="358.5" width="7.0" height="13.0" fill="#525e68" stroke="#353f47" stroke-width="0.4" />
<polygon points="484.0,373.5 489.5,368.0 489.5,373.5" fill="#dfe4e4" />
<rect x="478.4" y="402.2" width="19.4" height="17.8" fill="#525e68" stroke="#20272c" stroke-width="0.7" />
<ellipse cx="487.0" cy="413.0" rx="4.6" ry="4.6" fill="#4a555d" stroke="#20272c" stroke-width="0.8"/>
<ellipse cx="487.0" cy="413.0" rx="2.2" ry="2.2" fill="#c9cfd1"/>
<rect x="484.0" y="389.5" width="7.0" height="13.0" fill="#525e68" stroke="#353f47" stroke-width="0.4" />
<polygon points="484.0,387.5 489.5,393.0 489.5,387.5" fill="#dfe4e4" />
<path d="M469,380.8 Q469,373.6 480,373.6 Q489,374 495,380.8 Q489,387.6 480,388 Q469,388 469,380.8 Z" fill="#20272c" stroke="#0f1315" stroke-width="1"/>
<path d="M472,380.8 Q472,376 480,376 Q487,376.4 491.5,380.8 Q487,385.2 480,385.6 Q472,385.6 472,380.8 Z" fill="#3b444b" stroke="#76828a" stroke-width="0.6"/>
<line x1="476.0" y1="376.3" x2="476.0" y2="385.3" stroke="#15191c" stroke-width="1.0" />
<line x1="480.0" y1="376.3" x2="480.0" y2="385.3" stroke="#15191c" stroke-width="1.0" />
<line x1="484.0" y1="376.3" x2="484.0" y2="385.3" stroke="#15191c" stroke-width="1.0" />
<rect x="495.0" y="377.5" width="8.0" height="6.5" fill="#525e68" />
<rect x="502.0" y="365.6" width="55.3" height="30.0" fill="#5f6c77" stroke="#353f47" stroke-width="0.7" />
<ellipse cx="516.5" cy="371.6" rx="7.2" ry="4.3" fill="#c9cfd1" stroke="#1d2327" stroke-width="1.0"/>
<ellipse cx="516.5" cy="371.6" rx="5.2" ry="2.3" fill="#59656e" stroke="#1d2327" stroke-width="0.5"/>
<ellipse cx="516.5" cy="389.8" rx="7.2" ry="4.3" fill="#c9cfd1" stroke="#1d2327" stroke-width="1.0"/>
<ellipse cx="516.5" cy="389.8" rx="5.2" ry="2.3" fill="#59656e" stroke="#1d2327" stroke-width="0.5"/>
<rect x="524.5" y="378.6" width="10.5" height="2.8" fill="#20272c" />
<rect x="528.3" y="380.0" width="3.2" height="7.0" fill="#20272c" />
<rect x="511.0" y="376.0" width="3.6" height="6.0" fill="#c9cfd1" stroke="#2a3237" stroke-width="0.4" />
<rect x="496.5" y="372.0" width="6.0" height="6.0" fill="#76828a" stroke="#2a3237" stroke-width="0.4" />
<path d="M546.5,369.0 a3.6,3.6 0 0 1 7.2,0 Z" fill="#dfe4e4" stroke="#2a3237" stroke-width="0.5" transform="rotate(0 550 367.5)"/>
<path d="M546.5,395.3 a3.6,3.6 0 0 1 7.2,0 Z" fill="#dfe4e4" stroke="#2a3237" stroke-width="0.5" transform="rotate(0 550 393.8)"/>
<polygon points="563.0,343.0 575.0,342.0 582.0,346.0 590.0,347.0 590.0,357.0 582.0,358.0 575.0,362.0 563.0,361.0" fill="#76838b" stroke="#2a3237" stroke-width="0.6" />
<rect x="563.5" y="345.5" width="17.0" height="13.0" fill="#d7dcdd" stroke="#2a3237" stroke-width="0.5" />
<line x1="563.0" y1="350.0" x2="585.0" y2="350.0" stroke="#2a3237" stroke-width="0.9" />
<line x1="563.0" y1="354.0" x2="585.0" y2="354.0" stroke="#2a3237" stroke-width="0.9" />
<rect x="571.0" y="345.0" width="3.0" height="14.0" fill="#2a3237" />
<polygon points="588.0,358.5 594.0,354.5 597.0,358.0 591.0,362.0" fill="#e4e8e8" stroke="#2a3237" stroke-width="0.4" />
<rect x="595.8" y="342.5" width="42.0" height="12.0" fill="#2f383e" />
<rect x="596.5" y="343.4" width="40.5" height="2.4" fill="#7b8890" />
<line x1="596.5" y1="344.0" x2="637.0" y2="344.0" stroke="#b9c3c8" stroke-width="0.6" />
<rect x="596.5" y="347.3" width="40.5" height="2.4" fill="#7b8890" />
<line x1="596.5" y1="347.9" x2="637.0" y2="347.9" stroke="#b9c3c8" stroke-width="0.6" />
<rect x="596.5" y="351.2" width="40.5" height="2.4" fill="#7b8890" />
<line x1="596.5" y1="351.8" x2="637.0" y2="351.8" stroke="#b9c3c8" stroke-width="0.6" />
<rect x="612.5" y="342.0" width="2.4" height="13.0" fill="#c9cfd1" stroke="#2a3237" stroke-width="0.3" />
<polygon points="563.0,400.0 575.0,399.0 582.0,403.0 590.0,404.0 590.0,414.0 582.0,415.0 575.0,419.0 563.0,418.0" fill="#76838b" stroke="#2a3237" stroke-width="0.6" />
<rect x="563.5" y="402.5" width="17.0" height="13.0" fill="#d7dcdd" stroke="#2a3237" stroke-width="0.5" />
<line x1="563.0" y1="407.0" x2="585.0" y2="407.0" stroke="#2a3237" stroke-width="0.9" />
<line x1="563.0" y1="411.0" x2="585.0" y2="411.0" stroke="#2a3237" stroke-width="0.9" />
<rect x="571.0" y="402.0" width="3.0" height="14.0" fill="#2a3237" />
<polygon points="588.0,402.5 594.0,406.5 597.0,403.0 591.0,399.0" fill="#e4e8e8" stroke="#2a3237" stroke-width="0.4" />
<rect x="595.8" y="406.5" width="42.0" height="12.0" fill="#2f383e" />
<rect x="596.5" y="407.4" width="40.5" height="2.4" fill="#7b8890" />
<line x1="596.5" y1="408.0" x2="637.0" y2="408.0" stroke="#b9c3c8" stroke-width="0.6" />
<rect x="596.5" y="411.3" width="40.5" height="2.4" fill="#7b8890" />
<line x1="596.5" y1="411.9" x2="637.0" y2="411.9" stroke="#b9c3c8" stroke-width="0.6" />
<rect x="596.5" y="415.2" width="40.5" height="2.4" fill="#7b8890" />
<line x1="596.5" y1="415.8" x2="637.0" y2="415.8" stroke="#b9c3c8" stroke-width="0.6" />
<rect x="612.5" y="406.0" width="2.4" height="13.0" fill="#c9cfd1" stroke="#2a3237" stroke-width="0.3" />
<rect x="559.6" y="368.0" width="22.5" height="24.5" fill="#66737c" stroke="#353f47" stroke-width="0.6" />
<ellipse cx="572.0" cy="380.6" rx="3.8" ry="6.8" fill="#c9cfd1" stroke="#1d2327" stroke-width="1.0"/>
<ellipse cx="572.0" cy="380.6" rx="1.8" ry="4.8" fill="#59656e" stroke="#1d2327" stroke-width="0.5"/>
<rect x="561.5" y="378.0" width="4.5" height="5.0" fill="#e4e8e8" stroke="#2a3237" stroke-width="0.3" />
<rect x="587.0" y="364.4" width="22.0" height="33.6" fill="#66737c" stroke="#353f47" stroke-width="0.6" />
<path d="M609,362 L617,362 Q623,363 623,369 L623,392 Q623,398 617,399.5 L609,400 Z" fill="#4f5a63" stroke="#20272c" stroke-width="0.6"/>
<ellipse cx="616.4" cy="368.8" rx="3.0" ry="3.0" fill="#dfe4e4" stroke="#20272c" stroke-width="0.6"/>
<ellipse cx="616.4" cy="392.5" rx="3.0" ry="3.0" fill="#dfe4e4" stroke="#20272c" stroke-width="0.6"/>
<path d="M591,380.6 Q591,372 603,372 Q614,372.6 621,380.6 Q614,388.6 603,389.2 Q591,389.2 591,380.6 Z" fill="#20272c" stroke="#0f1315" stroke-width="1"/>
<path d="M594,380.6 Q594,374.6 603,374.6 Q611,375 616.5,380.6 Q611,386.2 603,386.6 Q594,386.6 594,380.6 Z" fill="#3b444b" stroke="#76828a" stroke-width="0.6"/>
<line x1="598.0" y1="375.0" x2="598.0" y2="386.2" stroke="#15191c" stroke-width="1.0" />
<line x1="602.5" y1="375.0" x2="602.5" y2="386.2" stroke="#15191c" stroke-width="1.0" />
<line x1="607.0" y1="375.0" x2="607.0" y2="386.2" stroke="#15191c" stroke-width="1.0" />
<polygon points="627.6,380.5 627.6,365.6 645.0,350.8 722.5,351.0 743.0,369.5 743.0,391.5 722.5,410.0 645.0,410.2 627.6,395.4 627.6,380.5" fill="#525e68" stroke="#353f47" stroke-width="0.7" />
<polyline points="624.0,375.0 660.0,386.0" fill="none" stroke="#2a3237" stroke-width="0.8" />
<polyline points="624.0,386.0 660.0,375.0" fill="none" stroke="#2a3237" stroke-width="0.8" />
<polygon points="659.5,375.0 668.0,373.8 674.5,380.6 668.0,387.4 659.5,386.2" fill="#d9dddb" stroke="#2a3237" stroke-width="0.6" />
<line x1="664.0" y1="380.6" x2="672.0" y2="380.6" stroke="#59656e" stroke-width="0.8" />
<ellipse cx="655.8" cy="372.0" rx="6.8" ry="4.2" fill="#c9cfd1" stroke="#1d2327" stroke-width="1.0"/>
<ellipse cx="655.8" cy="372.0" rx="4.8" ry="2.2" fill="#59656e" stroke="#1d2327" stroke-width="0.5"/>
<ellipse cx="690.0" cy="372.2" rx="6.8" ry="4.2" fill="#c9cfd1" stroke="#1d2327" stroke-width="1.0"/>
<ellipse cx="690.0" cy="372.2" rx="4.8" ry="2.2" fill="#59656e" stroke="#1d2327" stroke-width="0.5"/>
<ellipse cx="655.8" cy="389.2" rx="6.8" ry="4.2" fill="#c9cfd1" stroke="#1d2327" stroke-width="1.0"/>
<ellipse cx="655.8" cy="389.2" rx="4.8" ry="2.2" fill="#59656e" stroke="#1d2327" stroke-width="0.5"/>
<ellipse cx="690.0" cy="389.4" rx="6.8" ry="4.2" fill="#c9cfd1" stroke="#1d2327" stroke-width="1.0"/>
<ellipse cx="690.0" cy="389.4" rx="4.8" ry="2.2" fill="#59656e" stroke="#1d2327" stroke-width="0.5"/>
<rect x="659.5" y="358.0" width="5.0" height="8.0" fill="#b9c9d3" stroke="#2a3237" stroke-width="0.4" />
<ellipse cx="641.0" cy="372.0" rx="2.6" ry="2.6" fill="#dfe4e4" stroke="#2a3237" stroke-width="0.5"/>
<rect x="646.0" y="359.2" width="3.0" height="2.6" fill="#c9cfd1" stroke="#2a3237" stroke-width="0.3" />
<rect x="651.0" y="363.2" width="3.0" height="2.6" fill="#c9cfd1" stroke="#2a3237" stroke-width="0.3" />
<rect x="655.0" y="358.2" width="3.0" height="2.6" fill="#c9cfd1" stroke="#2a3237" stroke-width="0.3" />
<rect x="650.0" y="355.2" width="3.0" height="2.6" fill="#c9cfd1" stroke="#2a3237" stroke-width="0.3" />
<line x1="686.0" y1="354.0" x2="722.0" y2="354.0" stroke="#3e4850" stroke-width="1.2" />
<rect x="697.0" y="364.5" width="2.6" height="10.0" fill="#3e4850" />
<rect x="707.0" y="364.5" width="2.6" height="10.0" fill="#3e4850" />
<rect x="716.0" y="364.5" width="2.6" height="10.0" fill="#3e4850" />
<rect x="722.0" y="357.5" width="3.0" height="6.0" fill="#3e4850" />
<polygon points="731.5,353.7 735.0,351.5 741.0,358.5 737.5,360.7" fill="#e4e8e8" stroke="#20272c" stroke-width="0.8" />
<rect x="689.0" y="342.6" width="8.0" height="2.8" fill="#9fb6c6" stroke="#4d6a80" stroke-width="0.4" />
<rect x="573.0" y="341.3" width="5.0" height="2.4" fill="#9fb6c6" stroke="#4d6a80" stroke-width="0.4" />
<rect x="659.5" y="395.0" width="5.0" height="8.0" fill="#b9c9d3" stroke="#2a3237" stroke-width="0.4" />
<ellipse cx="641.0" cy="389.0" rx="2.6" ry="2.6" fill="#dfe4e4" stroke="#2a3237" stroke-width="0.5"/>
<rect x="646.0" y="399.2" width="3.0" height="2.6" fill="#c9cfd1" stroke="#2a3237" stroke-width="0.3" />
<rect x="651.0" y="395.2" width="3.0" height="2.6" fill="#c9cfd1" stroke="#2a3237" stroke-width="0.3" />
<rect x="655.0" y="400.2" width="3.0" height="2.6" fill="#c9cfd1" stroke="#2a3237" stroke-width="0.3" />
<rect x="650.0" y="403.2" width="3.0" height="2.6" fill="#c9cfd1" stroke="#2a3237" stroke-width="0.3" />
<line x1="686.0" y1="407.0" x2="722.0" y2="407.0" stroke="#3e4850" stroke-width="1.2" />
<rect x="697.0" y="386.5" width="2.6" height="10.0" fill="#3e4850" />
<rect x="707.0" y="386.5" width="2.6" height="10.0" fill="#3e4850" />
<rect x="716.0" y="386.5" width="2.6" height="10.0" fill="#3e4850" />
<rect x="722.0" y="397.5" width="3.0" height="6.0" fill="#3e4850" />
<polygon points="731.5,407.3 735.0,409.5 741.0,402.5 737.5,400.3" fill="#e4e8e8" stroke="#20272c" stroke-width="0.8" />
<rect x="689.0" y="415.6" width="8.0" height="2.8" fill="#9fb6c6" stroke="#4d6a80" stroke-width="0.4" />
<rect x="573.0" y="417.3" width="5.0" height="2.4" fill="#9fb6c6" stroke="#4d6a80" stroke-width="0.4" />
<rect x="236.0" y="377.5" width="10.0" height="6.0" fill="#6d7982" stroke="#2a3237" stroke-width="0.4" />
<rect x="282.0" y="376.0" width="8.0" height="9.0" fill="#15191c" />
<rect x="183.5" y="373.3" width="34.0" height="2.4" fill="#2f383e" />
<rect x="183.5" y="385.3" width="34.0" height="2.4" fill="#2f383e" />
<ellipse cx="220.5" cy="380.5" rx="12.4" ry="12.4" fill="#4a555d" stroke="#20272c" stroke-width="0.9"/>
<ellipse cx="220.5" cy="380.5" rx="10.2" ry="10.2" fill="#7b919f" stroke="#2f383e" stroke-width="0.5"/>
<polygon points="222.5,371.0 231.0,375.5 231.0,385.5 222.5,390.0" fill="#59656e" />
<rect x="207.5" y="375.0" width="14.0" height="11.0" fill="#a8bcc7" stroke="#2f383e" stroke-width="0.5" />
<rect x="206.5" y="372.7" width="12.0" height="3.6" fill="#353e45" />
<ellipse cx="224.5" cy="374.0" rx="1.2" ry="1.2" fill="#c9cfd1"/>
<rect x="206.5" y="384.7" width="12.0" height="3.6" fill="#353e45" />
<ellipse cx="224.5" cy="387.0" rx="1.2" ry="1.2" fill="#c9cfd1"/>
<rect x="227.3" y="373.3" width="34.0" height="2.4" fill="#2f383e" />
<rect x="227.3" y="385.3" width="34.0" height="2.4" fill="#2f383e" />
<ellipse cx="264.3" cy="380.5" rx="12.4" ry="12.4" fill="#4a555d" stroke="#20272c" stroke-width="0.9"/>
<ellipse cx="264.3" cy="380.5" rx="10.2" ry="10.2" fill="#7b919f" stroke="#2f383e" stroke-width="0.5"/>
<polygon points="266.3,371.0 274.8,375.5 274.8,385.5 266.3,390.0" fill="#59656e" />
<rect x="251.3" y="375.0" width="14.0" height="11.0" fill="#a8bcc7" stroke="#2f383e" stroke-width="0.5" />
<rect x="250.3" y="372.7" width="12.0" height="3.6" fill="#353e45" />
<ellipse cx="268.3" cy="374.0" rx="1.2" ry="1.2" fill="#c9cfd1"/>
<rect x="250.3" y="384.7" width="12.0" height="3.6" fill="#353e45" />
<ellipse cx="268.3" cy="387.0" rx="1.2" ry="1.2" fill="#c9cfd1"/>
<rect x="272.0" y="373.3" width="34.0" height="2.4" fill="#2f383e" />
<rect x="272.0" y="385.3" width="34.0" height="2.4" fill="#2f383e" />
<ellipse cx="309.0" cy="380.5" rx="12.4" ry="12.4" fill="#4a555d" stroke="#20272c" stroke-width="0.9"/>
<ellipse cx="309.0" cy="380.5" rx="10.2" ry="10.2" fill="#7b919f" stroke="#2f383e" stroke-width="0.5"/>
<polygon points="311.0,371.0 319.5,375.5 319.5,385.5 311.0,390.0" fill="#59656e" />
<rect x="296.0" y="375.0" width="14.0" height="11.0" fill="#a8bcc7" stroke="#2f383e" stroke-width="0.5" />
<rect x="295.0" y="372.7" width="12.0" height="3.6" fill="#353e45" />
<ellipse cx="313.0" cy="374.0" rx="1.2" ry="1.2" fill="#c9cfd1"/>
<rect x="295.0" y="384.7" width="12.0" height="3.6" fill="#353e45" />
<ellipse cx="313.0" cy="387.0" rx="1.2" ry="1.2" fill="#c9cfd1"/>
<rect x="733.6" y="373.3" width="34.0" height="2.4" fill="#2f383e" />
<rect x="733.6" y="385.3" width="34.0" height="2.4" fill="#2f383e" />
<ellipse cx="730.6" cy="380.5" rx="14.2" ry="14.2" fill="#4a555d" stroke="#20272c" stroke-width="0.9"/>
<ellipse cx="730.6" cy="380.5" rx="12.0" ry="12.0" fill="#7b919f" stroke="#2f383e" stroke-width="0.5"/>
<polygon points="728.6,371.0 720.1,375.5 720.1,385.5 728.6,390.0" fill="#59656e" />
<rect x="729.6" y="375.0" width="14.0" height="11.0" fill="#a8bcc7" stroke="#2f383e" stroke-width="0.5" />
<rect x="732.6" y="372.7" width="12.0" height="3.6" fill="#353e45" />
<ellipse cx="726.6" cy="374.0" rx="1.2" ry="1.2" fill="#c9cfd1"/>
<rect x="732.6" y="384.7" width="12.0" height="3.6" fill="#353e45" />
<ellipse cx="726.6" cy="387.0" rx="1.2" ry="1.2" fill="#c9cfd1"/>
<rect x="747.0" y="371.5" width="8.0" height="7.0" fill="#59656e" stroke="#2a3237" stroke-width="0.5" />
<rect x="774.3" y="373.3" width="34.0" height="2.4" fill="#2f383e" />
<rect x="774.3" y="385.3" width="34.0" height="2.4" fill="#2f383e" />
<ellipse cx="771.3" cy="380.5" rx="13.8" ry="13.8" fill="#4a555d" stroke="#20272c" stroke-width="0.9"/>
<ellipse cx="771.3" cy="380.5" rx="11.6" ry="11.6" fill="#7b919f" stroke="#2f383e" stroke-width="0.5"/>
<polygon points="769.3,371.0 760.8,375.5 760.8,385.5 769.3,390.0" fill="#59656e" />
<rect x="770.3" y="375.0" width="14.0" height="11.0" fill="#a8bcc7" stroke="#2f383e" stroke-width="0.5" />
<rect x="773.3" y="372.7" width="12.0" height="3.6" fill="#353e45" />
<ellipse cx="767.3" cy="374.0" rx="1.2" ry="1.2" fill="#c9cfd1"/>
<rect x="773.3" y="384.7" width="12.0" height="3.6" fill="#353e45" />
<ellipse cx="767.3" cy="387.0" rx="1.2" ry="1.2" fill="#c9cfd1"/>
<ellipse cx="117.0" cy="374.2" rx="3.6" ry="2.7" fill="#101416"/>
<ellipse cx="146.0" cy="375.7" rx="2.1" ry="2.1" fill="#c9cfd1" stroke="#39434a" stroke-width="0.4"/>
<line x1="122.0" y1="374.5" x2="182.0" y2="374.1" stroke="#78848c" stroke-width="0.6" />
<ellipse cx="141.0" cy="368.5" rx="0.9" ry="0.9" fill="#c9cfd1"/>
<ellipse cx="150.0" cy="367.4" rx="0.9" ry="0.9" fill="#c9cfd1"/>
<ellipse cx="158.0" cy="366.5" rx="0.9" ry="0.9" fill="#c9cfd1"/>
<ellipse cx="165.0" cy="374.0" rx="1.8" ry="1.8" fill="#8d999f" stroke="#2a3237" stroke-width="0.4"/>
<polygon points="100.0,372.0 103.0,368.5 105.0,371.0" fill="#c9cfd1" stroke="#2a3237" stroke-width="0.4" />
<ellipse cx="117.0" cy="386.8" rx="3.6" ry="2.7" fill="#101416"/>
<ellipse cx="146.0" cy="385.3" rx="2.1" ry="2.1" fill="#c9cfd1" stroke="#39434a" stroke-width="0.4"/>
<line x1="122.0" y1="386.5" x2="182.0" y2="386.9" stroke="#78848c" stroke-width="0.6" />
<ellipse cx="141.0" cy="392.5" rx="0.9" ry="0.9" fill="#c9cfd1"/>
<ellipse cx="150.0" cy="393.6" rx="0.9" ry="0.9" fill="#c9cfd1"/>
<ellipse cx="158.0" cy="394.5" rx="0.9" ry="0.9" fill="#c9cfd1"/>
<ellipse cx="165.0" cy="387.0" rx="1.8" ry="1.8" fill="#8d999f" stroke="#2a3237" stroke-width="0.4"/>
<polygon points="100.0,389.0 103.0,392.5 105.0,390.0" fill="#c9cfd1" stroke="#2a3237" stroke-width="0.4" />
<ellipse cx="155.5" cy="380.5" rx="3.2" ry="3.2" fill="#d7dcdd" stroke="#39434a" stroke-width="0.5"/>
<rect x="803.5" y="375.5" width="5.2" height="10.0" fill="#76838b" stroke="#2a3237" stroke-width="0.5" />
<rect x="819.0" y="378.6" width="6.0" height="3.8" fill="#3e4850" stroke="#20272c" stroke-width="0.4" />
<ellipse cx="847.5" cy="381.0" rx="3.0" ry="3.0" fill="#5a6670" stroke="#3e4850" stroke-width="0.5"/>
<rect x="878.0" y="376.0" width="5.0" height="9.5" fill="#59656e" stroke="#2a3237" stroke-width="0.4" />
<rect x="885.0" y="375.8" width="2.1" height="9.6" fill="#eef1f1" stroke="#59656e" stroke-width="0.3" />
<rect x="887.9" y="376.8" width="2.1" height="7.7" fill="#eef1f1" stroke="#59656e" stroke-width="0.3" />
<rect x="890.8" y="377.8" width="2.1" height="5.8" fill="#eef1f1" stroke="#59656e" stroke-width="0.3" />
<rect x="893.7" y="378.8" width="2.1" height="3.9" fill="#eef1f1" stroke="#59656e" stroke-width="0.3" />
<ellipse cx="906.0" cy="378.3" rx="1.3" ry="1.3" fill="#eef1f1" stroke="#2a3237" stroke-width="0.3"/>
<rect x="846.0" y="353.0" width="8.0" height="3.0" fill="#9fb6c6" stroke="#4d6a80" stroke-width="0.4" />
<ellipse cx="760.0" cy="349.5" rx="0.9" ry="0.9" fill="#6b7c8a"/>
<ellipse cx="790.0" cy="351.0" rx="0.9" ry="0.9" fill="#6b7c8a"/>
<ellipse cx="830.0" cy="356.5" rx="0.9" ry="0.9" fill="#6b7c8a"/>
<ellipse cx="870.0" cy="367.5" rx="0.9" ry="0.9" fill="#6b7c8a"/>
<ellipse cx="800.0" cy="368.5" rx="0.9" ry="0.9" fill="#6b7c8a"/>
<ellipse cx="906.0" cy="382.7" rx="1.3" ry="1.3" fill="#eef1f1" stroke="#2a3237" stroke-width="0.3"/>
<rect x="846.0" y="405.0" width="8.0" height="3.0" fill="#9fb6c6" stroke="#4d6a80" stroke-width="0.4" />
<ellipse cx="760.0" cy="411.5" rx="0.9" ry="0.9" fill="#6b7c8a"/>
<ellipse cx="790.0" cy="410.0" rx="0.9" ry="0.9" fill="#6b7c8a"/>
<ellipse cx="830.0" cy="404.5" rx="0.9" ry="0.9" fill="#6b7c8a"/>
<ellipse cx="870.0" cy="393.5" rx="0.9" ry="0.9" fill="#6b7c8a"/>
<ellipse cx="800.0" cy="392.5" rx="0.9" ry="0.9" fill="#6b7c8a"/>
<text x="311.31" y="122.50" font-size="14.00" fill="#000" font-weight="normal" text-anchor="start" >H</text>
<rect x="323.4" y="111.3" width="35.5" height="12.5" fill="#000" />
<rect x="324.4" y="112.3" width="17.1" height="10.5" fill="#fff" />
<text x="332.77" y="121.20" font-size="10.20" fill="#000" font-weight="normal" text-anchor="middle" textLength="15.0" lengthAdjust="spacingAndGlyphs" stroke="#000" stroke-width="0.22">326</text>
<text x="350.22" y="121.20" font-size="10.20" fill="#fff" font-weight="bold" text-anchor="middle" textLength="15.4" lengthAdjust="spacingAndGlyphs">326</text>
<text x="362.10" y="121.50" font-size="10.00" fill="#000" font-weight="normal" text-anchor="start" >90%</text>
<line x1="338.7" y1="130.5" x2="343.9" y2="130.5" stroke="#000" stroke-width="1.4" />
<line x1="341.3" y1="127.9" x2="341.3" y2="133.1" stroke="#000" stroke-width="1.4" />
<text x="311.31" y="147.50" font-size="14.00" fill="#000" font-weight="normal" text-anchor="start" >H</text>
<rect x="323.4" y="136.3" width="35.5" height="12.5" fill="#000" />
<rect x="324.4" y="137.3" width="17.1" height="10.5" fill="#fff" />
<text x="332.77" y="146.20" font-size="10.20" fill="#000" font-weight="normal" text-anchor="middle"  stroke="#000" stroke-width="0.22">11</text>
<text x="350.22" y="146.20" font-size="10.20" fill="#fff" font-weight="bold" text-anchor="middle" >62</text>
<text x="362.10" y="146.50" font-size="10.00" fill="#000" font-weight="normal" text-anchor="start" >10%</text>
<polyline points="340.8,152.5 340.8,211.0" fill="none" stroke="#555" stroke-width="0.8" />
<text x="471.71" y="143.40" font-size="14.00" fill="#000" font-weight="normal" text-anchor="start" >H</text>
<rect x="483.8" y="132.2" width="35.5" height="12.5" fill="#000" />
<rect x="484.8" y="133.2" width="17.1" height="10.5" fill="#fff" />
<text x="493.17" y="142.10" font-size="10.20" fill="#000" font-weight="normal" text-anchor="middle"  stroke="#000" stroke-width="0.22">12</text>
<text x="510.62" y="142.10" font-size="10.20" fill="#fff" font-weight="bold" text-anchor="middle" >33</text>
<polyline points="502.4,147.4 502.4,161.0 490.4,178.5" fill="none" stroke="#555" stroke-width="0.8" />
<text x="575.01" y="152.20" font-size="14.00" fill="#000" font-weight="normal" text-anchor="start" >H</text>
<rect x="587.1" y="141.0" width="35.5" height="12.5" fill="#000" />
<rect x="588.1" y="142.0" width="17.1" height="10.5" fill="#fff" />
<text x="596.48" y="150.90" font-size="10.20" fill="#000" font-weight="normal" text-anchor="middle"  stroke="#000" stroke-width="0.22">12</text>
<text x="613.93" y="150.90" font-size="10.20" fill="#fff" font-weight="bold" text-anchor="middle" >33</text>
<polyline points="604.5,157.0 604.5,174.0" fill="none" stroke="#555" stroke-width="0.8" />
<text x="99.31" y="198.40" font-size="14.00" fill="#000" font-weight="normal" text-anchor="start" >H</text>
<rect x="111.4" y="187.2" width="35.5" height="12.5" fill="#000" />
<rect x="112.4" y="188.2" width="17.1" height="10.5" fill="#fff" />
<text x="120.78" y="197.10" font-size="10.20" fill="#000" font-weight="normal" text-anchor="middle" textLength="15.0" lengthAdjust="spacingAndGlyphs" stroke="#000" stroke-width="0.22">338</text>
<text x="138.22" y="197.10" font-size="10.20" fill="#fff" font-weight="bold" text-anchor="middle" textLength="15.4" lengthAdjust="spacingAndGlyphs">338</text>
<polyline points="129.5,204.0 129.5,246.0" fill="none" stroke="#555" stroke-width="0.8" />
<text x="833.81" y="218.20" font-size="14.00" fill="#000" font-weight="normal" text-anchor="start" >H</text>
<rect x="845.9" y="207.0" width="35.5" height="12.5" fill="#000" />
<rect x="846.9" y="208.0" width="17.1" height="10.5" fill="#fff" />
<text x="855.27" y="216.90" font-size="10.20" fill="#000" font-weight="normal" text-anchor="middle" textLength="15.0" lengthAdjust="spacingAndGlyphs" stroke="#000" stroke-width="0.22">333</text>
<text x="872.73" y="216.90" font-size="10.20" fill="#fff" font-weight="bold" text-anchor="middle" textLength="15.4" lengthAdjust="spacingAndGlyphs">333</text>
<polyline points="864.3,223.8 864.3,258.8" fill="none" stroke="#555" stroke-width="0.8" />
<text x="84.81" y="330.70" font-size="14.00" fill="#000" font-weight="normal" text-anchor="start" >H</text>
<rect x="96.9" y="319.5" width="35.5" height="12.5" fill="#000" />
<rect x="97.9" y="320.5" width="17.1" height="10.5" fill="#fff" />
<text x="106.28" y="329.40" font-size="10.20" fill="#000" font-weight="normal" text-anchor="middle"  stroke="#000" stroke-width="0.22">12</text>
<text x="123.73" y="329.40" font-size="10.20" fill="#fff" font-weight="bold" text-anchor="middle" >33</text>
<polyline points="115.8,272.5 115.8,315.0" fill="none" stroke="#555" stroke-width="0.8" />
<text x="169.61" y="330.70" font-size="14.00" fill="#000" font-weight="normal" text-anchor="start" >H</text>
<rect x="181.7" y="319.5" width="35.5" height="12.5" fill="#000" />
<rect x="182.7" y="320.5" width="17.1" height="10.5" fill="#fff" />
<text x="191.08" y="329.40" font-size="10.20" fill="#000" font-weight="normal" text-anchor="middle"  stroke="#000" stroke-width="0.22">17</text>
<text x="208.53" y="329.40" font-size="10.20" fill="#fff" font-weight="bold" text-anchor="middle" >29</text>
<polyline points="200.0,289.0 200.0,315.0" fill="none" stroke="#555" stroke-width="0.8" />
<text x="448.61" y="321.40" font-size="14.00" fill="#000" font-weight="normal" text-anchor="start" >H</text>
<rect x="460.7" y="310.2" width="35.5" height="12.5" fill="#000" />
<rect x="461.7" y="311.2" width="17.1" height="10.5" fill="#fff" />
<text x="470.07" y="320.10" font-size="10.20" fill="#000" font-weight="normal" text-anchor="middle"  stroke="#000" stroke-width="0.22">12</text>
<text x="487.52" y="320.10" font-size="10.20" fill="#fff" font-weight="bold" text-anchor="middle" >33</text>
<polyline points="478.5,326.0 478.5,371.0" fill="none" stroke="#555" stroke-width="0.8" />
<text x="513.61" y="321.40" font-size="14.00" fill="#000" font-weight="normal" text-anchor="start" >H</text>
<rect x="525.7" y="310.2" width="35.5" height="12.5" fill="#000" />
<rect x="526.7" y="311.2" width="17.1" height="10.5" fill="#fff" />
<text x="535.07" y="320.10" font-size="10.20" fill="#000" font-weight="normal" text-anchor="middle"  stroke="#000" stroke-width="0.22">11</text>
<text x="552.52" y="320.10" font-size="10.20" fill="#fff" font-weight="bold" text-anchor="middle" >62</text>
<polyline points="543.0,326.0 543.0,340.0" fill="none" stroke="#555" stroke-width="0.8" />
<text x="576.01" y="321.40" font-size="14.00" fill="#000" font-weight="normal" text-anchor="start" >H</text>
<rect x="588.1" y="310.2" width="35.5" height="12.5" fill="#000" />
<rect x="589.1" y="311.2" width="17.1" height="10.5" fill="#fff" />
<text x="597.48" y="320.10" font-size="10.20" fill="#000" font-weight="normal" text-anchor="middle"  stroke="#000" stroke-width="0.22">12</text>
<text x="614.93" y="320.10" font-size="10.20" fill="#fff" font-weight="bold" text-anchor="middle" >33</text>
<polyline points="606.0,326.0 606.0,340.0" fill="none" stroke="#555" stroke-width="0.8" />
<text x="748.81" y="325.40" font-size="14.00" fill="#000" font-weight="normal" text-anchor="start" >H</text>
<rect x="760.9" y="314.2" width="35.5" height="12.5" fill="#000" />
<rect x="761.9" y="315.2" width="17.1" height="10.5" fill="#fff" />
<text x="770.27" y="324.10" font-size="10.20" fill="#000" font-weight="normal" text-anchor="middle"  stroke="#000" stroke-width="0.22">8</text>
<text x="787.73" y="324.10" font-size="10.20" fill="#fff" font-weight="bold" text-anchor="middle" >8</text>
<polyline points="778.8,293.0 778.8,311.0" fill="none" stroke="#555" stroke-width="0.8" />
<text x="830.61" y="326.70" font-size="14.00" fill="#000" font-weight="normal" text-anchor="start" >H</text>
<rect x="842.7" y="315.5" width="35.5" height="12.5" fill="#000" />
<rect x="843.7" y="316.5" width="17.1" height="10.5" fill="#fff" />
<text x="852.07" y="325.40" font-size="10.20" fill="#000" font-weight="normal" text-anchor="middle"  stroke="#000" stroke-width="0.22">9</text>
<text x="869.52" y="325.40" font-size="10.20" fill="#fff" font-weight="bold" text-anchor="middle" >9</text>
<polyline points="861.0,287.5 861.0,312.0" fill="none" stroke="#555" stroke-width="0.8" />
<text x="143.81" y="441.50" font-size="14.00" fill="#000" font-weight="normal" text-anchor="start" >H</text>
<rect x="155.9" y="430.3" width="35.5" height="12.5" fill="#000" />
<rect x="156.9" y="431.3" width="17.1" height="10.5" fill="#fff" />
<text x="165.28" y="440.20" font-size="10.20" fill="#000" font-weight="normal" text-anchor="middle" textLength="15.0" lengthAdjust="spacingAndGlyphs" stroke="#000" stroke-width="0.22">333</text>
<text x="182.72" y="440.20" font-size="10.20" fill="#fff" font-weight="bold" text-anchor="middle" textLength="15.4" lengthAdjust="spacingAndGlyphs">333</text>
<polyline points="173.8,401.0 173.8,426.0" fill="none" stroke="#555" stroke-width="0.8" />
<text x="219.81" y="459.10" font-size="14.00" fill="#000" font-weight="normal" text-anchor="start" >H</text>
<rect x="231.9" y="447.9" width="35.5" height="12.5" fill="#000" />
<rect x="232.9" y="448.9" width="17.1" height="10.5" fill="#fff" />
<text x="241.28" y="457.80" font-size="10.20" fill="#000" font-weight="normal" text-anchor="middle"  stroke="#000" stroke-width="0.22">27</text>
<text x="258.72" y="457.80" font-size="10.20" fill="#fff" font-weight="bold" text-anchor="middle" >44</text>
<polyline points="248.8,410.0 248.8,444.0" fill="none" stroke="#555" stroke-width="0.8" />
<text x="457.41" y="466.20" font-size="14.00" fill="#000" font-weight="normal" text-anchor="start" >H</text>
<rect x="469.5" y="455.0" width="35.5" height="12.5" fill="#000" />
<rect x="470.5" y="456.0" width="17.1" height="10.5" fill="#fff" />
<text x="478.88" y="464.90" font-size="10.20" fill="#000" font-weight="normal" text-anchor="middle"  stroke="#000" stroke-width="0.22">37</text>
<text x="496.32" y="464.90" font-size="10.20" fill="#fff" font-weight="bold" text-anchor="middle" >43</text>
<polyline points="467.0,421.0 487.0,452.5 515.0,422.5" fill="none" stroke="#555" stroke-width="0.8" />
<text x="737.61" y="450.00" font-size="14.00" fill="#000" font-weight="normal" text-anchor="start" >H</text>
<rect x="749.7" y="438.8" width="35.5" height="12.5" fill="#000" />
<rect x="750.7" y="439.8" width="17.1" height="10.5" fill="#fff" />
<text x="759.07" y="448.70" font-size="10.20" fill="#000" font-weight="normal" text-anchor="middle" textLength="15.0" lengthAdjust="spacingAndGlyphs" stroke="#000" stroke-width="0.22">326</text>
<text x="776.52" y="448.70" font-size="10.20" fill="#fff" font-weight="bold" text-anchor="middle" textLength="15.4" lengthAdjust="spacingAndGlyphs">326</text>
<text x="788.40" y="449.00" font-size="10.00" fill="#000" font-weight="normal" text-anchor="start" >90%</text>
<line x1="764.6" y1="457.7" x2="769.8" y2="457.7" stroke="#000" stroke-width="1.4" />
<line x1="767.2" y1="455.1" x2="767.2" y2="460.3" stroke="#000" stroke-width="1.4" />
<text x="737.61" y="474.80" font-size="14.00" fill="#000" font-weight="normal" text-anchor="start" >H</text>
<rect x="749.7" y="463.6" width="35.5" height="12.5" fill="#000" />
<rect x="750.7" y="464.6" width="17.1" height="10.5" fill="#fff" />
<text x="759.07" y="473.50" font-size="10.20" fill="#000" font-weight="normal" text-anchor="middle"  stroke="#000" stroke-width="0.22">11</text>
<text x="776.52" y="473.50" font-size="10.20" fill="#fff" font-weight="bold" text-anchor="middle" >62</text>
<text x="788.40" y="473.80" font-size="10.00" fill="#000" font-weight="normal" text-anchor="start" >10%</text>
<polyline points="767.5,389.0 767.5,434.5" fill="none" stroke="#555" stroke-width="0.8" />
<text x="385.81" y="517.00" font-size="14.00" fill="#000" font-weight="normal" text-anchor="start" >H</text>
<rect x="397.9" y="505.8" width="35.5" height="12.5" fill="#000" />
<rect x="398.9" y="506.8" width="17.1" height="10.5" fill="#fff" />
<text x="407.27" y="515.70" font-size="10.20" fill="#000" font-weight="normal" text-anchor="middle"  stroke="#000" stroke-width="0.22">12</text>
<text x="424.72" y="515.70" font-size="10.20" fill="#fff" font-weight="bold" text-anchor="middle" >33</text>
<polyline points="416.2,522.0 416.2,537.6" fill="none" stroke="#555" stroke-width="0.8" />
<text x="498.41" y="519.50" font-size="14.00" fill="#000" font-weight="normal" text-anchor="start" >H</text>
<rect x="510.5" y="508.3" width="35.5" height="12.5" fill="#000" />
<rect x="511.5" y="509.3" width="17.1" height="10.5" fill="#fff" />
<text x="519.88" y="518.20" font-size="10.20" fill="#000" font-weight="normal" text-anchor="middle"  stroke="#000" stroke-width="0.22">12</text>
<text x="537.33" y="518.20" font-size="10.20" fill="#fff" font-weight="bold" text-anchor="middle" >33</text>
<polyline points="528.6,525.0 528.6,541.0" fill="none" stroke="#555" stroke-width="0.8" />
<text x="765.01" y="517.70" font-size="14.00" fill="#000" font-weight="normal" text-anchor="start" >H</text>
<rect x="777.1" y="506.5" width="35.5" height="12.5" fill="#000" />
<rect x="778.1" y="507.5" width="17.1" height="10.5" fill="#fff" />
<text x="786.48" y="516.40" font-size="10.20" fill="#000" font-weight="normal" text-anchor="middle" textLength="15.0" lengthAdjust="spacingAndGlyphs" stroke="#000" stroke-width="0.22">326</text>
<text x="803.93" y="516.40" font-size="10.20" fill="#fff" font-weight="bold" text-anchor="middle" textLength="15.4" lengthAdjust="spacingAndGlyphs">326</text>
<text x="815.80" y="516.70" font-size="10.00" fill="#000" font-weight="normal" text-anchor="start" >90%</text>
<line x1="793.0" y1="525.4" x2="798.2" y2="525.4" stroke="#000" stroke-width="1.4" />
<line x1="795.6" y1="522.8" x2="795.6" y2="528.0" stroke="#000" stroke-width="1.4" />
<text x="765.01" y="542.50" font-size="14.00" fill="#000" font-weight="normal" text-anchor="start" >H</text>
<rect x="777.1" y="531.3" width="35.5" height="12.5" fill="#000" />
<rect x="778.1" y="532.3" width="17.1" height="10.5" fill="#fff" />
<text x="786.48" y="541.20" font-size="10.20" fill="#000" font-weight="normal" text-anchor="middle"  stroke="#000" stroke-width="0.22">11</text>
<text x="803.93" y="541.20" font-size="10.20" fill="#fff" font-weight="bold" text-anchor="middle" >62</text>
<text x="815.80" y="541.50" font-size="10.00" fill="#000" font-weight="normal" text-anchor="start" >10%</text>
<polyline points="795.2,548.0 795.2,588.0" fill="none" stroke="#555" stroke-width="0.8" />
<text x="857.91" y="559.90" font-size="14.00" fill="#000" font-weight="normal" text-anchor="start" >H</text>
<rect x="870.0" y="548.7" width="35.5" height="12.5" fill="#000" />
<rect x="871.0" y="549.7" width="17.1" height="10.5" fill="#fff" />
<text x="879.38" y="558.60" font-size="10.20" fill="#000" font-weight="normal" text-anchor="middle" textLength="15.0" lengthAdjust="spacingAndGlyphs" stroke="#000" stroke-width="0.22">338</text>
<text x="896.83" y="558.60" font-size="10.20" fill="#fff" font-weight="bold" text-anchor="middle" textLength="15.4" lengthAdjust="spacingAndGlyphs">338</text>
<polyline points="887.6,565.0 887.6,607.0" fill="none" stroke="#555" stroke-width="0.8" />
<text x="123.81" y="579.20" font-size="14.00" fill="#000" font-weight="normal" text-anchor="start" >H</text>
<rect x="135.9" y="568.0" width="35.5" height="12.5" fill="#000" />
<rect x="136.9" y="569.0" width="17.1" height="10.5" fill="#fff" />
<text x="145.28" y="577.90" font-size="10.20" fill="#000" font-weight="normal" text-anchor="middle" textLength="15.0" lengthAdjust="spacingAndGlyphs" stroke="#000" stroke-width="0.22">333</text>
<text x="162.72" y="577.90" font-size="10.20" fill="#fff" font-weight="bold" text-anchor="middle" textLength="15.4" lengthAdjust="spacingAndGlyphs">333</text>
<polyline points="154.3,585.0 154.3,620.0" fill="none" stroke="#555" stroke-width="0.8" />
<text x="124.31" y="689.00" font-size="14.00" fill="#000" font-weight="normal" text-anchor="start" >H</text>
<rect x="136.4" y="677.8" width="35.5" height="12.5" fill="#000" />
<rect x="137.4" y="678.8" width="17.1" height="10.5" fill="#fff" />
<text x="145.78" y="687.70" font-size="10.20" fill="#000" font-weight="normal" text-anchor="middle"  stroke="#000" stroke-width="0.22">9</text>
<text x="163.22" y="687.70" font-size="10.20" fill="#fff" font-weight="bold" text-anchor="middle" >9</text>
<polyline points="155.0,652.5 155.0,675.0" fill="none" stroke="#555" stroke-width="0.8" />
<text x="210.11" y="689.00" font-size="14.00" fill="#000" font-weight="normal" text-anchor="start" >H</text>
<rect x="222.2" y="677.8" width="35.5" height="12.5" fill="#000" />
<rect x="223.2" y="678.8" width="17.1" height="10.5" fill="#fff" />
<text x="231.58" y="687.70" font-size="10.20" fill="#000" font-weight="normal" text-anchor="middle"  stroke="#000" stroke-width="0.22">8</text>
<text x="249.03" y="687.70" font-size="10.20" fill="#fff" font-weight="bold" text-anchor="middle" >8</text>
<polyline points="240.0,656.0 240.0,675.0" fill="none" stroke="#555" stroke-width="0.8" />
<text x="405.31" y="688.20" font-size="14.00" fill="#000" font-weight="normal" text-anchor="start" >H</text>
<rect x="417.4" y="677.0" width="35.5" height="12.5" fill="#000" />
<rect x="418.4" y="678.0" width="17.1" height="10.5" fill="#fff" />
<text x="426.77" y="686.90" font-size="10.20" fill="#000" font-weight="normal" text-anchor="middle"  stroke="#000" stroke-width="0.22">17</text>
<text x="444.22" y="686.90" font-size="10.20" fill="#fff" font-weight="bold" text-anchor="middle" >29</text>
<polyline points="435.5,647.5 435.5,672.5" fill="none" stroke="#555" stroke-width="0.8" />
<text x="490.31" y="688.20" font-size="14.00" fill="#000" font-weight="normal" text-anchor="start" >H</text>
<rect x="502.4" y="677.0" width="35.5" height="12.5" fill="#000" />
<rect x="503.4" y="678.0" width="17.1" height="10.5" fill="#fff" />
<text x="511.77" y="686.90" font-size="10.20" fill="#000" font-weight="normal" text-anchor="middle"  stroke="#000" stroke-width="0.22">12</text>
<text x="529.23" y="686.90" font-size="10.20" fill="#fff" font-weight="bold" text-anchor="middle" >33</text>
<polyline points="520.5,636.0 520.5,672.5" fill="none" stroke="#555" stroke-width="0.8" />
<text x="626.80" y="687.60" font-size="10.40" fill="#000" font-weight="normal" text-anchor="start" >H</text>
<rect x="636.4" y="681.2" width="6.6" height="6.6" fill="#fff" stroke="#555" stroke-width="0.7" />
<line x1="637.4" y1="682.2" x2="642.0" y2="686.8" stroke="#666" stroke-width="0.7" />
<line x1="642.0" y1="682.2" x2="637.4" y2="686.8" stroke="#666" stroke-width="0.7" />
<text x="649.60" y="687.60" font-size="10.40" fill="#111" font-weight="bold" text-anchor="start" textLength="137.5" lengthAdjust="spacingAndGlyphs">AQUEOUS HOBBY COLOR</text>
<rect x="801.5" y="681.2" width="6.6" height="6.6" fill="#111" stroke="#555" stroke-width="0.7" />
<line x1="802.5" y1="682.2" x2="807.1" y2="686.8" stroke="#fff" stroke-width="0.7" />
<line x1="807.1" y1="682.2" x2="802.5" y2="686.8" stroke="#fff" stroke-width="0.7" />
<text x="817.00" y="687.60" font-size="10.40" fill="#111" font-weight="bold" text-anchor="start" textLength="56.2" lengthAdjust="spacingAndGlyphs">Mr. COLOR</text>
<text x="882.40" y="687.60" font-size="10.40" fill="#000" font-weight="normal" text-anchor="start" >N</text>
<rect x="892.2" y="681.2" width="6.6" height="6.6" fill="#fff" stroke="#555" stroke-width="0.7" />
<line x1="893.2" y1="682.2" x2="897.8" y2="686.8" stroke="#666" stroke-width="0.7" />
<line x1="897.8" y1="682.2" x2="893.2" y2="686.8" stroke="#666" stroke-width="0.7" />
<text x="905.30" y="687.60" font-size="10.40" fill="#111" font-weight="bold" text-anchor="start" textLength="95.5" lengthAdjust="spacingAndGlyphs">ACRYSION COLOR</text>
</svg>
</body></html>
